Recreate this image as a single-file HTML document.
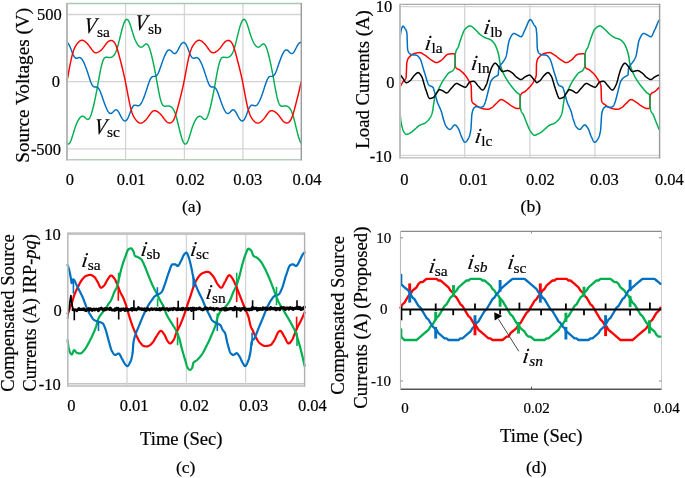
<!DOCTYPE html>
<html><head><meta charset="utf-8"><title>figure</title>
<style>html,body{margin:0;padding:0;background:#fff;}body{width:685px;height:478px;overflow:hidden;}svg{display:block;will-change:transform;}text{font-family:"Liberation Serif",serif;stroke:#000;stroke-width:0.2px;}</style>
</head><body>
<svg width="685" height="478" viewBox="0 0 685 478" font-family="Liberation Serif, serif">
<rect width="685" height="478" fill="#fff"/>
<line x1="67" y1="14.5" x2="301.3" y2="14.5" stroke="#d4d4d4" stroke-width="1.3" />
<line x1="67" y1="81.7" x2="301.3" y2="81.7" stroke="#d4d4d4" stroke-width="1.3" />
<line x1="67" y1="148.8" x2="301.3" y2="148.8" stroke="#d4d4d4" stroke-width="1.3" />
<line x1="125.6" y1="3.5" x2="125.6" y2="159.7" stroke="#d4d4d4" stroke-width="1.3" />
<line x1="184.4" y1="3.5" x2="184.4" y2="159.7" stroke="#d4d4d4" stroke-width="1.3" />
<line x1="242.9" y1="3.5" x2="242.9" y2="159.7" stroke="#d4d4d4" stroke-width="1.3" />
<path d="M67 143.32 L67.5 143.81 L68 144.06 L68.5 144.05 L69 143.8 L69.5 143.29 L70 142.55 L70.5 141.58 L71 140.42 L71.5 139.08 L72 137.6 L72.5 136.02 L73 134.38 L73.5 132.72 L74 131.06 L74.5 129.45 L75 127.9 L75.5 126.44 L76 125.07 L76.5 123.81 L77 122.65 L77.5 121.6 L78 120.64 L78.5 119.77 L79 119 L79.5 118.3 L80 117.7 L80.5 117.19 L81 116.78 L81.5 116.47 L82 116.29 L82.5 116.23 L83 116.29 L83.5 116.47 L84 116.76 L84.5 117.15 L85 117.59 L85.5 118.06 L86 118.53 L86.5 118.94 L87 119.25 L87.5 119.43 L88 119.44 L88.5 119.24 L89 118.83 L89.5 118.19 L90 117.31 L90.5 116.22 L91 114.91 L91.5 113.42 L92 111.76 L92.5 109.96 L93 108.03 L93.5 106 L94 103.86 L94.5 101.64 L95 99.33 L95.5 96.94 L96 94.45 L96.5 91.89 L97 89.24 L97.5 86.52 L98 83.75 L98.5 80.95 L99 78.15 L99.5 75.39 L100 72.71 L100.5 70.16 L101 67.78 L101.5 65.61 L102 63.67 L102.5 61.99 L103 60.59 L103.5 59.45 L104 58.58 L104.5 57.95 L105 57.53 L105.5 57.28 L106 57.17 L106.5 57.16 L107 57.21 L107.5 57.3 L108 57.38 L108.5 57.46 L109 57.5 L109.5 57.5 L110 57.47 L110.5 57.39 L111 57.26 L111.5 57.08 L112 56.86 L112.5 56.57 L113 56.21 L113.5 55.76 L114 55.2 L114.5 54.53 L115 53.72 L115.5 52.75 L116 51.62 L116.5 50.32 L117 48.86 L117.5 47.25 L118 45.49 L118.5 43.61 L119 41.63 L119.5 39.59 L120 37.51 L120.5 35.43 L121 33.38 L121.5 31.38 L122 29.46 L122.5 27.64 L123 25.96 L123.5 24.43 L124 23.07 L124.5 21.89 L125 20.92 L125.5 20.16 L126 19.64 L126.5 19.36 L127 19.33 L127.5 19.55 L128 20.02 L128.5 20.73 L129 21.67 L129.5 22.81 L130 24.13 L130.5 25.59 L131 27.15 L131.5 28.79 L132 30.45 L132.5 32.11 L133 33.73 L133.5 35.29 L134 36.77 L134.5 38.15 L135 39.42 L135.5 40.59 L136 41.66 L136.5 42.63 L137 43.51 L137.5 44.3 L138 45.01 L138.5 45.62 L139 46.15 L139.5 46.57 L140 46.89 L140.5 47.09 L141 47.17 L141.5 47.13 L142 46.96 L142.5 46.68 L143 46.31 L143.5 45.87 L144 45.4 L144.5 44.94 L145 44.52 L145.5 44.19 L146 43.99 L146.5 43.95 L147 44.12 L147.5 44.5 L148 45.11 L148.5 45.95 L149 47.02 L149.5 48.29 L150 49.76 L150.5 51.4 L151 53.18 L151.5 55.09 L152 57.11 L152.5 59.23 L153 61.44 L153.5 63.74 L154 66.12 L154.5 68.59 L155 71.15 L155.5 73.79 L156 76.5 L156.5 79.26 L157 82.06 L157.5 84.86 L158 87.63 L158.5 90.32 L159 92.89 L159.5 95.3 L160 97.5 L160.5 99.47 L161 101.19 L161.5 102.63 L162 103.8 L162.5 104.71 L163 105.38 L163.5 105.83 L164 106.09 L164.5 106.22 L165 106.24 L165.5 106.2 L166 106.12 L166.5 106.03 L167 105.95 L167.5 105.9 L168 105.89 L168.5 105.93 L169 106 L169.5 106.12 L170 106.29 L170.5 106.51 L171 106.79 L171.5 107.14 L172 107.57 L172.5 108.11 L173 108.77 L173.5 109.56 L174 110.51 L174.5 111.61 L175 112.88 L175.5 114.32 L176 115.92 L176.5 117.66 L177 119.52 L177.5 121.49 L178 123.52 L178.5 125.59 L179 127.68 L179.5 129.74 L180 131.75 L180.5 133.68 L181 135.51 L181.5 137.21 L182 138.77 L182.5 140.15 L183 141.36 L183.5 142.36 L184 143.14 L184.5 143.7 L185 144.01 L185.5 144.08 L186 143.89 L186.5 143.46 L187 142.78 L187.5 141.87 L188 140.76 L188.5 139.47 L189 138.03 L189.5 136.47 L190 134.85 L190.5 133.18 L191 131.52 L191.5 129.89 L192 128.32 L192.5 126.84 L193 125.44 L193.5 124.15 L194 122.97 L194.5 121.88 L195 120.9 L195.5 120.01 L196 119.2 L196.5 118.49 L197 117.86 L197.5 117.32 L198 116.88 L198.5 116.55 L199 116.33 L199.5 116.23 L200 116.26 L200.5 116.41 L201 116.67 L201.5 117.03 L202 117.46 L202.5 117.93 L203 118.4 L203.5 118.83 L204 119.17 L204.5 119.39 L205 119.45 L205.5 119.32 L206 118.97 L206.5 118.39 L207 117.58 L207.5 116.55 L208 115.3 L208.5 113.86 L209 112.24 L209.5 110.48 L210 108.58 L210.5 106.58 L211 104.47 L211.5 102.27 L212 99.99 L212.5 97.62 L213 95.16 L213.5 92.61 L214 89.99 L214.5 87.29 L215 84.53 L215.5 81.73 L216 78.93 L216.5 76.16 L217 73.45 L217.5 70.86 L218 68.43 L218.5 66.19 L219 64.19 L219.5 62.43 L220 60.95 L220.5 59.74 L221 58.8 L221.5 58.1 L222 57.63 L222.5 57.33 L223 57.19 L223.5 57.16 L224 57.2 L224.5 57.27 L225 57.36 L225.5 57.44 L226 57.49 L226.5 57.51 L227 57.48 L227.5 57.41 L228 57.3 L228.5 57.14 L229 56.93 L229.5 56.66 L230 56.32 L230.5 55.89 L231 55.37 L231.5 54.73 L232 53.96 L232.5 53.04 L233 51.95 L233.5 50.7 L234 49.29 L234.5 47.71 L235 45.99 L235.5 44.15 L236 42.19 L236.5 40.17 L237 38.1 L237.5 36.01 L238 33.95 L238.5 31.93 L239 29.98 L239.5 28.14 L240 26.42 L240.5 24.84 L241 23.43 L241.5 22.2 L242 21.17 L242.5 20.35 L243 19.76 L243.5 19.42 L244 19.31 L244.5 19.46 L245 19.87 L245.5 20.51 L246 21.39 L246.5 22.47 L247 23.74 L247.5 25.17 L248 26.7 L248.5 28.32 L249 29.98 L249.5 31.65 L250 33.28 L250.5 34.86 L251 36.36 L251.5 37.77 L252 39.07 L252.5 40.27 L253 41.37 L253.5 42.37 L254 43.27 L254.5 44.09 L255 44.82 L255.5 45.46 L256 46.01 L256.5 46.46 L257 46.81 L257.5 47.05 L258 47.16 L258.5 47.15 L259 47.02 L259.5 46.77 L260 46.42 L260.5 46 L261 45.54 L261.5 45.06 L262 44.63 L262.5 44.27 L263 44.03 L263.5 43.94 L264 44.05 L264.5 44.37 L265 44.92 L265.5 45.69 L266 46.7 L266.5 47.91 L267 49.33 L267.5 50.92 L268 52.67 L268.5 54.54 L269 56.54 L269.5 58.63 L270 60.82 L270.5 63.09 L271 65.45 L271.5 67.89 L272 70.42 L272.5 73.04 L273 75.73 L273.5 78.48 L274 81.27 L274.5 84.08 L275 86.86 L275.5 89.57 L276 92.18 L276.5 94.64 L277 96.91 L277.5 98.95 L278 100.74 L278.5 102.26 L279 103.5 L279.5 104.48 L280 105.21 L280.5 105.72 L281 106.03 L281.5 106.2 L282 106.24 L282.5 106.21 L283 106.14 L283.5 106.05 L284 105.97 L284.5 105.91 L285 105.89 L285.5 105.91 L286 105.97 L286.5 106.08 L287 106.24 L287.5 106.44 L288 106.7 L288.5 107.03 L289 107.44 L289.5 107.95 L290 108.57 L290.5 109.33 L291 110.23 L291.5 111.29 L292 112.51 L292.5 113.9 L293 115.46 L293.5 117.16 L294 118.99 L294.5 120.93 L295 122.94 L295.5 125.01 L296 127.09 L296.5 129.16 L297 131.19 L297.5 133.15 L298 135.01 L298.5 136.75 L299 138.35 L299.5 139.78 L300 141.04 L300.5 142.1 L301 142.95" fill="none" stroke="#00b050" stroke-width="1.45" stroke-linejoin="round" stroke-linecap="round" />
<path d="M67 42.54 L67.5 42.82 L68 43.28 L68.5 43.91 L69 44.71 L69.5 45.67 L70 46.76 L70.5 47.96 L71 49.23 L71.5 50.55 L72 51.87 L72.5 53.15 L73 54.34 L73.5 55.41 L74 56.33 L74.5 57.08 L75 57.64 L75.5 58.02 L76 58.23 L76.5 58.29 L77 58.23 L77.5 58.1 L78 57.92 L78.5 57.76 L79 57.63 L79.5 57.59 L80 57.65 L80.5 57.85 L81 58.18 L81.5 58.65 L82 59.26 L82.5 59.99 L83 60.85 L83.5 61.81 L84 62.85 L84.5 63.98 L85 65.18 L85.5 66.45 L86 67.77 L86.5 69.16 L87 70.6 L87.5 72.1 L88 73.63 L88.5 75.19 L89 76.75 L89.5 78.29 L90 79.78 L90.5 81.19 L91 82.49 L91.5 83.65 L92 84.65 L92.5 85.47 L93 86.1 L93.5 86.55 L94 86.84 L94.5 86.99 L95 87.05 L95.5 87.05 L96 87.04 L96.5 87.07 L97 87.18 L97.5 87.42 L98 87.8 L98.5 88.35 L99 89.07 L99.5 89.96 L100 91.01 L100.5 92.2 L101 93.5 L101.5 94.88 L102 96.31 L102.5 97.77 L103 99.24 L103.5 100.69 L104 102.1 L104.5 103.48 L105 104.8 L105.5 106.07 L106 107.27 L106.5 108.41 L107 109.46 L107.5 110.43 L108 111.29 L108.5 112.03 L109 112.64 L109.5 113.1 L110 113.39 L110.5 113.52 L111 113.48 L111.5 113.29 L112 112.97 L112.5 112.54 L113 112.04 L113.5 111.51 L114 110.98 L114.5 110.52 L115 110.14 L115.5 109.89 L116 109.8 L116.5 109.87 L117 110.13 L117.5 110.55 L118 111.14 L118.5 111.87 L119 112.71 L119.5 113.64 L120 114.61 L120.5 115.59 L121 116.56 L121.5 117.49 L122 118.34 L122.5 119.1 L123 119.75 L123.5 120.27 L124 120.66 L124.5 120.9 L125 120.97 L125.5 120.89 L126 120.63 L126.5 120.19 L127 119.58 L127.5 118.81 L128 117.88 L128.5 116.8 L129 115.62 L129.5 114.35 L130 113.03 L130.5 111.71 L131 110.43 L131.5 109.22 L132 108.13 L132.5 107.19 L133 106.41 L133.5 105.82 L134 105.42 L134.5 105.19 L135 105.11 L135.5 105.15 L136 105.28 L136.5 105.45 L137 105.62 L137.5 105.75 L138 105.81 L138.5 105.76 L139 105.59 L139.5 105.28 L140 104.83 L140.5 104.24 L141 103.52 L141.5 102.68 L142 101.73 L142.5 100.7 L143 99.58 L143.5 98.39 L144 97.13 L144.5 95.81 L145 94.44 L145.5 93 L146 91.52 L146.5 89.99 L147 88.43 L147.5 86.87 L148 85.32 L148.5 83.82 L149 82.4 L149.5 81.08 L150 79.9 L150.5 78.88 L151 78.04 L151.5 77.38 L152 76.9 L152.5 76.59 L153 76.42 L153.5 76.36 L154 76.35 L154.5 76.36 L155 76.34 L155.5 76.24 L156 76.02 L156.5 75.67 L157 75.14 L157.5 74.44 L158 73.58 L158.5 72.55 L159 71.38 L159.5 70.09 L160 68.72 L160.5 67.29 L161 65.83 L161.5 64.37 L162 62.92 L162.5 61.49 L163 60.11 L163.5 58.78 L164 57.51 L164.5 56.29 L165 55.15 L165.5 54.08 L166 53.1 L166.5 52.22 L167 51.46 L167.5 50.84 L168 50.36 L168.5 50.04 L169 49.89 L169.5 49.9 L170 50.07 L170.5 50.38 L171 50.79 L171.5 51.29 L172 51.82 L172.5 52.34 L173 52.82 L173.5 53.22 L174 53.48 L174.5 53.6 L175 53.55 L175.5 53.32 L176 52.92 L176.5 52.35 L177 51.64 L177.5 50.81 L178 49.9 L178.5 48.93 L179 47.94 L179.5 46.97 L180 46.04 L180.5 45.18 L181 44.4 L181.5 43.73 L182 43.19 L182.5 42.79 L183 42.53 L183.5 42.43 L184 42.49 L184.5 42.73 L185 43.14 L185.5 43.72 L186 44.47 L186.5 45.39 L187 46.44 L187.5 47.61 L188 48.87 L188.5 50.18 L189 51.51 L189.5 52.8 L190 54.02 L190.5 55.13 L191 56.09 L191.5 56.89 L192 57.5 L192.5 57.93 L193 58.19 L193.5 58.29 L194 58.26 L194.5 58.14 L195 57.97 L195.5 57.8 L196 57.66 L196.5 57.59 L197 57.62 L197.5 57.78 L198 58.07 L198.5 58.5 L199 59.07 L199.5 59.78 L200 60.6 L200.5 61.53 L201 62.55 L201.5 63.66 L202 64.84 L202.5 66.09 L203 67.4 L203.5 68.77 L204 70.2 L204.5 71.67 L205 73.2 L205.5 74.75 L206 76.31 L206.5 77.86 L207 79.37 L207.5 80.81 L208 82.14 L208.5 83.34 L209 84.39 L209.5 85.26 L210 85.94 L210.5 86.44 L211 86.77 L211.5 86.96 L212 87.04 L212.5 87.05 L213 87.04 L213.5 87.06 L214 87.14 L214.5 87.34 L215 87.67 L215.5 88.17 L216 88.85 L216.5 89.69 L217 90.7 L217.5 91.85 L218 93.12 L218.5 94.48 L219 95.91 L219.5 97.36 L220 98.83 L220.5 100.28 L221 101.71 L221.5 103.1 L222 104.43 L222.5 105.72 L223 106.94 L223.5 108.1 L224 109.18 L224.5 110.17 L225 111.06 L225.5 111.84 L226 112.49 L226.5 112.98 L227 113.32 L227.5 113.5 L228 113.51 L228.5 113.36 L229 113.07 L229.5 112.67 L230 112.19 L230.5 111.66 L231 111.13 L231.5 110.64 L232 110.23 L232.5 109.95 L233 109.81 L233.5 109.83 L234 110.04 L234.5 110.42 L235 110.96 L235.5 111.65 L236 112.47 L236.5 113.37 L237 114.33 L237.5 115.32 L238 116.29 L238.5 117.23 L239 118.11 L239.5 118.9 L240 119.58 L240.5 120.14 L241 120.57 L241.5 120.85 L242 120.97 L242.5 120.93 L243 120.72 L243.5 120.33 L244 119.77 L244.5 119.04 L245 118.15 L245.5 117.12 L246 115.96 L246.5 114.71 L247 113.4 L247.5 112.08 L248 110.78 L248.5 109.55 L249 108.42 L249.5 107.43 L250 106.61 L250.5 105.97 L251 105.51 L251.5 105.24 L252 105.12 L252.5 105.13 L253 105.24 L253.5 105.4 L254 105.58 L254.5 105.72 L255 105.8 L255.5 105.79 L256 105.65 L256.5 105.38 L257 104.97 L257.5 104.41 L258 103.73 L258.5 102.92 L259 102.01 L259.5 101 L260 99.9 L260.5 98.73 L261 97.49 L261.5 96.19 L262 94.83 L262.5 93.41 L263 91.94 L263.5 90.42 L264 88.87 L264.5 87.31 L265 85.75 L265.5 84.24 L266 82.79 L266.5 81.44 L267 80.21 L267.5 79.15 L268 78.25 L268.5 77.55 L269 77.02 L269.5 76.67 L270 76.46 L270.5 76.37 L271 76.35 L271.5 76.36 L272 76.35 L272.5 76.28 L273 76.1 L273.5 75.78 L274 75.31 L274.5 74.66 L275 73.84 L275.5 72.85 L276 71.72 L276.5 70.46 L277 69.11 L277.5 67.69 L278 66.24 L278.5 64.78 L279 63.32 L279.5 61.89 L280 60.5 L280.5 59.15 L281 57.86 L281.5 56.63 L282 55.46 L282.5 54.37 L283 53.36 L283.5 52.46 L284 51.66 L284.5 51 L285 50.48 L285.5 50.11 L286 49.92 L286.5 49.88 L287 50.01 L287.5 50.28 L288 50.67 L288.5 51.14 L289 51.67 L289.5 52.2 L290 52.7 L290.5 53.12 L291 53.42 L291.5 53.58 L292 53.58 L292.5 53.4 L293 53.05 L293.5 52.52 L294 51.85 L294.5 51.05 L295 50.16 L295.5 49.2 L296 48.22 L296.5 47.24 L297 46.29 L297.5 45.41 L298 44.61 L298.5 43.91 L299 43.33 L299.5 42.88 L300 42.58 L300.5 42.44 L301 42.46" fill="none" stroke="#0070c0" stroke-width="1.45" stroke-linejoin="round" stroke-linecap="round" />
<path d="M67 80.93 L67.5 78.39 L68 75.77 L68.5 73.11 L69 70.42 L69.5 67.74 L70 65.12 L70.5 62.58 L71 60.16 L71.5 57.9 L72 55.81 L72.5 53.9 L73 52.19 L73.5 50.67 L74 49.33 L74.5 48.15 L75 47.1 L75.5 46.18 L76 45.36 L76.5 44.61 L77 43.93 L77.5 43.29 L78 42.71 L78.5 42.17 L79 41.69 L79.5 41.26 L80 40.9 L80.5 40.62 L81 40.41 L81.5 40.29 L82 40.25 L82.5 40.3 L83 40.43 L83.5 40.62 L84 40.88 L84.5 41.19 L85 41.55 L85.5 41.94 L86 42.37 L86.5 42.83 L87 43.32 L87.5 43.85 L88 44.41 L88.5 45.01 L89 45.65 L89.5 46.32 L90 47.02 L90.5 47.73 L91 48.46 L91.5 49.17 L92 49.86 L92.5 50.5 L93 51.09 L93.5 51.6 L94 52.02 L94.5 52.35 L95 52.58 L95.5 52.71 L96 52.75 L96.5 52.71 L97 52.6 L97.5 52.43 L98 52.2 L98.5 51.94 L99 51.64 L99.5 51.31 L100 50.96 L100.5 50.57 L101 50.14 L101.5 49.68 L102 49.18 L102.5 48.63 L103 48.04 L103.5 47.41 L104 46.75 L104.5 46.06 L105 45.37 L105.5 44.67 L106 44 L106.5 43.36 L107 42.77 L107.5 42.23 L108 41.76 L108.5 41.36 L109 41.04 L109.5 40.78 L110 40.6 L110.5 40.49 L111 40.45 L111.5 40.48 L112 40.59 L112.5 40.79 L113 41.08 L113.5 41.48 L114 42.01 L114.5 42.67 L115 43.48 L115.5 44.44 L116 45.56 L116.5 46.84 L117 48.26 L117.5 49.82 L118 51.49 L118.5 53.26 L119 55.1 L119.5 57 L120 58.93 L120.5 60.88 L121 62.83 L121.5 64.8 L122 66.78 L122.5 68.79 L123 70.83 L123.5 72.92 L124 75.09 L124.5 77.34 L125 79.68 L125.5 82.12 L126 84.65 L126.5 87.26 L127 89.92 L127.5 92.6 L128 95.28 L128.5 97.92 L129 100.47 L129.5 102.91 L130 105.19 L130.5 107.31 L131 109.24 L131.5 110.98 L132 112.53 L132.5 113.89 L133 115.1 L133.5 116.16 L134 117.1 L134.5 117.93 L135 118.69 L135.5 119.38 L136 120.02 L136.5 120.61 L137 121.15 L137.5 121.65 L138 122.08 L138.5 122.45 L139 122.75 L139.5 122.96 L140 123.1 L140.5 123.15 L141 123.11 L141.5 122.99 L142 122.81 L142.5 122.56 L143 122.26 L143.5 121.91 L144 121.52 L144.5 121.09 L145 120.64 L145.5 120.15 L146 119.63 L146.5 119.07 L147 118.47 L147.5 117.84 L148 117.18 L148.5 116.48 L149 115.77 L149.5 115.05 L150 114.33 L150.5 113.64 L151 112.98 L151.5 112.39 L152 111.87 L152.5 111.44 L153 111.09 L153.5 110.85 L154 110.7 L154.5 110.65 L155 110.68 L155.5 110.78 L156 110.94 L156.5 111.16 L157 111.42 L157.5 111.71 L158 112.04 L158.5 112.39 L159 112.78 L159.5 113.2 L160 113.65 L160.5 114.15 L161 114.69 L161.5 115.27 L162 115.9 L162.5 116.56 L163 117.24 L163.5 117.94 L164 118.63 L164.5 119.31 L165 119.95 L165.5 120.55 L166 121.1 L166.5 121.58 L167 121.99 L167.5 122.32 L168 122.59 L168.5 122.78 L169 122.9 L169.5 122.95 L170 122.93 L170.5 122.83 L171 122.65 L171.5 122.37 L172 121.98 L172.5 121.47 L173 120.83 L173.5 120.04 L174 119.1 L174.5 118.01 L175 116.75 L175.5 115.35 L176 113.81 L176.5 112.15 L177 110.39 L177.5 108.56 L178 106.67 L178.5 104.74 L179 102.8 L179.5 100.84 L180 98.87 L180.5 96.9 L181 94.9 L181.5 92.86 L182 90.77 L182.5 88.62 L183 86.38 L183.5 84.05 L184 81.63 L184.5 79.11 L185 76.51 L185.5 73.86 L186 71.17 L186.5 68.49 L187 65.85 L187.5 63.28 L188 60.83 L188.5 58.52 L189 56.38 L189.5 54.42 L190 52.65 L190.5 51.08 L191 49.69 L191.5 48.46 L192 47.38 L192.5 46.43 L193 45.58 L193.5 44.81 L194 44.11 L194.5 43.47 L195 42.87 L195.5 42.32 L196 41.82 L196.5 41.38 L197 41 L197.5 40.69 L198 40.46 L198.5 40.32 L199 40.26 L199.5 40.28 L200 40.38 L200.5 40.56 L201 40.8 L201.5 41.1 L202 41.44 L202.5 41.83 L203 42.25 L203.5 42.7 L204 43.18 L204.5 43.7 L205 44.25 L205.5 44.84 L206 45.47 L206.5 46.13 L207 46.82 L207.5 47.53 L208 48.25 L208.5 48.97 L209 49.67 L209.5 50.33 L210 50.93 L210.5 51.46 L211 51.91 L211.5 52.26 L212 52.52 L212.5 52.68 L213 52.75 L213.5 52.73 L214 52.64 L214.5 52.48 L215 52.27 L215.5 52.02 L216 51.73 L216.5 51.41 L217 51.06 L217.5 50.68 L218 50.27 L218.5 49.82 L219 49.32 L219.5 48.79 L220 48.21 L220.5 47.59 L221 46.94 L221.5 46.26 L222 45.56 L222.5 44.87 L223 44.19 L223.5 43.53 L224 42.93 L224.5 42.37 L225 41.89 L225.5 41.47 L226 41.12 L226.5 40.84 L227 40.64 L227.5 40.51 L228 40.45 L228.5 40.46 L229 40.55 L229.5 40.72 L230 40.99 L230.5 41.36 L231 41.85 L231.5 42.47 L232 43.24 L232.5 44.15 L233 45.23 L233.5 46.46 L234 47.85 L234.5 49.37 L235 51.01 L235.5 52.76 L236 54.58 L236.5 56.46 L237 58.38 L237.5 60.33 L238 62.29 L238.5 64.25 L239 66.23 L239.5 68.22 L240 70.25 L240.5 72.33 L241 74.47 L241.5 76.7 L242 79.02 L242.5 81.43 L243 83.93 L243.5 86.52 L244 89.17 L244.5 91.85 L245 94.54 L245.5 97.19 L246 99.77 L246.5 102.24 L247 104.57 L247.5 106.74 L248 108.72 L248.5 110.51 L249 112.11 L249.5 113.53 L250 114.78 L250.5 115.87 L251 116.84 L251.5 117.71 L252 118.49 L252.5 119.19 L253 119.85 L253.5 120.45 L254 121.01 L254.5 121.51 L255 121.96 L255.5 122.35 L256 122.67 L256.5 122.91 L257 123.07 L257.5 123.14 L258 123.13 L258.5 123.03 L259 122.87 L259.5 122.64 L260 122.35 L260.5 122.01 L261 121.63 L261.5 121.21 L262 120.77 L262.5 120.29 L263 119.78 L263.5 119.23 L264 118.64 L264.5 118.02 L265 117.37 L265.5 116.68 L266 115.97 L266.5 115.25 L267 114.53 L267.5 113.83 L268 113.16 L268.5 112.55 L269 112.01 L269.5 111.55 L270 111.18 L270.5 110.91 L271 110.73 L271.5 110.65 L272 110.66 L272.5 110.74 L273 110.89 L273.5 111.1 L274 111.34 L274.5 111.63 L275 111.94 L275.5 112.29 L276 112.67 L276.5 113.07 L277 113.52 L277.5 114 L278 114.53 L278.5 115.11 L279 115.72 L279.5 116.37 L280 117.05 L280.5 117.74 L281 118.44 L281.5 119.12 L282 119.78 L282.5 120.39 L283 120.95 L283.5 121.45 L284 121.88 L284.5 122.24 L285 122.52 L285.5 122.73 L286 122.87 L286.5 122.94 L287 122.94 L287.5 122.87 L288 122.71 L288.5 122.45 L289 122.1 L289.5 121.63 L290 121.02 L290.5 120.28 L291 119.38 L291.5 118.33 L292 117.12 L292.5 115.76 L293 114.25 L293.5 112.63 L294 110.89 L294.5 109.08 L295 107.2 L295.5 105.29 L296 103.34 L296.5 101.39 L297 99.43 L297.5 97.45 L298 95.46 L298.5 93.43 L299 91.36 L299.5 89.23 L300 87.02 L300.5 84.71 L301 82.32" fill="none" stroke="#ff0000" stroke-width="1.45" stroke-linejoin="round" stroke-linecap="round" />
<line x1="67" y1="3.5" x2="301.3" y2="3.5" stroke="#a3cbb0" stroke-width="1.3" />
<line x1="67" y1="159.7" x2="301.3" y2="159.7" stroke="#b9cbbd" stroke-width="1.6" />
<line x1="67" y1="2.9" x2="67" y2="160.5" stroke="#b5b5b5" stroke-width="1.9" />
<line x1="301.3" y1="2.9" x2="301.3" y2="160.5" stroke="#9a9a9a" stroke-width="1.4" />
<line x1="400" y1="6.6" x2="659.6" y2="6.6" stroke="#d4d4d4" stroke-width="1.3" />
<line x1="400" y1="80.7" x2="659.6" y2="80.7" stroke="#d4d4d4" stroke-width="1.3" />
<line x1="400" y1="155.4" x2="659.6" y2="155.4" stroke="#d4d4d4" stroke-width="1.3" />
<line x1="464.7" y1="4.4" x2="464.7" y2="157.7" stroke="#d4d4d4" stroke-width="1.3" />
<line x1="529.9" y1="4.4" x2="529.9" y2="157.7" stroke="#d4d4d4" stroke-width="1.3" />
<line x1="594.9" y1="4.4" x2="594.9" y2="157.7" stroke="#d4d4d4" stroke-width="1.3" />
<path d="M400 86.9 L400.25 86.44 L400.5 85.98 L400.75 85.53 L401 85.08 L401.25 84.65 L401.5 84.22 L401.75 83.8 L402 83.38 L402.25 82.97 L402.5 82.57 L402.75 82.18 L403 81.8 L403.25 81.46 L403.5 81.17 L403.75 80.92 L404 80.69 L404.25 80.47 L404.5 80.24 L404.75 79.99 L405 79.69 L405.25 79.32 L405.5 78.88 L405.75 78.35 L406 77.7 L406.25 76.04 L406.5 69.14 L406.75 63.14 L407 61.95 L407.25 60.94 L407.5 60.1 L407.75 59.4 L408 58.83 L408.25 58.37 L408.5 57.98 L408.75 57.67 L409 57.4 L409.25 57.15 L409.5 56.9 L409.75 56.65 L410 56.39 L410.25 56.14 L410.5 55.9 L410.75 55.67 L411 55.45 L411.25 55.24 L411.5 55.04 L411.75 54.86 L412 54.68 L412.25 54.51 L412.5 54.35 L412.75 54.2 L413 54.07 L413.25 53.94 L413.5 53.82 L413.75 53.71 L414 53.62 L414.25 53.53 L414.5 53.45 L414.75 53.39 L415 53.32 L415.25 53.26 L415.5 53.2 L415.75 53.14 L416 53.09 L416.25 53.03 L416.5 52.98 L416.75 52.93 L417 52.88 L417.25 52.84 L417.5 52.8 L417.75 52.76 L418 52.72 L418.25 52.69 L418.5 52.67 L418.75 52.64 L419 52.63 L419.25 52.61 L419.5 52.6 L419.75 52.6 L420 52.61 L420.25 52.64 L420.5 52.68 L420.75 52.75 L421 52.83 L421.25 52.93 L421.5 53.04 L421.75 53.17 L422 53.3 L422.25 53.45 L422.5 53.6 L422.75 53.76 L423 53.92 L423.25 54.09 L423.5 54.26 L423.75 54.43 L424 54.59 L424.25 54.76 L424.5 54.92 L424.75 55.07 L425 55.22 L425.25 55.38 L425.5 55.55 L425.75 55.72 L426 55.9 L426.25 56.08 L426.5 56.27 L426.75 56.47 L427 56.66 L427.25 56.86 L427.5 57.07 L427.75 57.27 L428 57.48 L428.25 57.68 L428.5 57.89 L428.75 58.09 L429 58.3 L429.25 58.5 L429.5 58.69 L429.75 58.89 L430 59.08 L430.25 59.26 L430.5 59.45 L430.75 59.62 L431 59.79 L431.25 59.95 L431.5 60.1 L431.75 60.25 L432 60.41 L432.25 60.57 L432.5 60.74 L432.75 60.91 L433 61.08 L433.25 61.24 L433.5 61.41 L433.75 61.57 L434 61.72 L434.25 61.87 L434.5 62 L434.75 62.13 L435 62.25 L435.25 62.35 L435.5 62.43 L435.75 62.5 L436 62.56 L436.25 62.59 L436.5 62.6 L436.75 62.59 L437 62.56 L437.25 62.51 L437.5 62.44 L437.75 62.36 L438 62.26 L438.25 62.15 L438.5 62.02 L438.75 61.89 L439 61.74 L439.25 61.59 L439.5 61.43 L439.75 61.27 L440 61.1 L440.25 60.93 L440.5 60.76 L440.75 60.59 L441 60.42 L441.25 60.26 L441.5 60.1 L441.75 59.93 L442 59.74 L442.25 59.53 L442.5 59.31 L442.75 59.07 L443 58.82 L443.25 58.55 L443.5 58.28 L443.75 58 L444 57.72 L444.25 57.43 L444.5 57.15 L444.75 56.86 L445 56.58 L445.25 56.31 L445.5 56.04 L445.75 55.78 L446 55.54 L446.25 55.3 L446.5 55.09 L446.75 54.89 L447 54.71 L447.25 54.56 L447.5 54.42 L447.75 54.32 L448 54.24 L448.25 54.19 L448.5 54.16 L448.75 54.12 L449 54.08 L449.25 54.05 L449.5 54.02 L449.75 53.99 L450 53.96 L450.25 53.93 L450.5 53.9 L450.75 53.88 L451 53.85 L451.25 53.83 L451.5 53.81 L451.75 53.79 L452 53.77 L452.25 53.76 L452.5 53.74 L452.75 53.73 L453 53.72 L453.25 53.71 L453.5 53.71 L453.75 53.7 L454 53.7 L454.25 53.72 L454.5 53.83 L454.75 54.08 L455 54.5 L455.25 65.55 L455.5 66.9 L455.75 67.34 L456 67.72 L456.25 68.04 L456.5 68.31 L456.75 68.53 L457 68.71 L457.25 68.86 L457.5 68.99 L457.75 69.09 L458 69.19 L458.25 69.27 L458.5 69.35 L458.75 69.44 L459 69.54 L459.25 69.66 L459.5 69.8 L459.75 69.98 L460 70.19 L460.25 70.4 L460.5 70.62 L460.75 70.83 L461 71.05 L461.25 71.27 L461.5 71.49 L461.75 71.71 L462 71.93 L462.25 72.16 L462.5 72.39 L462.75 72.63 L463 72.87 L463.25 73.11 L463.5 73.36 L463.75 73.62 L464 73.88 L464.25 74.15 L464.5 74.42 L464.75 74.71 L465 75 L465.25 75.3 L465.5 75.62 L465.75 75.94 L466 76.28 L466.25 76.63 L466.5 76.99 L466.75 77.36 L467 77.74 L467.25 78.13 L467.5 78.52 L467.75 78.93 L468 79.34 L468.25 79.76 L468.5 80.18 L468.75 80.61 L469 81.03 L469.25 81.42 L469.5 81.79 L469.75 82.17 L470 82.59 L470.25 83.07 L470.5 83.63 L470.75 84.3 L471 85.1 L471.25 86.5 L471.5 96.95 L471.75 100.77 L472 101.44 L472.25 102 L472.5 102.47 L472.75 102.84 L473 103.14 L473.25 103.38 L473.5 103.57 L473.75 103.73 L474 103.87 L474.25 104 L474.5 104.15 L474.75 104.31 L475 104.5 L475.25 104.71 L475.5 104.92 L475.75 105.11 L476 105.3 L476.25 105.49 L476.5 105.66 L476.75 105.83 L477 105.99 L477.25 106.15 L477.5 106.3 L477.75 106.45 L478 106.59 L478.25 106.72 L478.5 106.85 L478.75 106.98 L479 107.1 L479.25 107.22 L479.5 107.34 L479.75 107.46 L480 107.58 L480.25 107.7 L480.5 107.81 L480.75 107.92 L481 108.03 L481.25 108.13 L481.5 108.23 L481.75 108.33 L482 108.42 L482.25 108.51 L482.5 108.59 L482.75 108.66 L483 108.73 L483.25 108.79 L483.5 108.85 L483.75 108.89 L484 108.93 L484.25 108.97 L484.5 109.01 L484.75 109.05 L485 109.08 L485.25 109.12 L485.5 109.15 L485.75 109.18 L486 109.21 L486.25 109.23 L486.5 109.26 L486.75 109.27 L487 109.29 L487.25 109.3 L487.5 109.3 L487.75 109.3 L488 109.28 L488.25 109.24 L488.5 109.19 L488.75 109.12 L489 109.04 L489.25 108.95 L489.5 108.85 L489.75 108.74 L490 108.62 L490.25 108.49 L490.5 108.36 L490.75 108.22 L491 108.08 L491.25 107.93 L491.5 107.79 L491.75 107.64 L492 107.5 L492.25 107.35 L492.5 107.17 L492.75 106.98 L493 106.77 L493.25 106.55 L493.5 106.31 L493.75 106.06 L494 105.81 L494.25 105.55 L494.5 105.29 L494.75 105.03 L495 104.76 L495.25 104.5 L495.5 104.25 L495.75 104 L496 103.77 L496.25 103.54 L496.5 103.32 L496.75 103.09 L497 102.84 L497.25 102.59 L497.5 102.32 L497.75 102.06 L498 101.79 L498.25 101.53 L498.5 101.27 L498.75 101.02 L499 100.78 L499.25 100.56 L499.5 100.35 L499.75 100.16 L500 100 L500.25 99.86 L500.5 99.74 L500.75 99.66 L501 99.61 L501.25 99.6 L501.5 99.62 L501.75 99.65 L502 99.7 L502.25 99.78 L502.5 99.86 L502.75 99.96 L503 100.08 L503.25 100.2 L503.5 100.34 L503.75 100.49 L504 100.64 L504.25 100.8 L504.5 100.96 L504.75 101.13 L505 101.29 L505.25 101.46 L505.5 101.63 L505.75 101.79 L506 101.96 L506.25 102.11 L506.5 102.26 L506.75 102.42 L507 102.58 L507.25 102.76 L507.5 102.94 L507.75 103.12 L508 103.31 L508.25 103.51 L508.5 103.71 L508.75 103.91 L509 104.11 L509.25 104.31 L509.5 104.51 L509.75 104.7 L510 104.9 L510.25 105.09 L510.5 105.27 L510.75 105.45 L511 105.62 L511.25 105.78 L511.5 105.93 L511.75 106.07 L512 106.21 L512.25 106.35 L512.5 106.49 L512.75 106.63 L513 106.78 L513.25 106.92 L513.5 107.06 L513.75 107.21 L514 107.35 L514.25 107.48 L514.5 107.62 L514.75 107.75 L515 107.87 L515.25 107.98 L515.5 108.09 L515.75 108.19 L516 108.28 L516.25 108.37 L516.5 108.44 L516.75 108.5 L517 108.54 L517.25 108.58 L517.5 108.6 L517.75 108.6 L518 108.6 L518.25 108.6 L518.5 108.6 L518.75 108.6 L519 108.6 L519.25 108.6 L519.5 108.6 L519.75 108.52 L520 107.93 L520.25 97.65 L520.5 95.32 L520.75 94.8 L521 94.34 L521.25 93.95 L521.5 93.62 L521.75 93.34 L522 93.11 L522.25 92.92 L522.5 92.76 L522.75 92.63 L523 92.52 L523.25 92.42 L523.5 92.33 L523.75 92.24 L524 92.14 L524.25 92.04 L524.5 91.91 L524.75 91.76 L525 91.57 L525.25 91.35 L525.5 91.12 L525.75 90.89 L526 90.66 L526.25 90.44 L526.5 90.21 L526.75 89.98 L527 89.76 L527.25 89.53 L527.5 89.3 L527.75 89.07 L528 88.83 L528.25 88.59 L528.5 88.35 L528.75 88.1 L529 87.84 L529.25 87.58 L529.5 87.31 L529.75 87.04 L530 86.75 L530.25 86.46 L530.5 86.16 L530.75 85.85 L531 85.54 L531.25 85.22 L531.5 84.9 L531.75 84.57 L532 84.22 L532.25 83.87 L532.5 83.5 L532.75 83.12 L533 82.72 L533.25 82.31 L533.5 81.89 L533.75 81.44 L534 80.98 L534.25 80.5 L534.5 80.01 L534.75 79.58 L535 79.17 L535.25 78.73 L535.5 78.18 L535.75 77.47 L536 76.53 L536.25 75.29 L536.5 63.4 L536.75 62.17 L537 61.13 L537.25 60.25 L537.5 59.53 L537.75 58.94 L538 58.45 L538.25 58.05 L538.5 57.73 L538.75 57.45 L539 57.2 L539.25 56.95 L539.5 56.7 L539.75 56.44 L540 56.19 L540.25 55.95 L540.5 55.71 L540.75 55.49 L541 55.28 L541.25 55.08 L541.5 54.89 L541.75 54.71 L542 54.54 L542.25 54.38 L542.5 54.23 L542.75 54.09 L543 53.96 L543.25 53.84 L543.5 53.73 L543.75 53.64 L544 53.55 L544.25 53.47 L544.5 53.4 L544.75 53.34 L545 53.28 L545.25 53.21 L545.5 53.16 L545.75 53.1 L546 53.04 L546.25 52.99 L546.5 52.94 L546.75 52.89 L547 52.85 L547.25 52.8 L547.5 52.77 L547.75 52.73 L548 52.7 L548.25 52.67 L548.5 52.65 L548.75 52.63 L549 52.61 L549.25 52.61 L549.5 52.6 L549.75 52.6 L550 52.63 L550.25 52.67 L550.5 52.74 L550.75 52.82 L551 52.91 L551.25 53.02 L551.5 53.14 L551.75 53.28 L552 53.42 L552.25 53.57 L552.5 53.73 L552.75 53.89 L553 54.06 L553.25 54.22 L553.5 54.39 L553.75 54.56 L554 54.73 L554.25 54.89 L554.5 55.04 L554.75 55.19 L555 55.35 L555.25 55.51 L555.5 55.68 L555.75 55.86 L556 56.05 L556.25 56.23 L556.5 56.43 L556.75 56.62 L557 56.82 L557.25 57.03 L557.5 57.23 L557.75 57.44 L558 57.64 L558.25 57.85 L558.5 58.05 L558.75 58.25 L559 58.46 L559.25 58.65 L559.5 58.85 L559.75 59.04 L560 59.23 L560.25 59.41 L560.5 59.59 L560.75 59.75 L561 59.92 L561.25 60.07 L561.5 60.22 L561.75 60.38 L562 60.54 L562.25 60.71 L562.5 60.87 L562.75 61.04 L563 61.21 L563.25 61.37 L563.5 61.54 L563.75 61.69 L564 61.84 L564.25 61.98 L564.5 62.11 L564.75 62.22 L565 62.33 L565.25 62.42 L565.5 62.49 L565.75 62.55 L566 62.58 L566.25 62.6 L566.5 62.59 L566.75 62.57 L567 62.52 L567.25 62.46 L567.5 62.37 L567.75 62.28 L568 62.17 L568.25 62.05 L568.5 61.92 L568.75 61.77 L569 61.62 L569.25 61.47 L569.5 61.3 L569.75 61.14 L570 60.97 L570.25 60.8 L570.5 60.63 L570.75 60.46 L571 60.29 L571.25 60.13 L571.5 59.97 L571.75 59.78 L572 59.58 L572.25 59.35 L572.5 59.12 L572.75 58.87 L573 58.61 L573.25 58.34 L573.5 58.06 L573.75 57.78 L574 57.49 L574.25 57.2 L574.5 56.92 L574.75 56.64 L575 56.36 L575.25 56.09 L575.5 55.83 L575.75 55.58 L576 55.35 L576.25 55.13 L576.5 54.93 L576.75 54.75 L577 54.59 L577.25 54.45 L577.5 54.34 L577.75 54.25 L578 54.2 L578.25 54.16 L578.5 54.13 L578.75 54.09 L579 54.06 L579.25 54.02 L579.5 53.99 L579.75 53.96 L580 53.93 L580.25 53.91 L580.5 53.88 L580.75 53.86 L581 53.83 L581.25 53.81 L581.5 53.79 L581.75 53.78 L582 53.76 L582.25 53.74 L582.5 53.73 L582.75 53.72 L583 53.71 L583.25 53.71 L583.5 53.7 L583.75 53.7 L584 53.71 L584.25 53.8 L584.5 54.02 L584.75 54.4 L585 63.34 L585.25 66.81 L585.5 67.26 L585.75 67.65 L586 67.98 L586.25 68.26 L586.5 68.49 L586.75 68.68 L587 68.84 L587.25 68.97 L587.5 69.07 L587.75 69.17 L588 69.25 L588.25 69.34 L588.5 69.42 L588.75 69.52 L589 69.63 L589.25 69.77 L589.5 69.94 L589.75 70.14 L590 70.36 L590.25 70.57 L590.5 70.79 L590.75 71 L591 71.22 L591.25 71.44 L591.5 71.66 L591.75 71.89 L592 72.11 L592.25 72.34 L592.5 72.58 L592.75 72.82 L593 73.06 L593.25 73.31 L593.5 73.57 L593.75 73.83 L594 74.09 L594.25 74.37 L594.5 74.65 L594.75 74.94 L595 75.24 L595.25 75.55 L595.5 75.88 L595.75 76.21 L596 76.56 L596.25 76.92 L596.5 77.29 L596.75 77.66 L597 78.05 L597.25 78.44 L597.5 78.85 L597.75 79.26 L598 79.67 L598.25 80.1 L598.5 80.53 L598.75 80.95 L599 81.34 L599.25 81.71 L599.5 82.09 L599.75 82.5 L600 82.96 L600.25 83.51 L600.5 84.15 L600.75 84.93 L601 86.09 L601.25 93.94 L601.5 100.62 L601.75 101.32 L602 101.9 L602.25 102.38 L602.5 102.77 L602.75 103.08 L603 103.34 L603.25 103.54 L603.5 103.7 L603.75 103.84 L604 103.98 L604.25 104.12 L604.5 104.27 L604.75 104.46 L605 104.67 L605.25 104.88 L605.5 105.07 L605.75 105.27 L606 105.45 L606.25 105.63 L606.5 105.8 L606.75 105.96 L607 106.12 L607.25 106.27 L607.5 106.42 L607.75 106.56 L608 106.69 L608.25 106.82 L608.5 106.95 L608.75 107.07 L609 107.19 L609.25 107.32 L609.5 107.44 L609.75 107.56 L610 107.67 L610.25 107.79 L610.5 107.9 L610.75 108.01 L611 108.11 L611.25 108.21 L611.5 108.31 L611.75 108.4 L612 108.49 L612.25 108.57 L612.5 108.65 L612.75 108.72 L613 108.78 L613.25 108.84 L613.5 108.88 L613.75 108.92 L614 108.96 L614.25 109 L614.5 109.04 L614.75 109.08 L615 109.11 L615.25 109.15 L615.5 109.18 L615.75 109.2 L616 109.23 L616.25 109.25 L616.5 109.27 L616.75 109.28 L617 109.29 L617.25 109.3 L617.5 109.3 L617.75 109.28 L618 109.25 L618.25 109.2 L618.5 109.14 L618.75 109.06 L619 108.97 L619.25 108.87 L619.5 108.76 L619.75 108.64 L620 108.51 L620.25 108.38 L620.5 108.25 L620.75 108.1 L621 107.96 L621.25 107.82 L621.5 107.67 L621.75 107.53 L622 107.38 L622.25 107.21 L622.5 107.02 L622.75 106.81 L623 106.59 L623.25 106.36 L623.5 106.11 L623.75 105.86 L624 105.6 L624.25 105.34 L624.5 105.08 L624.75 104.82 L625 104.56 L625.25 104.3 L625.5 104.05 L625.75 103.81 L626 103.59 L626.25 103.37 L626.5 103.14 L626.75 102.89 L627 102.64 L627.25 102.38 L627.5 102.11 L627.75 101.85 L628 101.58 L628.25 101.32 L628.5 101.07 L628.75 100.83 L629 100.6 L629.25 100.39 L629.5 100.2 L629.75 100.03 L630 99.88 L630.25 99.76 L630.5 99.67 L630.75 99.62 L631 99.6 L631.25 99.61 L631.5 99.64 L631.75 99.69 L632 99.76 L632.25 99.84 L632.5 99.94 L632.75 100.05 L633 100.18 L633.25 100.31 L633.5 100.46 L633.75 100.61 L634 100.77 L634.25 100.93 L634.5 101.09 L634.75 101.26 L635 101.43 L635.25 101.6 L635.5 101.76 L635.75 101.92 L636 102.08 L636.25 102.23 L636.5 102.38 L636.75 102.55 L637 102.72 L637.25 102.9 L637.5 103.08 L637.75 103.27 L638 103.47 L638.25 103.67 L638.5 103.87 L638.75 104.07 L639 104.27 L639.25 104.47 L639.5 104.66 L639.75 104.86 L640 105.05 L640.25 105.23 L640.5 105.41 L640.75 105.58 L641 105.75 L641.25 105.9 L641.5 106.05 L641.75 106.18 L642 106.32 L642.25 106.46 L642.5 106.6 L642.75 106.75 L643 106.89 L643.25 107.04 L643.5 107.18 L643.75 107.32 L644 107.46 L644.25 107.59 L644.5 107.72 L644.75 107.84 L645 107.96 L645.25 108.07 L645.5 108.17 L645.75 108.27 L646 108.35 L646.25 108.42 L646.5 108.48 L646.75 108.53 L647 108.57 L647.25 108.59 L647.5 108.6 L647.75 108.6 L648 108.6 L648.25 108.6 L648.5 108.6 L648.75 108.6 L649 108.6 L649.25 108.6 L649.5 108.56 L649.75 108.1 L650 101.59 L650.25 95.44 L650.5 94.9 L650.75 94.43 L651 94.02 L651.25 93.68 L651.5 93.4 L651.75 93.16 L652 92.96 L652.25 92.79 L652.5 92.66 L652.75 92.54 L653 92.44 L653.25 92.35 L653.5 92.26 L653.75 92.16 L654 92.06 L654.25 91.94 L654.5 91.79 L654.75 91.61 L655 91.4 L655.25 91.17 L655.5 90.94 L655.75 90.71 L656 90.48 L656.25 90.26 L656.5 90.03 L656.75 89.8 L657 89.58 L657.25 89.35 L657.5 89.11 L657.75 88.88 L658 88.64 L658.25 88.4 L658.5 88.15 L658.75 87.89 L659 87.63 L659.25 87.37 L659.5 87.09" fill="none" stroke="#ff0000" stroke-width="1.5" stroke-linejoin="round" stroke-linecap="round" />
<path d="M400 112.6 L400.25 115.11 L400.5 117.53 L400.75 119.76 L401 121.69 L401.25 123.24 L401.5 124.46 L401.75 125.58 L402 126.62 L402.25 127.59 L402.5 128.47 L402.75 129.27 L403 129.99 L403.25 130.63 L403.5 131.18 L403.75 131.66 L404 132.05 L404.25 132.43 L404.5 132.79 L404.75 133.13 L405 133.45 L405.25 133.73 L405.5 133.98 L405.75 134.17 L406 134.31 L406.25 134.39 L406.5 134.4 L406.75 134.38 L407 134.35 L407.25 134.29 L407.5 134.23 L407.75 134.14 L408 134.05 L408.25 133.95 L408.5 133.83 L408.75 133.71 L409 133.58 L409.25 133.45 L409.5 133.31 L409.75 133.17 L410 133.03 L410.25 132.89 L410.5 132.75 L410.75 132.62 L411 132.46 L411.25 132.3 L411.5 132.12 L411.75 131.93 L412 131.74 L412.25 131.53 L412.5 131.32 L412.75 131.1 L413 130.88 L413.25 130.66 L413.5 130.44 L413.75 130.21 L414 129.99 L414.25 129.78 L414.5 129.57 L414.75 129.36 L415 129.15 L415.25 128.94 L415.5 128.72 L415.75 128.49 L416 128.27 L416.25 128.04 L416.5 127.81 L416.75 127.58 L417 127.35 L417.25 127.12 L417.5 126.9 L417.75 126.68 L418 126.47 L418.25 126.27 L418.5 126.07 L418.75 125.88 L419 125.7 L419.25 125.53 L419.5 125.37 L419.75 125.23 L420 125.1 L420.25 124.97 L420.5 124.86 L420.75 124.76 L421 124.66 L421.25 124.57 L421.5 124.48 L421.75 124.4 L422 124.31 L422.25 124.23 L422.5 124.15 L422.75 124.07 L423 123.98 L423.25 123.9 L423.5 123.8 L423.75 123.7 L424 123.6 L424.25 123.48 L424.5 123.36 L424.75 123.23 L425 123.08 L425.25 122.93 L425.5 122.76 L425.75 122.58 L426 122.4 L426.25 122.2 L426.5 121.99 L426.75 121.77 L427 121.54 L427.25 121.3 L427.5 121.04 L427.75 120.78 L428 120.51 L428.25 120.22 L428.5 119.92 L428.75 119.62 L429 119.3 L429.25 118.97 L429.5 118.63 L429.75 118.28 L430 117.9 L430.25 117.5 L430.5 117.07 L430.75 116.6 L431 116.09 L431.25 115.53 L431.5 114.93 L431.75 114.27 L432 113.55 L432.25 112.77 L432.5 111.76 L432.75 110.3 L433 108.58 L433.25 106.79 L433.5 105.1 L433.75 103.41 L434 101.59 L434.25 99.82 L434.5 98.26 L434.75 97.08 L435 96.27 L435.25 95.56 L435.5 94.93 L435.75 94.37 L436 93.86 L436.25 93.39 L436.5 92.96 L436.75 92.56 L437 92.16 L437.25 91.77 L437.5 91.37 L437.75 90.94 L438 90.49 L438.25 90 L438.5 89.48 L438.75 88.96 L439 88.43 L439.25 87.9 L439.5 87.37 L439.75 86.84 L440 86.31 L440.25 85.78 L440.5 85.26 L440.75 84.75 L441 84.26 L441.25 83.77 L441.5 83.3 L441.75 82.84 L442 82.4 L442.25 81.96 L442.5 81.53 L442.75 81.12 L443 80.71 L443.25 80.32 L443.5 79.94 L443.75 79.55 L444 79.18 L444.25 78.8 L444.5 78.43 L444.75 78.06 L445 77.7 L445.25 77.34 L445.5 76.99 L445.75 76.64 L446 76.3 L446.25 75.96 L446.5 75.62 L446.75 75.3 L447 74.97 L447.25 74.65 L447.5 74.34 L447.75 74.04 L448 73.74 L448.25 73.44 L448.5 73.18 L448.75 72.94 L449 72.74 L449.25 72.57 L449.5 72.41 L449.75 72.28 L450 72.15 L450.25 72.04 L450.5 71.94 L450.75 71.83 L451 71.73 L451.25 71.62 L451.5 71.5 L451.75 71.36 L452 71.21 L452.25 71.03 L452.5 70.83 L452.75 70.6 L453 70.34 L453.25 70.03 L453.5 69.69 L453.75 69.3 L454 68.86 L454.25 68.37 L454.5 67.81 L454.75 67.2 L455 63.76 L455.25 54.68 L455.5 53.26 L455.75 52.12 L456 51.2 L456.25 50.48 L456.5 49.92 L456.75 49.47 L457 49.09 L457.25 48.75 L457.5 48.4 L457.75 48.01 L458 47.54 L458.25 46.94 L458.5 46.23 L458.75 45.48 L459 44.72 L459.25 43.94 L459.5 43.14 L459.75 42.35 L460 41.55 L460.25 40.75 L460.5 39.97 L460.75 39.21 L461 38.46 L461.25 37.75 L461.5 37.06 L461.75 36.41 L462 35.74 L462.25 35.06 L462.5 34.39 L462.75 33.71 L463 33.06 L463.25 32.42 L463.5 31.81 L463.75 31.24 L464 30.72 L464.25 30.24 L464.5 29.82 L464.75 29.47 L465 29.19 L465.25 28.93 L465.5 28.67 L465.75 28.41 L466 28.17 L466.25 27.93 L466.5 27.7 L466.75 27.48 L467 27.27 L467.25 27.07 L467.5 26.88 L467.75 26.71 L468 26.55 L468.25 26.4 L468.5 26.28 L468.75 26.16 L469 26.07 L469.25 26 L469.5 25.94 L469.75 25.91 L470 25.9 L470.25 25.92 L470.5 25.96 L470.75 26.03 L471 26.12 L471.25 26.24 L471.5 26.38 L471.75 26.54 L472 26.71 L472.25 26.9 L472.5 27.09 L472.75 27.3 L473 27.52 L473.25 27.74 L473.5 27.97 L473.75 28.2 L474 28.43 L474.25 28.65 L474.5 28.88 L474.75 29.09 L475 29.3 L475.25 29.51 L475.5 29.73 L475.75 29.97 L476 30.21 L476.25 30.46 L476.5 30.72 L476.75 30.99 L477 31.26 L477.25 31.53 L477.5 31.81 L477.75 32.08 L478 32.35 L478.25 32.62 L478.5 32.89 L478.75 33.15 L479 33.4 L479.25 33.64 L479.5 33.87 L479.75 34.09 L480 34.3 L480.25 34.5 L480.5 34.7 L480.75 34.89 L481 35.08 L481.25 35.27 L481.5 35.46 L481.75 35.65 L482 35.83 L482.25 36 L482.5 36.18 L482.75 36.35 L483 36.51 L483.25 36.67 L483.5 36.83 L483.75 36.98 L484 37.13 L484.25 37.27 L484.5 37.4 L484.75 37.53 L485 37.65 L485.25 37.77 L485.5 37.88 L485.75 37.97 L486 38.07 L486.25 38.15 L486.5 38.23 L486.75 38.31 L487 38.39 L487.25 38.46 L487.5 38.53 L487.75 38.6 L488 38.68 L488.25 38.76 L488.5 38.84 L488.75 38.92 L489 39.01 L489.25 39.11 L489.5 39.21 L489.75 39.33 L490 39.45 L490.25 39.58 L490.5 39.73 L490.75 39.89 L491 40.06 L491.25 40.25 L491.5 40.44 L491.75 40.65 L492 40.88 L492.25 41.11 L492.5 41.36 L492.75 41.62 L493 41.89 L493.25 42.18 L493.5 42.47 L493.75 42.78 L494 43.1 L494.25 43.43 L494.5 43.79 L494.75 44.19 L495 44.64 L495.25 45.12 L495.5 45.65 L495.75 46.2 L496 46.79 L496.25 47.4 L496.5 48.02 L496.75 48.67 L497 49.33 L497.25 50.02 L497.5 50.75 L497.75 51.53 L498 52.36 L498.25 53.26 L498.5 54.23 L498.75 55.28 L499 56.54 L499.25 58.17 L499.5 59.95 L499.75 61.68 L500 63.14 L500.25 64.22 L500.5 65.19 L500.75 66.11 L501 66.96 L501.25 67.77 L501.5 68.53 L501.75 69.25 L502 69.93 L502.25 70.57 L502.5 71.19 L502.75 71.79 L503 72.37 L503.25 72.94 L503.5 73.5 L503.75 74.05 L504 74.58 L504.25 75.09 L504.5 75.59 L504.75 76.07 L505 76.53 L505.25 76.99 L505.5 77.43 L505.75 77.86 L506 78.28 L506.25 78.7 L506.5 79.1 L506.75 79.5 L507 79.9 L507.25 80.3 L507.5 80.69 L507.75 81.08 L508 81.46 L508.25 81.84 L508.5 82.22 L508.75 82.58 L509 82.95 L509.25 83.3 L509.5 83.65 L509.75 84 L510 84.34 L510.25 84.68 L510.5 85.02 L510.75 85.35 L511 85.67 L511.25 86 L511.5 86.32 L511.75 86.64 L512 86.95 L512.25 87.27 L512.5 87.58 L512.75 87.88 L513 88.19 L513.25 88.49 L513.5 88.79 L513.75 89.09 L514 89.38 L514.25 89.67 L514.5 89.96 L514.75 90.25 L515 90.53 L515.25 90.81 L515.5 91.09 L515.75 91.37 L516 91.64 L516.25 91.91 L516.5 92.18 L516.75 92.44 L517 92.7 L517.25 92.9 L517.5 93.06 L517.75 93.19 L518 93.3 L518.25 93.41 L518.5 93.54 L518.75 93.71 L519 93.92 L519.25 94.2 L519.5 94.56 L519.75 95.02 L520 95.6 L520.25 106.25 L520.5 108.4 L520.75 109.55 L521 110.49 L521.25 111.24 L521.5 111.84 L521.75 112.31 L522 112.7 L522.25 113.03 L522.5 113.32 L522.75 113.63 L523 113.96 L523.25 114.37 L523.5 114.87 L523.75 115.47 L524 116.1 L524.25 116.73 L524.5 117.38 L524.75 118.03 L525 118.68 L525.25 119.34 L525.5 119.99 L525.75 120.64 L526 121.28 L526.25 121.91 L526.5 122.53 L526.75 123.14 L527 123.74 L527.25 124.34 L527.5 124.96 L527.75 125.58 L528 126.2 L528.25 126.81 L528.5 127.42 L528.75 128 L529 128.57 L529.25 129.12 L529.5 129.63 L529.75 130.1 L530 130.54 L530.25 130.93 L530.5 131.29 L530.75 131.65 L531 132.01 L531.25 132.37 L531.5 132.72 L531.75 133.06 L532 133.39 L532.25 133.71 L532.5 134 L532.75 134.27 L533 134.51 L533.25 134.72 L533.5 134.9 L533.75 135.04 L534 135.14 L534.25 135.19 L534.5 135.2 L534.75 135.19 L535 135.18 L535.25 135.16 L535.5 135.13 L535.75 135.09 L536 135.06 L536.25 135.01 L536.5 134.39 L536.75 134.35 L537 134.3 L537.25 134.24 L537.5 134.16 L537.75 134.07 L538 133.97 L538.25 133.86 L538.5 133.74 L538.75 133.61 L539 133.48 L539.25 133.34 L539.5 133.2 L539.75 133.06 L540 132.92 L540.25 132.78 L540.5 132.64 L540.75 132.5 L541 132.33 L541.25 132.16 L541.5 131.97 L541.75 131.78 L542 131.57 L542.25 131.36 L542.5 131.15 L542.75 130.93 L543 130.71 L543.25 130.48 L543.5 130.26 L543.75 130.04 L544 129.82 L544.25 129.61 L544.5 129.4 L544.75 129.19 L545 128.98 L545.25 128.76 L545.5 128.54 L545.75 128.31 L546 128.08 L546.25 127.85 L546.5 127.62 L546.75 127.4 L547 127.17 L547.25 126.95 L547.5 126.73 L547.75 126.51 L548 126.31 L548.25 126.11 L548.5 125.91 L548.75 125.73 L549 125.56 L549.25 125.4 L549.5 125.25 L549.75 125.12 L550 125 L550.25 124.88 L550.5 124.78 L550.75 124.68 L551 124.59 L551.25 124.5 L551.5 124.41 L551.75 124.33 L552 124.25 L552.25 124.17 L552.5 124.09 L552.75 124 L553 123.91 L553.25 123.82 L553.5 123.72 L553.75 123.62 L554 123.51 L554.25 123.39 L554.5 123.26 L554.75 123.11 L555 122.96 L555.25 122.8 L555.5 122.62 L555.75 122.44 L556 122.24 L556.25 122.03 L556.5 121.81 L556.75 121.59 L557 121.35 L557.25 121.1 L557.5 120.83 L557.75 120.56 L558 120.28 L558.25 119.99 L558.5 119.68 L558.75 119.36 L559 119.04 L559.25 118.7 L559.5 118.35 L559.75 117.98 L560 117.58 L560.25 117.16 L560.5 116.69 L560.75 116.19 L561 115.65 L561.25 115.05 L561.5 114.41 L561.75 113.7 L562 112.93 L562.25 112 L562.5 110.62 L562.75 108.94 L563 107.14 L563.25 105.42 L563.5 103.76 L563.75 101.96 L564 100.16 L564.25 98.55 L564.5 97.27 L564.75 96.42 L565 95.7 L565.25 95.05 L565.5 94.48 L565.75 93.96 L566 93.48 L566.25 93.05 L566.5 92.64 L566.75 92.24 L567 91.85 L567.25 91.45 L567.5 91.03 L567.75 90.58 L568 90.1 L568.25 89.59 L568.5 89.07 L568.75 88.54 L569 88.01 L569.25 87.48 L569.5 86.94 L569.75 86.41 L570 85.89 L570.25 85.37 L570.5 84.86 L570.75 84.35 L571 83.87 L571.25 83.39 L571.5 82.93 L571.75 82.48 L572 82.05 L572.25 81.62 L572.5 81.2 L572.75 80.79 L573 80.4 L573.25 80.01 L573.5 79.63 L573.75 79.25 L574 78.88 L574.25 78.5 L574.5 78.14 L574.75 77.77 L575 77.41 L575.25 77.06 L575.5 76.71 L575.75 76.37 L576 76.02 L576.25 75.69 L576.5 75.36 L576.75 75.04 L577 74.72 L577.25 74.4 L577.5 74.1 L577.75 73.8 L578 73.5 L578.25 73.23 L578.5 72.99 L578.75 72.78 L579 72.6 L579.25 72.44 L579.5 72.3 L579.75 72.18 L580 72.07 L580.25 71.96 L580.5 71.86 L580.75 71.75 L581 71.64 L581.25 71.52 L581.5 71.39 L581.75 71.24 L582 71.07 L582.25 70.88 L582.5 70.65 L582.75 70.39 L583 70.1 L583.25 69.76 L583.5 69.38 L583.75 68.95 L584 68.47 L584.25 67.93 L584.5 67.33 L584.75 65.88 L585 55 L585.25 53.52 L585.5 52.33 L585.75 51.37 L586 50.61 L586.25 50.02 L586.5 49.55 L586.75 49.16 L587 48.81 L587.25 48.47 L587.5 48.09 L587.75 47.64 L588 47.07 L588.25 46.37 L588.5 45.63 L588.75 44.87 L589 44.09 L589.25 43.3 L589.5 42.51 L589.75 41.71 L590 40.91 L590.25 40.13 L590.5 39.36 L590.75 38.61 L591 37.89 L591.25 37.2 L591.5 36.54 L591.75 35.87 L592 35.2 L592.25 34.52 L592.5 33.85 L592.75 33.19 L593 32.55 L593.25 31.93 L593.5 31.35 L593.75 30.82 L594 30.33 L594.25 29.9 L594.5 29.54 L594.75 29.25 L595 28.98 L595.25 28.72 L595.5 28.47 L595.75 28.22 L596 27.98 L596.25 27.74 L596.5 27.52 L596.75 27.31 L597 27.11 L597.25 26.92 L597.5 26.74 L597.75 26.58 L598 26.43 L598.25 26.3 L598.5 26.19 L598.75 26.09 L599 26.01 L599.25 25.95 L599.5 25.92 L599.75 25.9 L600 25.91 L600.25 25.95 L600.5 26.01 L600.75 26.1 L601 26.22 L601.25 26.35 L601.5 26.5 L601.75 26.67 L602 26.86 L602.25 27.05 L602.5 27.26 L602.75 27.48 L603 27.7 L603.25 27.92 L603.5 28.15 L603.75 28.38 L604 28.61 L604.25 28.83 L604.5 29.05 L604.75 29.26 L605 29.47 L605.25 29.69 L605.5 29.92 L605.75 30.16 L606 30.41 L606.25 30.67 L606.5 30.94 L606.75 31.2 L607 31.48 L607.25 31.75 L607.5 32.02 L607.75 32.3 L608 32.57 L608.25 32.83 L608.5 33.09 L608.75 33.35 L609 33.59 L609.25 33.83 L609.5 34.05 L609.75 34.26 L610 34.46 L610.25 34.66 L610.5 34.85 L610.75 35.05 L611 35.24 L611.25 35.42 L611.5 35.61 L611.75 35.79 L612 35.97 L612.25 36.14 L612.5 36.31 L612.75 36.48 L613 36.64 L613.25 36.8 L613.5 36.95 L613.75 37.1 L614 37.24 L614.25 37.38 L614.5 37.51 L614.75 37.63 L615 37.75 L615.25 37.85 L615.5 37.96 L615.75 38.05 L616 38.14 L616.25 38.22 L616.5 38.3 L616.75 38.37 L617 38.44 L617.25 38.52 L617.5 38.59 L617.75 38.66 L618 38.74 L618.25 38.82 L618.5 38.9 L618.75 38.99 L619 39.09 L619.25 39.19 L619.5 39.3 L619.75 39.42 L620 39.55 L620.25 39.7 L620.5 39.86 L620.75 40.03 L621 40.21 L621.25 40.4 L621.5 40.61 L621.75 40.83 L622 41.07 L622.25 41.31 L622.5 41.57 L622.75 41.84 L623 42.12 L623.25 42.41 L623.5 42.72 L623.75 43.04 L624 43.37 L624.25 43.71 L624.5 44.11 L624.75 44.54 L625 45.02 L625.25 45.54 L625.5 46.09 L625.75 46.67 L626 47.27 L626.25 47.9 L626.5 48.54 L626.75 49.2 L627 49.88 L627.25 50.6 L627.5 51.37 L627.75 52.19 L628 53.07 L628.25 54.03 L628.5 55.06 L628.75 56.26 L629 57.82 L629.25 59.59 L629.5 61.35 L629.75 62.88 L630 64.01 L630.25 65 L630.5 65.93 L630.75 66.8 L631 67.61 L631.25 68.38 L631.5 69.11 L631.75 69.79 L632 70.45 L632.25 71.07 L632.5 71.67 L632.75 72.26 L633 72.83 L633.25 73.39 L633.5 73.94 L633.75 74.47 L634 74.99 L634.25 75.49 L634.5 75.97 L634.75 76.44 L635 76.9 L635.25 77.34 L635.5 77.77 L635.75 78.2 L636 78.61 L636.25 79.02 L636.5 79.42 L636.75 79.82 L637 80.22 L637.25 80.61 L637.5 81 L637.75 81.39 L638 81.77 L638.25 82.14 L638.5 82.51 L638.75 82.87 L639 83.23 L639.25 83.58 L639.5 83.93 L639.75 84.28 L640 84.61 L640.25 84.95 L640.5 85.28 L640.75 85.61 L641 85.93 L641.25 86.25 L641.5 86.57 L641.75 86.89 L642 87.2 L642.25 87.51 L642.5 87.82 L642.75 88.13 L643 88.43 L643.25 88.73 L643.5 89.03 L643.75 89.32 L644 89.62 L644.25 89.91 L644.5 90.19 L644.75 90.48 L645 90.76 L645.25 91.04 L645.5 91.31 L645.75 91.59 L646 91.86 L646.25 92.12 L646.5 92.39 L646.75 92.65 L647 92.87 L647.25 93.03 L647.5 93.17 L647.75 93.28 L648 93.39 L648.25 93.51 L648.5 93.67 L648.75 93.87 L649 94.14 L649.25 94.48 L649.5 94.92 L649.75 95.47 L650 104.06 L650.25 108.14 L650.5 109.34 L650.75 110.31 L651 111.1 L651.25 111.73 L651.5 112.23 L651.75 112.63 L652 112.96 L652.25 113.27 L652.5 113.56 L652.75 113.89 L653 114.28 L653.25 114.76 L653.5 115.35 L653.75 115.97 L654 116.61 L654.25 117.25 L654.5 117.9 L654.75 118.55 L655 119.21 L655.25 119.86 L655.5 120.51 L655.75 121.15 L656 121.79 L656.25 122.41 L656.5 123.02 L656.75 123.62 L657 124.22 L657.25 124.83 L657.5 125.45 L657.75 126.07 L658 126.69 L658.25 127.3 L658.5 127.89 L658.75 128.46 L659 129.01 L659.25 129.53 L659.5 130.01" fill="none" stroke="#00b050" stroke-width="1.5" stroke-linejoin="round" stroke-linecap="round" />
<path d="M400 37.7 L400.25 35.81 L400.5 34.03 L400.75 32.42 L401 31.02 L401.25 29.87 L401.5 29 L401.75 28.3 L402 27.65 L402.25 27.07 L402.5 26.61 L402.75 26.31 L403 26.2 L403.25 26.26 L403.5 26.41 L403.75 26.65 L404 26.96 L404.25 27.32 L404.5 27.7 L404.75 28.1 L405 28.5 L405.25 28.85 L405.5 29.17 L405.75 29.52 L406 29.94 L406.25 30.5 L406.5 31.25 L406.75 32.26 L407 34.48 L407.25 41.48 L407.5 48.5 L407.75 49.74 L408 50.74 L408.25 51.54 L408.5 52.16 L408.75 52.63 L409 52.98 L409.25 53.25 L409.5 53.46 L409.75 53.63 L410 53.8 L410.25 53.95 L410.5 54.08 L410.75 54.21 L411 54.32 L411.25 54.43 L411.5 54.52 L411.75 54.6 L412 54.67 L412.25 54.74 L412.5 54.79 L412.75 54.84 L413 54.88 L413.25 54.92 L413.5 54.95 L413.75 54.97 L414 55 L414.25 55.01 L414.5 55.03 L414.75 55.04 L415 55.06 L415.25 55.07 L415.5 55.09 L415.75 55.12 L416 55.14 L416.25 55.18 L416.5 55.22 L416.75 55.3 L417 55.41 L417.25 55.56 L417.5 55.74 L417.75 55.95 L418 56.18 L418.25 56.44 L418.5 56.72 L418.75 57.01 L419 57.33 L419.25 57.65 L419.5 57.99 L419.75 58.33 L420 58.7 L420.25 59.16 L420.5 59.68 L420.75 60.27 L421 60.92 L421.25 61.62 L421.5 62.37 L421.75 63.16 L422 63.99 L422.25 64.84 L422.5 65.71 L422.75 66.59 L423 67.48 L423.25 68.37 L423.5 69.26 L423.75 70.13 L424 70.98 L424.25 71.81 L424.5 72.6 L424.75 73.35 L425 74.09 L425.25 74.87 L425.5 75.68 L425.75 76.52 L426 77.36 L426.25 78.21 L426.5 79.06 L426.75 79.89 L427 80.7 L427.25 81.48 L427.5 82.21 L427.75 82.89 L428 83.51 L428.25 84.06 L428.5 84.53 L428.75 84.92 L429 85.2 L429.25 85.41 L429.5 85.59 L429.75 85.75 L430 85.87 L430.25 85.98 L430.5 86.07 L430.75 86.16 L431 86.24 L431.25 86.33 L431.5 86.42 L431.75 86.52 L432 86.64 L432.25 86.78 L432.5 86.95 L432.75 87.15 L433 87.39 L433.25 87.75 L433.5 88.45 L433.75 89.33 L434 90.2 L434.25 91.02 L434.5 91.89 L434.75 92.79 L435 93.72 L435.25 94.66 L435.5 95.61 L435.75 96.56 L436 97.5 L436.25 98.42 L436.5 99.31 L436.75 100.17 L437 100.99 L437.25 101.75 L437.5 102.46 L437.75 103.13 L438 103.76 L438.25 104.35 L438.5 104.92 L438.75 105.48 L439 106.01 L439.25 106.55 L439.5 107.08 L439.75 107.61 L440 108.16 L440.25 108.72 L440.5 109.31 L440.75 109.92 L441 110.57 L441.25 111.26 L441.5 112 L441.75 112.84 L442 113.79 L442.25 114.82 L442.5 115.86 L442.75 116.88 L443 117.83 L443.25 118.66 L443.5 119.44 L443.75 120.23 L444 121.01 L444.25 121.77 L444.5 122.52 L444.75 123.24 L445 123.92 L445.25 124.56 L445.5 125.16 L445.75 125.69 L446 126.17 L446.25 126.57 L446.5 126.9 L446.75 127.18 L447 127.46 L447.25 127.73 L447.5 127.99 L447.75 128.24 L448 128.47 L448.25 128.68 L448.5 128.87 L448.75 129.03 L449 129.17 L449.25 129.28 L449.5 129.35 L449.75 129.39 L450 129.39 L450.25 129.34 L450.5 129.22 L450.75 129.05 L451 128.84 L451.25 128.59 L451.5 128.31 L451.75 128.01 L452 127.69 L452.25 127.35 L452.5 127.02 L452.75 126.68 L453 126.36 L453.25 126.05 L453.5 125.76 L453.75 125.5 L454 125.28 L454.25 125.11 L454.5 124.98 L454.75 124.91 L455 124.9 L455.25 124.96 L455.5 125.07 L455.75 125.22 L456 125.43 L456.25 125.67 L456.5 125.94 L456.75 126.25 L457 126.58 L457.25 126.93 L457.5 127.29 L457.75 127.67 L458 128.05 L458.25 128.42 L458.5 128.83 L458.75 129.32 L459 129.89 L459.25 130.52 L459.5 131.2 L459.75 131.91 L460 132.64 L460.25 133.38 L460.5 134.11 L460.75 134.83 L461 135.5 L461.25 136.13 L461.5 136.69 L461.75 137.2 L462 137.73 L462.25 138.28 L462.5 138.83 L462.75 139.38 L463 139.92 L463.25 140.42 L463.5 140.89 L463.75 141.31 L464 141.67 L464.25 141.96 L464.5 142.17 L464.75 142.28 L465 142.3 L465.25 142.24 L465.5 142.14 L465.75 141.99 L466 141.8 L466.25 141.56 L466.5 141.29 L466.75 140.98 L467 140.65 L467.25 140.29 L467.5 139.91 L467.75 139.51 L468 139.1 L468.25 138.68 L468.5 138.25 L468.75 137.77 L469 137.22 L469.25 136.6 L469.5 135.89 L469.75 135.07 L470 134.14 L470.25 133.07 L470.5 131.86 L470.75 130.49 L471 128.15 L471.25 123.92 L471.5 119.18 L471.75 115.31 L472 113.48 L472.25 112.32 L472.5 111.31 L472.75 110.46 L473 109.75 L473.25 109.17 L473.5 108.71 L473.75 108.36 L474 108.08 L474.25 107.81 L474.5 107.56 L474.75 107.33 L475 107.13 L475.25 106.96 L475.5 106.81 L475.75 106.7 L476 106.63 L476.25 106.6 L476.5 106.61 L476.75 106.63 L477 106.68 L477.25 106.73 L477.5 106.8 L477.75 106.87 L478 106.95 L478.25 107.03 L478.5 107.11 L478.75 107.19 L479 107.26 L479.25 107.31 L479.5 107.36 L479.75 107.39 L480 107.4 L480.25 107.39 L480.5 107.37 L480.75 107.34 L481 107.29 L481.25 107.23 L481.5 107.16 L481.75 107.08 L482 106.99 L482.25 106.88 L482.5 106.77 L482.75 106.65 L483 106.51 L483.25 106.37 L483.5 106.12 L483.75 105.76 L484 105.29 L484.25 104.74 L484.5 104.14 L484.75 103.5 L485 102.86 L485.25 102.2 L485.5 101.46 L485.75 100.64 L486 99.76 L486.25 98.84 L486.5 97.9 L486.75 96.96 L487 96.03 L487.25 95.06 L487.5 94.06 L487.75 93.04 L488 92.01 L488.25 90.98 L488.5 89.97 L488.75 88.99 L489 88.02 L489.25 87 L489.5 85.97 L489.75 84.96 L490 84 L490.25 83.13 L490.5 82.38 L490.75 81.79 L491 81.28 L491.25 80.81 L491.5 80.38 L491.75 79.97 L492 79.6 L492.25 79.26 L492.5 78.94 L492.75 78.66 L493 78.39 L493.25 78.15 L493.5 77.93 L493.75 77.72 L494 77.53 L494.25 77.35 L494.5 77.18 L494.75 77.01 L495 76.86 L495.25 76.71 L495.5 76.56 L495.75 76.42 L496 76.28 L496.25 76.14 L496.5 76 L496.75 75.85 L497 75.7 L497.25 75.58 L497.5 75.49 L497.75 75.38 L498 75.21 L498.25 74.79 L498.5 71.23 L498.75 68.59 L499 67.7 L499.25 67.05 L499.5 66.55 L499.75 66.14 L500 65.76 L500.25 65.36 L500.5 65 L500.75 64.67 L501 64.37 L501.25 64.09 L501.5 63.82 L501.75 63.54 L502 63.26 L502.25 62.96 L502.5 62.64 L502.75 62.29 L503 61.94 L503.25 61.6 L503.5 61.25 L503.75 60.9 L504 60.53 L504.25 60.16 L504.5 59.76 L504.75 59.34 L505 58.88 L505.25 58.4 L505.5 57.88 L505.75 57.31 L506 56.7 L506.25 55.93 L506.5 54.91 L506.75 53.7 L507 52.33 L507.25 50.86 L507.5 49.31 L507.75 47.75 L508 46.2 L508.25 44.72 L508.5 43.35 L508.75 42.13 L509 41.11 L509.25 40.32 L509.5 39.73 L509.75 39.15 L510 38.59 L510.25 38.03 L510.5 37.5 L510.75 36.99 L511 36.5 L511.25 36.04 L511.5 35.61 L511.75 35.2 L512 34.84 L512.25 34.51 L512.5 34.22 L512.75 33.98 L513 33.78 L513.25 33.64 L513.5 33.54 L513.75 33.5 L514 33.51 L514.25 33.54 L514.5 33.59 L514.75 33.66 L515 33.74 L515.25 33.84 L515.5 33.96 L515.75 34.08 L516 34.21 L516.25 34.34 L516.5 34.48 L516.75 34.61 L517 34.75 L517.25 34.88 L517.5 35.01 L517.75 35.12 L518 35.25 L518.25 35.4 L518.5 35.56 L518.75 35.73 L519 35.9 L519.25 36.07 L519.5 36.24 L519.75 36.39 L520 36.52 L520.25 36.64 L520.5 36.72 L520.75 36.78 L521 36.8 L521.25 36.75 L521.5 36.6 L521.75 36.37 L522 36.06 L522.25 35.68 L522.5 35.25 L522.75 34.76 L523 34.24 L523.25 33.68 L523.5 33.1 L523.75 32.51 L524 31.91 L524.25 31.32 L524.5 30.75 L524.75 30.2 L525 29.68 L525.25 29.21 L525.5 28.71 L525.75 28.18 L526 27.61 L526.25 27.02 L526.5 26.4 L526.75 25.77 L527 25.14 L527.25 24.51 L527.5 23.89 L527.75 23.28 L528 22.69 L528.25 22.13 L528.5 21.62 L528.75 21.14 L529 20.72 L529.25 20.35 L529.5 20.05 L529.75 19.82 L530 19.67 L530.25 19.6 L530.5 19.63 L530.75 19.73 L531 19.92 L531.25 20.16 L531.5 20.46 L531.75 20.82 L532 21.21 L532.25 21.63 L532.5 22.08 L532.75 22.55 L533 23.02 L533.25 23.5 L533.5 23.96 L533.75 24.41 L534 24.82 L534.25 25.17 L534.5 25.47 L534.75 25.76 L535 26.06 L535.25 26.4 L535.5 26.81 L535.75 27.31 L536 27.92 L536.25 28.68 L536.5 32.03 L536.75 33.53 L537 40 L537.25 47.86 L537.5 49.51 L537.75 50.56 L538 51.39 L538.25 52.04 L538.5 52.54 L538.75 52.92 L539 53.2 L539.25 53.42 L539.5 53.6 L539.75 53.77 L540 53.92 L540.25 54.06 L540.5 54.19 L540.75 54.3 L541 54.41 L541.25 54.5 L541.5 54.58 L541.75 54.66 L542 54.72 L542.25 54.78 L542.5 54.83 L542.75 54.88 L543 54.91 L543.25 54.94 L543.5 54.97 L543.75 54.99 L544 55.01 L544.25 55.02 L544.5 55.04 L544.75 55.05 L545 55.07 L545.25 55.09 L545.5 55.11 L545.75 55.14 L546 55.17 L546.25 55.21 L546.5 55.28 L546.75 55.38 L547 55.53 L547.25 55.7 L547.5 55.9 L547.75 56.13 L548 56.38 L548.25 56.66 L548.5 56.95 L548.75 57.26 L549 57.59 L549.25 57.92 L549.5 58.26 L549.75 58.62 L550 59.06 L550.25 59.57 L550.5 60.15 L550.75 60.79 L551 61.48 L551.25 62.22 L551.5 63 L551.75 63.82 L552 64.66 L552.25 65.53 L552.5 66.41 L552.75 67.3 L553 68.19 L553.25 69.08 L553.5 69.95 L553.75 70.81 L554 71.64 L554.25 72.44 L554.5 73.21 L554.75 73.94 L555 74.71 L555.25 75.52 L555.5 76.35 L555.75 77.19 L556 78.04 L556.25 78.89 L556.5 79.73 L556.75 80.54 L557 81.32 L557.25 82.07 L557.5 82.76 L557.75 83.39 L558 83.96 L558.25 84.44 L558.5 84.85 L558.75 85.15 L559 85.37 L559.25 85.56 L559.5 85.72 L559.75 85.85 L560 85.96 L560.25 86.06 L560.5 86.14 L560.75 86.23 L561 86.31 L561.25 86.4 L561.5 86.5 L561.75 86.62 L562 86.75 L562.25 86.92 L562.5 87.11 L562.75 87.34 L563 87.65 L563.25 88.29 L563.5 89.15 L563.75 90.04 L564 90.86 L564.25 91.71 L564.5 92.61 L564.75 93.53 L565 94.47 L565.25 95.42 L565.5 96.37 L565.75 97.31 L566 98.24 L566.25 99.14 L566.5 100.01 L566.75 100.83 L567 101.61 L567.25 102.32 L567.5 103 L567.75 103.63 L568 104.23 L568.25 104.81 L568.5 105.37 L568.75 105.91 L569 106.44 L569.25 106.97 L569.5 107.5 L569.75 108.05 L570 108.61 L570.25 109.19 L570.5 109.8 L570.75 110.44 L571 111.12 L571.25 111.85 L571.5 112.66 L571.75 113.59 L572 114.61 L572.25 115.65 L572.5 116.68 L572.75 117.65 L573 118.5 L573.25 119.28 L573.5 120.07 L573.75 120.85 L574 121.62 L574.25 122.37 L574.5 123.1 L574.75 123.79 L575 124.44 L575.25 125.04 L575.5 125.59 L575.75 126.08 L576 126.5 L576.25 126.84 L576.5 127.13 L576.75 127.41 L577 127.68 L577.25 127.94 L577.5 128.19 L577.75 128.42 L578 128.64 L578.25 128.83 L578.5 129 L578.75 129.14 L579 129.26 L579.25 129.34 L579.5 129.39 L579.75 129.4 L580 129.35 L580.25 129.25 L580.5 129.09 L580.75 128.89 L581 128.65 L581.25 128.37 L581.5 128.07 L581.75 127.75 L582 127.42 L582.25 127.08 L582.5 126.75 L582.75 126.42 L583 126.11 L583.25 125.82 L583.5 125.55 L583.75 125.33 L584 125.14 L584.25 125 L584.5 124.92 L584.75 124.9 L585 124.94 L585.25 125.04 L585.5 125.19 L585.75 125.38 L586 125.62 L586.25 125.89 L586.5 126.19 L586.75 126.51 L587 126.86 L587.25 127.22 L587.5 127.59 L587.75 127.97 L588 128.35 L588.25 128.74 L588.5 129.22 L588.75 129.77 L589 130.39 L589.25 131.06 L589.5 131.77 L589.75 132.5 L590 133.24 L590.25 133.97 L590.5 134.69 L590.75 135.37 L591 136.01 L591.25 136.59 L591.5 137.1 L591.75 137.63 L592 138.17 L592.25 138.72 L592.5 139.27 L592.75 139.81 L593 140.32 L593.25 140.8 L593.5 141.23 L593.75 141.6 L594 141.91 L594.25 142.13 L594.5 142.27 L594.75 142.3 L595 142.26 L595.25 142.17 L595.5 142.02 L595.75 141.84 L596 141.61 L596.25 141.34 L596.5 141.04 L596.75 140.72 L597 140.36 L597.25 139.99 L597.5 139.59 L597.75 139.18 L598 138.77 L598.25 138.34 L598.5 137.87 L598.75 137.34 L599 136.73 L599.25 136.04 L599.5 135.25 L599.75 134.34 L600 133.3 L600.25 132.12 L600.5 130.78 L600.75 128.81 L601 124.86 L601.25 120.1 L601.5 115.94 L601.75 113.74 L602 112.54 L602.25 111.5 L602.5 110.62 L602.75 109.89 L603 109.28 L603.25 108.8 L603.5 108.42 L603.75 108.13 L604 107.86 L604.25 107.61 L604.5 107.38 L604.75 107.17 L605 106.99 L605.25 106.84 L605.5 106.72 L605.75 106.64 L606 106.6 L606.25 106.6 L606.5 106.63 L606.75 106.67 L607 106.72 L607.25 106.78 L607.5 106.86 L607.75 106.94 L608 107.02 L608.25 107.1 L608.5 107.17 L608.75 107.24 L609 107.3 L609.25 107.35 L609.5 107.39 L609.75 107.4 L610 107.4 L610.25 107.38 L610.5 107.35 L610.75 107.3 L611 107.25 L611.25 107.18 L611.5 107.1 L611.75 107.01 L612 106.9 L612.25 106.79 L612.5 106.67 L612.75 106.54 L613 106.4 L613.25 106.18 L613.5 105.84 L613.75 105.39 L614 104.85 L614.25 104.26 L614.5 103.63 L614.75 102.98 L615 102.34 L615.25 101.61 L615.5 100.81 L615.75 99.94 L616 99.03 L616.25 98.09 L616.5 97.15 L616.75 96.21 L617 95.26 L617.25 94.26 L617.5 93.24 L617.75 92.21 L618 91.18 L618.25 90.17 L618.5 89.18 L618.75 88.22 L619 87.2 L619.25 86.17 L619.5 85.15 L619.75 84.18 L620 83.29 L620.25 82.52 L620.5 81.9 L620.75 81.38 L621 80.9 L621.25 80.46 L621.5 80.05 L621.75 79.67 L622 79.32 L622.25 79.01 L622.5 78.71 L622.75 78.44 L623 78.2 L623.25 77.97 L623.5 77.76 L623.75 77.57 L624 77.38 L624.25 77.21 L624.5 77.04 L624.75 76.89 L625 76.74 L625.25 76.59 L625.5 76.45 L625.75 76.31 L626 76.17 L626.25 76.02 L626.5 75.88 L626.75 75.73 L627 75.6 L627.25 75.51 L627.5 75.41 L627.75 75.25 L628 75 L628.25 72.09 L628.5 68.8 L628.75 67.86 L629 67.16 L629.25 66.64 L629.5 66.22 L629.75 65.84 L630 65.44 L630.25 65.07 L630.5 64.73 L630.75 64.43 L631 64.14 L631.25 63.87 L631.5 63.6 L631.75 63.32 L632 63.03 L632.25 62.71 L632.5 62.36 L632.75 62.01 L633 61.66 L633.25 61.32 L633.5 60.97 L633.75 60.61 L634 60.23 L634.25 59.84 L634.5 59.42 L634.75 58.98 L635 58.5 L635.25 57.99 L635.5 57.43 L635.75 56.83 L636 56.1 L636.25 55.13 L636.5 53.96 L636.75 52.62 L637 51.16 L637.25 49.62 L637.5 48.06 L637.75 46.51 L638 45.01 L638.25 43.61 L638.5 42.36 L638.75 41.29 L639 40.46 L639.25 39.85 L639.5 39.27 L639.75 38.7 L640 38.14 L640.25 37.61 L640.5 37.09 L640.75 36.6 L641 36.13 L641.25 35.69 L641.5 35.28 L641.75 34.91 L642 34.57 L642.25 34.28 L642.5 34.03 L642.75 33.82 L643 33.66 L643.25 33.56 L643.5 33.5 L643.75 33.5 L644 33.53 L644.25 33.58 L644.5 33.64 L644.75 33.73 L645 33.82 L645.25 33.93 L645.5 34.05 L645.75 34.18 L646 34.31 L646.25 34.45 L646.5 34.59 L646.75 34.72 L647 34.85 L647.25 34.98 L647.5 35.1 L647.75 35.23 L648 35.37 L648.25 35.53 L648.5 35.7 L648.75 35.87 L649 36.04 L649.25 36.2 L649.5 36.36 L649.75 36.5 L650 36.62 L650.25 36.71 L650.5 36.77 L650.75 36.8 L651 36.77 L651.25 36.64 L651.5 36.42 L651.75 36.13 L652 35.76 L652.25 35.34 L652.5 34.86 L652.75 34.34 L653 33.79 L653.25 33.22 L653.5 32.63 L653.75 32.03 L654 31.44 L654.25 30.86 L654.5 30.31 L654.75 29.78 L655 29.3 L655.25 28.82 L655.5 28.29 L655.75 27.73 L656 27.14 L656.25 26.53 L656.5 25.9 L656.75 25.27 L657 24.64 L657.25 24.01 L657.5 23.4 L657.75 22.81 L658 22.24 L658.25 21.72 L658.5 21.23 L658.75 20.8 L659 20.42 L659.25 20.1 L659.5 19.86" fill="none" stroke="#0070c0" stroke-width="1.5" stroke-linejoin="round" stroke-linecap="round" />
<path d="M400 74.3 L400.25 74.67 L400.5 75.03 L400.75 75.39 L401 75.75 L401.25 76.11 L401.5 76.46 L401.75 76.81 L402 77.16 L402.25 77.5 L402.5 77.84 L402.75 78.17 L403 78.5 L403.25 78.85 L403.5 79.22 L403.75 79.62 L404 80.03 L404.25 80.44 L404.5 80.85 L404.75 81.23 L405 81.6 L405.25 81.92 L405.5 82.2 L405.75 82.43 L406 82.59 L406.25 82.68 L406.5 82.7 L406.75 82.67 L407 82.61 L407.25 82.53 L407.5 82.43 L407.75 82.31 L408 82.17 L408.25 82.01 L408.5 81.85 L408.75 81.68 L409 81.5 L409.25 81.32 L409.5 81.14 L409.75 80.96 L410 80.77 L410.25 80.55 L410.5 80.3 L410.75 80.03 L411 79.74 L411.25 79.43 L411.5 79.11 L411.75 78.78 L412 78.44 L412.25 78.1 L412.5 77.76 L412.75 77.42 L413 77.08 L413.25 76.74 L413.5 76.42 L413.75 76.11 L414 75.82 L414.25 75.54 L414.5 75.29 L414.75 75.06 L415 74.82 L415.25 74.58 L415.5 74.33 L415.75 74.08 L416 73.84 L416.25 73.61 L416.5 73.38 L416.75 73.18 L417 73 L417.25 72.85 L417.5 72.73 L417.75 72.65 L418 72.6 L418.25 72.61 L418.5 72.67 L418.75 72.79 L419 72.95 L419.25 73.16 L419.5 73.4 L419.75 73.67 L420 73.98 L420.25 74.31 L420.5 74.66 L420.75 75.02 L421 75.39 L421.25 75.77 L421.5 76.16 L421.75 76.63 L422 77.2 L422.25 77.84 L422.5 78.56 L422.75 79.34 L423 80.17 L423.25 81.03 L423.5 81.92 L423.75 82.83 L424 83.75 L424.25 84.66 L424.5 85.55 L424.75 86.41 L425 87.24 L425.25 88.02 L425.5 88.73 L425.75 89.4 L426 90.1 L426.25 90.83 L426.5 91.57 L426.75 92.33 L427 93.09 L427.25 93.84 L427.5 94.56 L427.75 95.26 L428 95.91 L428.25 96.52 L428.5 97.06 L428.75 97.53 L429 97.92 L429.25 98.22 L429.5 98.41 L429.75 98.5 L430 98.5 L430.25 98.48 L430.5 98.45 L430.75 98.41 L431 98.35 L431.25 98.29 L431.5 98.22 L431.75 98.14 L432 98.05 L432.25 97.96 L432.5 97.86 L432.75 97.75 L433 97.64 L433.25 97.52 L433.5 97.35 L433.75 97.14 L434 96.88 L434.25 96.58 L434.5 96.26 L434.75 95.92 L435 95.55 L435.25 95.18 L435.5 94.81 L435.75 94.44 L436 94.07 L436.25 93.73 L436.5 93.4 L436.75 93.06 L437 92.68 L437.25 92.27 L437.5 91.84 L437.75 91.42 L438 91.02 L438.25 90.64 L438.5 90.31 L438.75 90.03 L439 89.83 L439.25 89.72 L439.5 89.7 L439.75 89.72 L440 89.75 L440.25 89.81 L440.5 89.87 L440.75 89.95 L441 90.04 L441.25 90.13 L441.5 90.24 L441.75 90.34 L442 90.45 L442.25 90.56 L442.5 90.67 L442.75 90.78 L443 90.89 L443.25 91.03 L443.5 91.19 L443.75 91.36 L444 91.54 L444.25 91.73 L444.5 91.93 L444.75 92.11 L445 92.29 L445.25 92.46 L445.5 92.6 L445.75 92.73 L446 92.82 L446.25 92.88 L446.5 92.9 L446.75 92.88 L447 92.81 L447.25 92.7 L447.5 92.56 L447.75 92.38 L448 92.17 L448.25 91.93 L448.5 91.67 L448.75 91.4 L449 91.1 L449.25 90.8 L449.5 90.48 L449.75 90.16 L450 89.84 L450.25 89.53 L450.5 89.21 L450.75 88.91 L451 88.62 L451.25 88.35 L451.5 88.09 L451.75 87.86 L452 87.6 L452.25 87.33 L452.5 87.05 L452.75 86.76 L453 86.46 L453.25 86.16 L453.5 85.87 L453.75 85.57 L454 85.28 L454.25 85 L454.5 84.74 L454.75 84.49 L455 84.26 L455.25 84.06 L455.5 83.88 L455.75 83.73 L456 83.62 L456.25 83.54 L456.5 83.5 L456.75 83.5 L457 83.53 L457.25 83.58 L457.5 83.65 L457.75 83.74 L458 83.85 L458.25 83.97 L458.5 84.1 L458.75 84.24 L459 84.38 L459.25 84.53 L459.5 84.69 L459.75 84.84 L460 84.98 L460.25 85.13 L460.5 85.26 L460.75 85.39 L461 85.5 L461.25 85.61 L461.5 85.73 L461.75 85.85 L462 85.98 L462.25 86.11 L462.5 86.25 L462.75 86.38 L463 86.5 L463.25 86.63 L463.5 86.74 L463.75 86.85 L464 86.94 L464.25 87.03 L464.5 87.1 L464.75 87.15 L465 87.18 L465.25 87.2 L465.5 87.18 L465.75 87.08 L466 86.92 L466.25 86.7 L466.5 86.43 L466.75 86.12 L467 85.78 L467.25 85.41 L467.5 85.02 L467.75 84.63 L468 84.24 L468.25 83.85 L468.5 83.47 L468.75 83.12 L469 82.8 L469.25 82.52 L469.5 82.29 L469.75 82.11 L470 82 L470.25 81.92 L470.5 81.84 L470.75 81.77 L471 81.7 L471.25 81.63 L471.5 81.57 L471.75 81.52 L472 81.47 L472.25 81.42 L472.5 81.38 L472.75 81.35 L473 81.33 L473.25 81.31 L473.5 81.3 L473.75 81.31 L474 81.37 L474.25 81.47 L474.5 81.62 L474.75 81.8 L475 82.02 L475.25 82.27 L475.5 82.54 L475.75 82.84 L476 83.15 L476.25 83.47 L476.5 83.8 L476.75 84.13 L477 84.46 L477.25 84.79 L477.5 85.11 L477.75 85.41 L478 85.69 L478.25 85.95 L478.5 86.2 L478.75 86.47 L479 86.76 L479.25 87.05 L479.5 87.36 L479.75 87.67 L480 87.98 L480.25 88.28 L480.5 88.58 L480.75 88.85 L481 89.11 L481.25 89.34 L481.5 89.55 L481.75 89.72 L482 89.86 L482.25 89.95 L482.5 90 L482.75 89.99 L483 89.91 L483.25 89.77 L483.5 89.56 L483.75 89.31 L484 89 L484.25 88.65 L484.5 88.26 L484.75 87.83 L485 87.37 L485.25 86.89 L485.5 86.39 L485.75 85.88 L486 85.35 L486.25 84.83 L486.5 84.3 L486.75 83.71 L487 83.01 L487.25 82.21 L487.5 81.33 L487.75 80.39 L488 79.42 L488.25 78.42 L488.5 77.42 L488.75 76.44 L489 75.5 L489.25 74.61 L489.5 73.8 L489.75 73.02 L490 72.23 L490.25 71.45 L490.5 70.67 L490.75 69.92 L491 69.2 L491.25 68.53 L491.5 67.91 L491.75 67.37 L492 66.9 L492.25 66.47 L492.5 66.05 L492.75 65.63 L493 65.22 L493.25 64.83 L493.5 64.46 L493.75 64.13 L494 63.84 L494.25 63.6 L494.5 63.4 L494.75 63.27 L495 63.21 L495.25 63.21 L495.5 63.28 L495.75 63.39 L496 63.56 L496.25 63.76 L496.5 64 L496.75 64.26 L497 64.55 L497.25 64.85 L497.5 65.17 L497.75 65.48 L498 65.8 L498.25 66.1 L498.5 66.39 L498.75 66.67 L499 67 L499.25 67.36 L499.5 67.75 L499.75 68.17 L500 68.59 L500.25 69.02 L500.5 69.45 L500.75 69.85 L501 70.23 L501.25 70.58 L501.5 70.89 L501.75 71.14 L502 71.34 L502.25 71.46 L502.5 71.5 L502.75 71.49 L503 71.48 L503.25 71.45 L503.5 71.41 L503.75 71.37 L504 71.32 L504.25 71.26 L504.5 71.2 L504.75 71.14 L505 71.08 L505.25 71.01 L505.5 70.95 L505.75 70.88 L506 70.83 L506.25 70.77 L506.5 70.72 L506.75 70.68 L507 70.64 L507.25 70.62 L507.5 70.6 L507.75 70.6 L508 70.62 L508.25 70.66 L508.5 70.72 L508.75 70.8 L509 70.9 L509.25 71.01 L509.5 71.14 L509.75 71.27 L510 71.42 L510.25 71.58 L510.5 71.74 L510.75 71.9 L511 72.07 L511.25 72.24 L511.5 72.41 L511.75 72.57 L512 72.73 L512.25 72.92 L512.5 73.12 L512.75 73.34 L513 73.58 L513.25 73.82 L513.5 74.08 L513.75 74.34 L514 74.61 L514.25 74.88 L514.5 75.15 L514.75 75.42 L515 75.69 L515.25 75.95 L515.5 76.21 L515.75 76.45 L516 76.69 L516.25 76.91 L516.5 77.11 L516.75 77.3 L517 77.47 L517.25 77.64 L517.5 77.81 L517.75 77.98 L518 78.16 L518.25 78.33 L518.5 78.5 L518.75 78.66 L519 78.82 L519.25 78.96 L519.5 79.09 L519.75 79.21 L520 79.31 L520.25 79.39 L520.5 79.45 L520.75 79.49 L521 79.5 L521.25 79.48 L521.5 79.42 L521.75 79.33 L522 79.2 L522.25 79.05 L522.5 78.88 L522.75 78.7 L523 78.49 L523.25 78.28 L523.5 78.07 L523.75 77.85 L524 77.64 L524.25 77.43 L524.5 77.24 L524.75 77.06 L525 76.91 L525.25 76.78 L525.5 76.65 L525.75 76.51 L526 76.38 L526.25 76.24 L526.5 76.1 L526.75 75.97 L527 75.84 L527.25 75.71 L527.5 75.6 L527.75 75.49 L528 75.39 L528.25 75.3 L528.5 75.23 L528.75 75.17 L529 75.13 L529.25 75.1 L529.5 75.1 L529.75 75.15 L530 75.24 L530.25 75.38 L530.5 75.56 L530.75 75.77 L531 76.01 L531.25 76.28 L531.5 76.57 L531.75 76.88 L532 77.2 L532.25 77.53 L532.5 77.87 L532.75 78.21 L533 78.55 L533.25 78.88 L533.5 79.2 L533.75 79.51 L534 79.79 L534.25 80.06 L534.5 80.29 L534.75 80.54 L535 80.81 L535.25 81.09 L535.5 81.37 L535.75 81.65 L536 81.94 L536.25 82.22 L536.5 82.68 L536.75 82.63 L537 82.55 L537.25 82.45 L537.5 82.33 L537.75 82.2 L538 82.05 L538.25 81.88 L538.5 81.71 L538.75 81.54 L539 81.36 L539.25 81.18 L539.5 81 L539.75 80.81 L540 80.59 L540.25 80.35 L540.5 80.08 L540.75 79.8 L541 79.49 L541.25 79.18 L541.5 78.85 L541.75 78.51 L542 78.17 L542.25 77.83 L542.5 77.48 L542.75 77.14 L543 76.81 L543.25 76.49 L543.5 76.17 L543.75 75.88 L544 75.6 L544.25 75.34 L544.5 75.1 L544.75 74.87 L545 74.63 L545.25 74.38 L545.5 74.13 L545.75 73.89 L546 73.65 L546.25 73.43 L546.5 73.22 L546.75 73.03 L547 72.88 L547.25 72.75 L547.5 72.66 L547.75 72.61 L548 72.6 L548.25 72.66 L548.5 72.76 L548.75 72.91 L549 73.11 L549.25 73.35 L549.5 73.62 L549.75 73.92 L550 74.24 L550.25 74.59 L550.5 74.95 L550.75 75.32 L551 75.7 L551.25 76.08 L551.5 76.53 L551.75 77.08 L552 77.71 L552.25 78.41 L552.5 79.18 L552.75 80 L553 80.86 L553.25 81.74 L553.5 82.65 L553.75 83.56 L554 84.47 L554.25 85.37 L554.5 86.24 L554.75 87.08 L555 87.87 L555.25 88.59 L555.5 89.26 L555.75 89.96 L556 90.68 L556.25 91.42 L556.5 92.18 L556.75 92.94 L557 93.69 L557.25 94.42 L557.5 95.12 L557.75 95.79 L558 96.4 L558.25 96.96 L558.5 97.44 L558.75 97.85 L559 98.17 L559.25 98.38 L559.5 98.49 L559.75 98.5 L560 98.48 L560.25 98.45 L560.5 98.42 L560.75 98.36 L561 98.3 L561.25 98.23 L561.5 98.16 L561.75 98.07 L562 97.98 L562.25 97.88 L562.5 97.77 L562.75 97.67 L563 97.55 L563.25 97.39 L563.5 97.18 L563.75 96.93 L564 96.64 L564.25 96.33 L564.5 95.99 L564.75 95.63 L565 95.26 L565.25 94.88 L565.5 94.51 L565.75 94.15 L566 93.79 L566.25 93.46 L566.5 93.13 L566.75 92.76 L567 92.35 L567.25 91.93 L567.5 91.51 L567.75 91.09 L568 90.71 L568.25 90.37 L568.5 90.08 L568.75 89.87 L569 89.73 L569.25 89.7 L569.5 89.71 L569.75 89.75 L570 89.79 L570.25 89.86 L570.5 89.93 L570.75 90.02 L571 90.11 L571.25 90.22 L571.5 90.32 L571.75 90.43 L572 90.54 L572.25 90.65 L572.5 90.76 L572.75 90.87 L573 91 L573.25 91.15 L573.5 91.32 L573.75 91.51 L574 91.7 L574.25 91.89 L574.5 92.08 L574.75 92.26 L575 92.43 L575.25 92.58 L575.5 92.7 L575.75 92.8 L576 92.87 L576.25 92.9 L576.5 92.88 L576.75 92.83 L577 92.73 L577.25 92.59 L577.5 92.41 L577.75 92.21 L578 91.98 L578.25 91.73 L578.5 91.45 L578.75 91.16 L579 90.86 L579.25 90.55 L579.5 90.23 L579.75 89.91 L580 89.59 L580.25 89.28 L580.5 88.97 L580.75 88.68 L581 88.4 L581.25 88.14 L581.5 87.91 L581.75 87.66 L582 87.39 L582.25 87.11 L582.5 86.82 L582.75 86.52 L583 86.22 L583.25 85.93 L583.5 85.63 L583.75 85.34 L584 85.06 L584.25 84.79 L584.5 84.54 L584.75 84.31 L585 84.1 L585.25 83.92 L585.5 83.76 L585.75 83.64 L586 83.55 L586.25 83.51 L586.5 83.5 L586.75 83.53 L587 83.57 L587.25 83.64 L587.5 83.73 L587.75 83.83 L588 83.94 L588.25 84.07 L588.5 84.21 L588.75 84.35 L589 84.5 L589.25 84.66 L589.5 84.81 L589.75 84.96 L590 85.1 L590.25 85.24 L590.5 85.36 L590.75 85.48 L591 85.59 L591.25 85.7 L591.5 85.83 L591.75 85.96 L592 86.09 L592.25 86.22 L592.5 86.35 L592.75 86.48 L593 86.6 L593.25 86.72 L593.5 86.83 L593.75 86.93 L594 87.01 L594.25 87.08 L594.5 87.14 L594.75 87.18 L595 87.2 L595.25 87.19 L595.5 87.1 L595.75 86.95 L596 86.75 L596.25 86.49 L596.5 86.18 L596.75 85.85 L597 85.48 L597.25 85.1 L597.5 84.71 L597.75 84.31 L598 83.92 L598.25 83.55 L598.5 83.19 L598.75 82.87 L599 82.58 L599.25 82.33 L599.5 82.15 L599.75 82.02 L600 81.94 L600.25 81.86 L600.5 81.79 L600.75 81.71 L601 81.65 L601.25 81.58 L601.5 81.53 L601.75 81.47 L602 81.43 L602.25 81.39 L602.5 81.36 L602.75 81.33 L603 81.31 L603.25 81.3 L603.5 81.3 L603.75 81.35 L604 81.45 L604.25 81.58 L604.5 81.76 L604.75 81.97 L605 82.22 L605.25 82.49 L605.5 82.78 L605.75 83.08 L606 83.4 L606.25 83.73 L606.5 84.07 L606.75 84.4 L607 84.73 L607.25 85.04 L607.5 85.35 L607.75 85.64 L608 85.9 L608.25 86.15 L608.5 86.41 L608.75 86.7 L609 86.99 L609.25 87.3 L609.5 87.61 L609.75 87.92 L610 88.22 L610.25 88.52 L610.5 88.8 L610.75 89.06 L611 89.3 L611.25 89.51 L611.5 89.69 L611.75 89.83 L612 89.94 L612.25 89.99 L612.5 89.99 L612.75 89.93 L613 89.8 L613.25 89.61 L613.5 89.36 L613.75 89.07 L614 88.72 L614.25 88.34 L614.5 87.92 L614.75 87.47 L615 86.99 L615.25 86.49 L615.5 85.98 L615.75 85.46 L616 84.93 L616.25 84.41 L616.5 83.84 L616.75 83.16 L617 82.37 L617.25 81.51 L617.5 80.58 L617.75 79.61 L618 78.62 L618.25 77.62 L618.5 76.64 L618.75 75.68 L619 74.78 L619.25 73.96 L619.5 73.18 L619.75 72.39 L620 71.6 L620.25 70.82 L620.5 70.07 L620.75 69.34 L621 68.66 L621.25 68.03 L621.5 67.47 L621.75 66.99 L622 66.56 L622.25 66.13 L622.5 65.71 L622.75 65.3 L623 64.9 L623.25 64.53 L623.5 64.2 L623.75 63.9 L624 63.64 L624.25 63.44 L624.5 63.29 L624.75 63.21 L625 63.2 L625.25 63.26 L625.5 63.37 L625.75 63.52 L626 63.72 L626.25 63.95 L626.5 64.21 L626.75 64.49 L627 64.79 L627.25 65.1 L627.5 65.42 L627.75 65.73 L628 66.04 L628.25 66.33 L628.5 66.61 L628.75 66.93 L629 67.28 L629.25 67.67 L629.5 68.08 L629.75 68.51 L630 68.94 L630.25 69.36 L630.5 69.77 L630.75 70.16 L631 70.52 L631.25 70.83 L631.5 71.1 L631.75 71.3 L632 71.44 L632.25 71.5 L632.5 71.5 L632.75 71.48 L633 71.46 L633.25 71.42 L633.5 71.38 L633.75 71.33 L634 71.27 L634.25 71.22 L634.5 71.15 L634.75 71.09 L635 71.02 L635.25 70.96 L635.5 70.9 L635.75 70.84 L636 70.78 L636.25 70.73 L636.5 70.69 L636.75 70.65 L637 70.62 L637.25 70.61 L637.5 70.6 L637.75 70.61 L638 70.65 L638.25 70.71 L638.5 70.78 L638.75 70.88 L639 70.99 L639.25 71.11 L639.5 71.25 L639.75 71.39 L640 71.55 L640.25 71.71 L640.5 71.87 L640.75 72.04 L641 72.21 L641.25 72.37 L641.5 72.54 L641.75 72.7 L642 72.88 L642.25 73.08 L642.5 73.3 L642.75 73.53 L643 73.77 L643.25 74.02 L643.5 74.29 L643.75 74.55 L644 74.82 L644.25 75.1 L644.5 75.37 L644.75 75.64 L645 75.9 L645.25 76.16 L645.5 76.4 L645.75 76.64 L646 76.86 L646.25 77.07 L646.5 77.26 L646.75 77.43 L647 77.6 L647.25 77.77 L647.5 77.95 L647.75 78.12 L648 78.3 L648.25 78.47 L648.5 78.63 L648.75 78.79 L649 78.93 L649.25 79.07 L649.5 79.19 L649.75 79.29 L650 79.37 L650.25 79.44 L650.5 79.48 L650.75 79.5 L651 79.49 L651.25 79.44 L651.5 79.35 L651.75 79.23 L652 79.09 L652.25 78.92 L652.5 78.73 L652.75 78.54 L653 78.33 L653.25 78.11 L653.5 77.9 L653.75 77.68 L654 77.47 L654.25 77.28 L654.5 77.1 L654.75 76.94 L655 76.8 L655.25 76.67 L655.5 76.54 L655.75 76.41 L656 76.27 L656.25 76.13 L656.5 76 L656.75 75.86 L657 75.74 L657.25 75.62 L657.5 75.51 L657.75 75.41 L658 75.32 L658.25 75.24 L658.5 75.18 L658.75 75.13 L659 75.11 L659.25 75.1 L659.5 75.14" fill="none" stroke="#000000" stroke-width="1.5" stroke-linejoin="round" stroke-linecap="round" />
<line x1="400" y1="4.4" x2="659.6" y2="4.4" stroke="#a8a8a8" stroke-width="1.4" />
<line x1="400" y1="157.7" x2="659.6" y2="157.7" stroke="#c4c4c4" stroke-width="1.6" />
<line x1="400" y1="3.8" x2="400" y2="158.5" stroke="#bdbdbd" stroke-width="1.9" />
<line x1="659.6" y1="3.8" x2="659.6" y2="158.5" stroke="#9a9a9a" stroke-width="1.4" />
<line x1="67.8" y1="383.8" x2="304.6" y2="383.8" stroke="#c4c4c4" stroke-width="1.4" />
<line x1="127" y1="233.6" x2="127" y2="386" stroke="#d4d4d4" stroke-width="1.3" />
<line x1="186.4" y1="233.6" x2="186.4" y2="386" stroke="#d4d4d4" stroke-width="1.3" />
<line x1="245.6" y1="233.6" x2="245.6" y2="386" stroke="#d4d4d4" stroke-width="1.3" />
<path d="M67.6 313.5 L67.85 312.98 L68.1 312.46 L68.35 311.92 L68.6 311.37 L68.85 310.81 L69.1 310.23 L69.35 309.65 L69.6 309.05 L69.85 308.45 L70.1 307.84 L70.35 307.22 L70.6 306.59 L70.85 305.94 L71.1 305.27 L71.35 304.59 L71.6 303.89 L71.85 303.15 L72.1 302.36 L72.35 301.52 L72.6 300.64 L72.85 299.75 L73.1 298.85 L73.35 297.97 L73.6 297.12 L73.85 296.32 L74.1 295.58 L74.35 294.9 L74.6 294.25 L74.85 293.63 L75.1 293.02 L75.35 292.44 L75.6 291.87 L75.85 291.32 L76.1 290.78 L76.35 290.25 L76.6 289.73 L76.85 289.22 L77.1 288.71 L77.35 288.2 L77.6 287.7 L77.85 287.19 L78.1 286.68 L78.35 286.17 L78.6 285.66 L78.85 285.16 L79.1 284.66 L79.35 284.16 L79.6 283.68 L79.85 283.2 L80.1 282.74 L80.35 282.29 L80.6 281.86 L80.85 281.44 L81.1 281.05 L81.35 280.68 L81.6 280.33 L81.85 280.01 L82.1 279.68 L82.35 279.36 L82.6 279.05 L82.85 278.74 L83.1 278.43 L83.35 278.14 L83.6 277.86 L83.85 277.58 L84.1 277.33 L84.35 277.08 L84.6 276.86 L84.85 276.65 L85.1 276.46 L85.35 276.29 L85.6 276.14 L85.85 276.02 L86.1 275.92 L86.35 275.82 L86.6 275.72 L86.85 275.62 L87.1 275.53 L87.35 275.44 L87.6 275.36 L87.85 275.28 L88.1 275.2 L88.35 275.14 L88.6 275.08 L88.85 275.03 L89.1 274.98 L89.35 274.95 L89.6 274.92 L89.85 274.91 L90.1 274.9 L90.35 274.91 L90.6 274.94 L90.85 274.99 L91.1 275.05 L91.35 275.13 L91.6 275.23 L91.85 275.34 L92.1 275.46 L92.35 275.59 L92.6 275.74 L92.85 275.89 L93.1 276.05 L93.35 276.22 L93.6 276.39 L93.85 276.57 L94.1 276.75 L94.35 276.94 L94.6 277.16 L94.85 277.43 L95.1 277.74 L95.35 278.09 L95.6 278.47 L95.85 278.88 L96.1 279.3 L96.35 279.74 L96.6 280.18 L96.85 280.62 L97.1 281.06 L97.35 281.49 L97.6 281.9 L97.85 282.33 L98.1 282.82 L98.35 283.35 L98.6 283.91 L98.85 284.48 L99.1 285.04 L99.35 285.59 L99.6 286.1 L99.85 286.57 L100.1 286.98 L100.35 287.31 L100.6 287.54 L100.85 287.68 L101.1 287.7 L101.35 287.66 L101.6 287.58 L101.85 287.46 L102.1 287.31 L102.35 287.13 L102.6 286.93 L102.85 286.7 L103.1 286.46 L103.35 286.21 L103.6 285.94 L103.85 285.68 L104.1 285.41 L104.35 285.15 L104.6 284.85 L104.85 284.49 L105.1 284.1 L105.35 283.67 L105.6 283.21 L105.85 282.74 L106.1 282.25 L106.35 281.76 L106.6 281.28 L106.85 280.81 L107.1 280.35 L107.35 279.93 L107.6 279.54 L107.85 279.19 L108.1 278.81 L108.35 278.42 L108.6 278.02 L108.85 277.63 L109.1 277.24 L109.35 276.87 L109.6 276.53 L109.85 276.23 L110.1 275.96 L110.35 275.75 L110.6 275.6 L110.85 275.51 L111.1 275.5 L111.35 275.55 L111.6 275.64 L111.85 275.77 L112.1 275.94 L112.35 276.14 L112.6 276.37 L112.85 276.62 L113.1 276.9 L113.35 277.19 L113.6 277.49 L113.85 277.8 L114.1 278.12 L114.35 278.44 L114.6 278.77 L114.85 279.16 L115.1 279.61 L115.35 280.1 L115.6 280.62 L115.85 281.17 L116.1 281.74 L116.35 282.32 L116.6 282.91 L116.85 283.49 L117.1 284.07 L117.35 284.7 L117.6 285.34 L117.85 286 L118.1 286.65 L118.35 287.28 L118.6 287.92 L118.85 288.57 L119.1 289.22 L119.35 289.86 L119.6 290.48 L119.85 291.09 L120.1 291.67 L120.35 292.23 L120.6 292.75 L120.85 293.25 L121.1 293.74 L121.35 294.2 L121.6 294.66 L121.85 295.12 L122.1 295.57 L122.35 296.04 L122.6 296.51 L122.85 297 L123.1 297.5 L123.35 298.04 L123.6 298.6 L123.85 299.19 L124.1 299.81 L124.35 300.46 L124.6 301.12 L124.85 301.81 L125.1 302.51 L125.35 303.23 L125.6 303.96 L125.85 304.71 L126.1 305.46 L126.35 306.23 L126.6 307 L126.85 307.8 L127.1 308.63 L127.35 309.49 L127.6 310.37 L127.85 311.27 L128.1 312.18 L128.35 313.08 L128.6 313.97 L128.85 314.85 L129.1 315.71 L129.35 316.54 L129.6 317.34 L129.85 318.13 L130.1 318.92 L130.35 319.7 L130.6 320.48 L130.85 321.24 L131.1 321.99 L131.35 322.74 L131.6 323.47 L131.85 324.19 L132.1 324.9 L132.35 325.59 L132.6 326.27 L132.85 326.93 L133.1 327.57 L133.35 328.18 L133.6 328.78 L133.85 329.37 L134.1 329.96 L134.35 330.54 L134.6 331.14 L134.85 331.75 L135.1 332.36 L135.35 332.98 L135.6 333.59 L135.85 334.2 L136.1 334.8 L136.35 335.38 L136.6 335.95 L136.85 336.49 L137.1 337 L137.35 337.52 L137.6 338.02 L137.85 338.53 L138.1 339.02 L138.35 339.51 L138.6 339.98 L138.85 340.44 L139.1 340.88 L139.35 341.31 L139.6 341.71 L139.85 342.09 L140.1 342.44 L140.35 342.76 L140.6 343.08 L140.85 343.4 L141.1 343.71 L141.35 344.02 L141.6 344.31 L141.85 344.6 L142.1 344.87 L142.35 345.11 L142.6 345.34 L142.85 345.54 L143.1 345.72 L143.35 345.86 L143.6 345.97 L143.85 346.04 L144.1 346.11 L144.35 346.18 L144.6 346.24 L144.85 346.3 L145.1 346.35 L145.35 346.4 L145.6 346.44 L145.85 346.47 L146.1 346.49 L146.35 346.5 L146.6 346.5 L146.85 346.48 L147.1 346.43 L147.35 346.37 L147.6 346.29 L147.85 346.2 L148.1 346.1 L148.35 346 L148.6 345.89 L148.85 345.78 L149.1 345.66 L149.35 345.52 L149.6 345.36 L149.85 345.19 L150.1 345.01 L150.35 344.81 L150.6 344.6 L150.85 344.38 L151.1 344.14 L151.35 343.9 L151.6 343.65 L151.85 343.39 L152.1 343.13 L152.35 342.86 L152.6 342.59 L152.85 342.28 L153.1 341.95 L153.35 341.59 L153.6 341.2 L153.85 340.8 L154.1 340.37 L154.35 339.94 L154.6 339.5 L154.85 339.06 L155.1 338.61 L155.35 338.17 L155.6 337.73 L155.85 337.31 L156.1 336.9 L156.35 336.51 L156.6 336.14 L156.85 335.79 L157.1 335.42 L157.35 335.03 L157.6 334.63 L157.85 334.23 L158.1 333.82 L158.35 333.42 L158.6 333.03 L158.85 332.65 L159.1 332.3 L159.35 331.97 L159.6 331.68 L159.85 331.43 L160.1 331.21 L160.35 331.05 L160.6 330.95 L160.85 330.9 L161.1 330.92 L161.35 331 L161.6 331.14 L161.85 331.32 L162.1 331.55 L162.35 331.81 L162.6 332.1 L162.85 332.42 L163.1 332.76 L163.35 333.11 L163.6 333.46 L163.85 333.82 L164.1 334.16 L164.35 334.51 L164.6 334.92 L164.85 335.38 L165.1 335.89 L165.35 336.43 L165.6 336.98 L165.85 337.55 L166.1 338.13 L166.35 338.69 L166.6 339.23 L166.85 339.75 L167.1 340.22 L167.35 340.64 L167.6 341 L167.85 341.33 L168.1 341.68 L168.35 342.02 L168.6 342.35 L168.85 342.66 L169.1 342.93 L169.35 343.17 L169.6 343.34 L169.85 343.46 L170.1 343.5 L170.35 343.47 L170.6 343.39 L170.85 343.26 L171.1 343.09 L171.35 342.88 L171.6 342.63 L171.85 342.35 L172.1 342.05 L172.35 341.73 L172.6 341.39 L172.85 341.04 L173.1 340.68 L173.35 340.32 L173.6 339.95 L173.85 339.51 L174.1 339 L174.35 338.42 L174.6 337.8 L174.85 337.13 L175.1 336.43 L175.35 335.71 L175.6 334.99 L175.85 334.27 L176.1 333.57 L176.35 332.9 L176.6 332.27 L176.85 331.69 L177.1 331.14 L177.35 330.62 L177.6 330.11 L177.85 329.61 L178.1 329.12 L178.35 328.63 L178.6 328.15 L178.85 327.67 L179.1 327.18 L179.35 326.68 L179.6 326.17 L179.85 325.65 L180.1 325.1 L180.35 324.54 L180.6 323.97 L180.85 323.38 L181.1 322.79 L181.35 322.19 L181.6 321.58 L181.85 320.96 L182.1 320.34 L182.35 319.7 L182.6 319.06 L182.85 318.42 L183.1 317.76 L183.35 317.1 L183.6 316.43 L183.85 315.75 L184.1 315.06 L184.35 314.36 L184.6 313.65 L184.85 312.93 L185.1 312.2 L185.35 311.46 L185.6 310.71 L185.85 309.96 L186.1 309.19 L186.35 308.4 L186.6 307.58 L186.85 306.75 L187.1 305.92 L187.35 305.1 L187.6 304.31 L187.85 303.55 L188.1 302.81 L188.35 302.09 L188.6 301.39 L188.85 300.69 L189.1 300 L189.35 299.31 L189.6 298.61 L189.85 297.91 L190.1 297.19 L190.35 296.46 L190.6 295.7 L190.85 294.92 L191.1 294.14 L191.35 293.34 L191.6 292.54 L191.85 291.75 L192.1 290.96 L192.35 290.18 L192.6 289.42 L192.85 288.68 L193.1 287.97 L193.35 287.29 L193.6 286.64 L193.85 286.01 L194.1 285.38 L194.35 284.76 L194.6 284.14 L194.85 283.54 L195.1 282.96 L195.35 282.39 L195.6 281.84 L195.85 281.32 L196.1 280.82 L196.35 280.34 L196.6 279.89 L196.85 279.48 L197.1 279.09 L197.35 278.7 L197.6 278.31 L197.85 277.93 L198.1 277.56 L198.35 277.19 L198.6 276.84 L198.85 276.49 L199.1 276.15 L199.35 275.83 L199.6 275.52 L199.85 275.22 L200.1 274.94 L200.35 274.68 L200.6 274.43 L200.85 274.21 L201.1 274 L201.35 273.82 L201.6 273.66 L201.85 273.52 L202.1 273.41 L202.35 273.29 L202.6 273.18 L202.85 273.07 L203.1 272.96 L203.35 272.85 L203.6 272.75 L203.85 272.65 L204.1 272.56 L204.35 272.47 L204.6 272.38 L204.85 272.3 L205.1 272.23 L205.35 272.16 L205.6 272.09 L205.85 272.03 L206.1 271.98 L206.35 271.93 L206.6 271.89 L206.85 271.86 L207.1 271.83 L207.35 271.81 L207.6 271.8 L207.85 271.8 L208.1 271.82 L208.35 271.87 L208.6 271.95 L208.85 272.05 L209.1 272.18 L209.35 272.33 L209.6 272.51 L209.85 272.7 L210.1 272.91 L210.35 273.14 L210.6 273.38 L210.85 273.64 L211.1 273.9 L211.35 274.18 L211.6 274.47 L211.85 274.76 L212.1 275.06 L212.35 275.37 L212.6 275.68 L212.85 275.98 L213.1 276.29 L213.35 276.6 L213.6 276.9 L213.85 277.22 L214.1 277.59 L214.35 278 L214.6 278.44 L214.85 278.91 L215.1 279.4 L215.35 279.91 L215.6 280.42 L215.85 280.94 L216.1 281.45 L216.35 281.96 L216.6 282.44 L216.85 282.91 L217.1 283.36 L217.35 283.77 L217.6 284.14 L217.85 284.46 L218.1 284.78 L218.35 285.11 L218.6 285.44 L218.85 285.77 L219.1 286.1 L219.35 286.4 L219.6 286.69 L219.85 286.95 L220.1 287.19 L220.35 287.38 L220.6 287.54 L220.85 287.64 L221.1 287.7 L221.35 287.68 L221.6 287.58 L221.85 287.39 L222.1 287.13 L222.35 286.81 L222.6 286.43 L222.85 286 L223.1 285.54 L223.35 285.05 L223.6 284.55 L223.85 284.04 L224.1 283.54 L224.35 283.05 L224.6 282.58 L224.85 282.14 L225.1 281.74 L225.35 281.31 L225.6 280.84 L225.85 280.34 L226.1 279.83 L226.35 279.3 L226.6 278.77 L226.85 278.24 L227.1 277.73 L227.35 277.24 L227.6 276.79 L227.85 276.37 L228.1 276.01 L228.35 275.7 L228.6 275.46 L228.85 275.29 L229.1 275.21 L229.35 275.21 L229.6 275.28 L229.85 275.39 L230.1 275.56 L230.35 275.77 L230.6 276.01 L230.85 276.29 L231.1 276.59 L231.35 276.91 L231.6 277.25 L231.85 277.59 L232.1 277.95 L232.35 278.29 L232.6 278.64 L232.85 279.03 L233.1 279.47 L233.35 279.95 L233.6 280.46 L233.85 281 L234.1 281.56 L234.35 282.13 L234.6 282.7 L234.85 283.27 L235.1 283.82 L235.35 284.39 L235.6 284.97 L235.85 285.56 L236.1 286.16 L236.35 286.77 L236.6 287.38 L236.85 288 L237.1 288.63 L237.35 289.26 L237.6 289.89 L237.85 290.52 L238.1 291.15 L238.35 291.78 L238.6 292.4 L238.85 293.03 L239.1 293.66 L239.35 294.3 L239.6 294.94 L239.85 295.58 L240.1 296.22 L240.35 296.86 L240.6 297.51 L240.85 298.15 L241.1 298.78 L241.35 299.42 L241.6 300.05 L241.85 300.68 L242.1 301.3 L242.35 301.92 L242.6 302.55 L242.85 303.17 L243.1 303.78 L243.35 304.4 L243.6 305.02 L243.85 305.63 L244.1 306.25 L244.35 306.86 L244.6 307.48 L244.85 308.09 L245.1 308.7 L245.35 309.3 L245.6 309.88 L245.85 310.44 L246.1 311 L246.35 311.55 L246.6 312.11 L246.85 312.67 L247.1 313.25 L247.35 313.85 L247.6 314.47 L247.85 315.12 L248.1 315.81 L248.35 316.55 L248.6 317.36 L248.85 318.32 L249.1 319.38 L249.35 320.51 L249.6 321.67 L249.85 322.83 L250.1 323.94 L250.35 324.98 L250.6 325.9 L250.85 326.67 L251.1 327.28 L251.35 327.82 L251.6 328.29 L251.85 328.73 L252.1 329.17 L252.35 329.61 L252.6 330.1 L252.85 330.63 L253.1 331.17 L253.35 331.74 L253.6 332.32 L253.85 332.91 L254.1 333.5 L254.35 334.09 L254.6 334.68 L254.85 335.25 L255.1 335.81 L255.35 336.34 L255.6 336.85 L255.85 337.33 L256.1 337.78 L256.35 338.21 L256.6 338.65 L256.85 339.09 L257.1 339.52 L257.35 339.94 L257.6 340.35 L257.85 340.76 L258.1 341.14 L258.35 341.52 L258.6 341.87 L258.85 342.2 L259.1 342.52 L259.35 342.8 L259.6 343.07 L259.85 343.3 L260.1 343.5 L260.35 343.69 L260.6 343.87 L260.85 344.05 L261.1 344.23 L261.35 344.41 L261.6 344.58 L261.85 344.74 L262.1 344.9 L262.35 345.05 L262.6 345.2 L262.85 345.33 L263.1 345.46 L263.35 345.57 L263.6 345.67 L263.85 345.76 L264.1 345.84 L264.35 345.9 L264.6 345.95 L264.85 345.98 L265.1 346 L265.35 346 L265.6 345.99 L265.85 345.98 L266.1 345.97 L266.35 345.95 L266.6 345.93 L266.85 345.9 L267.1 345.87 L267.35 345.84 L267.6 345.8 L267.85 345.75 L268.1 345.71 L268.35 345.66 L268.6 345.61 L268.85 345.55 L269.1 345.49 L269.35 345.43 L269.6 345.37 L269.85 345.3 L270.1 345.23 L270.35 345.15 L270.6 345.03 L270.85 344.86 L271.1 344.67 L271.35 344.43 L271.6 344.17 L271.85 343.87 L272.1 343.56 L272.35 343.22 L272.6 342.86 L272.85 342.49 L273.1 342.12 L273.35 341.73 L273.6 341.34 L273.85 340.95 L274.1 340.56 L274.35 340.18 L274.6 339.78 L274.85 339.33 L275.1 338.83 L275.35 338.3 L275.6 337.73 L275.85 337.15 L276.1 336.55 L276.35 335.94 L276.6 335.35 L276.85 334.76 L277.1 334.2 L277.35 333.67 L277.6 333.18 L277.85 332.74 L278.1 332.36 L278.35 332.04 L278.6 331.8 L278.85 331.6 L279.1 331.4 L279.35 331.22 L279.6 331.07 L279.85 330.96 L280.1 330.91 L280.35 330.91 L280.6 331 L280.85 331.15 L281.1 331.37 L281.35 331.64 L281.6 331.96 L281.85 332.33 L282.1 332.73 L282.35 333.15 L282.6 333.6 L282.85 334.06 L283.1 334.53 L283.35 335 L283.6 335.46 L283.85 335.9 L284.1 336.33 L284.35 336.72 L284.6 337.12 L284.85 337.55 L285.1 338.02 L285.35 338.52 L285.6 339.04 L285.85 339.57 L286.1 340.1 L286.35 340.63 L286.6 341.13 L286.85 341.62 L287.1 342.06 L287.35 342.46 L287.6 342.81 L287.85 343.1 L288.1 343.32 L288.35 343.45 L288.6 343.5 L288.85 343.47 L289.1 343.39 L289.35 343.26 L289.6 343.09 L289.85 342.87 L290.1 342.63 L290.35 342.35 L290.6 342.05 L290.85 341.72 L291.1 341.38 L291.35 341.03 L291.6 340.67 L291.85 340.31 L292.1 339.95 L292.35 339.53 L292.6 339.03 L292.85 338.49 L293.1 337.9 L293.35 337.27 L293.6 336.63 L293.85 335.97 L294.1 335.32 L294.35 334.68 L294.6 334.05 L294.85 333.39 L295.1 332.71 L295.35 332.03 L295.6 331.35 L295.85 330.7 L296.1 330.1 L296.35 329.54 L296.6 329.01 L296.85 328.49 L297.1 327.99 L297.35 327.5 L297.6 327.02 L297.85 326.55 L298.1 326.07 L298.35 325.59 L298.6 325.1 L298.85 324.61 L299.1 324.12 L299.35 323.63 L299.6 323.15 L299.85 322.67 L300.1 322.19 L300.35 321.71 L300.6 321.22 L300.85 320.74 L301.1 320.24 L301.35 319.74 L301.6 319.23 L301.85 318.72 L302.1 318.19 L302.35 317.65 L302.6 317.11 L302.85 316.55 L303.1 315.99 L303.35 315.43 L303.6 314.85 L303.85 314.27 L304.1 313.69 L304.35 313.1 L304.6 312.5" fill="none" stroke="#ff0000" stroke-width="2.2" stroke-linejoin="round" stroke-linecap="round" />
<path d="M67.6 340.1 L67.85 342.12 L68.1 344.06 L68.35 345.88 L68.6 347.5 L68.85 348.86 L69.1 349.89 L69.35 350.61 L69.6 351.27 L69.85 351.89 L70.1 352.46 L70.35 352.98 L70.6 353.43 L70.85 353.8 L71.1 354.09 L71.35 354.29 L71.6 354.39 L71.85 354.36 L72.1 354.11 L72.35 353.7 L72.6 353.16 L72.85 352.55 L73.1 351.92 L73.35 351.33 L73.6 350.81 L73.85 350.42 L74.1 350.22 L74.35 350.22 L74.6 350.35 L74.85 350.57 L75.1 350.86 L75.35 351.19 L75.6 351.54 L75.85 351.88 L76.1 352.2 L76.35 352.46 L76.6 352.65 L76.85 352.76 L77.1 352.85 L77.35 352.94 L77.6 353.03 L77.85 353.11 L78.1 353.19 L78.35 353.25 L78.6 353.32 L78.85 353.37 L79.1 353.41 L79.35 353.45 L79.6 353.48 L79.85 353.49 L80.1 353.5 L80.35 353.48 L80.6 353.42 L80.85 353.33 L81.1 353.2 L81.35 353.05 L81.6 352.87 L81.85 352.67 L82.1 352.44 L82.35 352.2 L82.6 351.95 L82.85 351.69 L83.1 351.41 L83.35 351.14 L83.6 350.86 L83.85 350.58 L84.1 350.31 L84.35 350.04 L84.6 349.74 L84.85 349.42 L85.1 349.08 L85.35 348.73 L85.6 348.35 L85.85 347.96 L86.1 347.55 L86.35 347.14 L86.6 346.71 L86.85 346.27 L87.1 345.83 L87.35 345.38 L87.6 344.94 L87.85 344.48 L88.1 344.04 L88.35 343.59 L88.6 343.14 L88.85 342.69 L89.1 342.23 L89.35 341.76 L89.6 341.29 L89.85 340.81 L90.1 340.32 L90.35 339.83 L90.6 339.33 L90.85 338.82 L91.1 338.31 L91.35 337.79 L91.6 337.26 L91.85 336.73 L92.1 336.19 L92.35 335.65 L92.6 335.1 L92.85 334.55 L93.1 333.99 L93.35 333.43 L93.6 332.86 L93.85 332.28 L94.1 331.7 L94.35 331.1 L94.6 330.5 L94.85 329.87 L95.1 329.24 L95.35 328.58 L95.6 327.91 L95.85 327.22 L96.1 326.51 L96.35 325.7 L96.6 324.83 L96.85 323.9 L97.1 322.95 L97.35 322 L97.6 321.07 L97.85 320.21 L98.1 319.42 L98.35 318.74 L98.6 318.19 L98.85 317.7 L99.1 317.24 L99.35 316.81 L99.6 316.41 L99.85 316.03 L100.1 315.67 L100.35 315.32 L100.6 314.99 L100.85 314.66 L101.1 314.34 L101.35 314.01 L101.6 313.67 L101.85 313.33 L102.1 312.99 L102.35 312.66 L102.6 312.33 L102.85 312.02 L103.1 311.7 L103.35 311.39 L103.6 311.09 L103.85 310.78 L104.1 310.48 L104.35 310.17 L104.6 309.86 L104.85 309.55 L105.1 309.23 L105.35 308.9 L105.6 308.56 L105.85 308.21 L106.1 307.85 L106.35 307.48 L106.6 307.09 L106.85 306.69 L107.1 306.28 L107.35 305.87 L107.6 305.45 L107.85 305.04 L108.1 304.63 L108.35 304.23 L108.6 303.85 L108.85 303.48 L109.1 303.13 L109.35 302.79 L109.6 302.45 L109.85 302.1 L110.1 301.75 L110.35 301.38 L110.6 300.99 L110.85 300.57 L111.1 300.11 L111.35 299.61 L111.6 299.06 L111.85 298.46 L112.1 297.84 L112.35 297.19 L112.6 296.53 L112.85 295.85 L113.1 295.17 L113.35 294.5 L113.6 293.84 L113.85 293.2 L114.1 292.59 L114.35 292.01 L114.6 291.48 L114.85 290.99 L115.1 290.53 L115.35 290.09 L115.6 289.65 L115.85 289.2 L116.1 288.73 L116.35 288.22 L116.6 287.66 L116.85 287.03 L117.1 286.3 L117.35 285.43 L117.6 284.45 L117.85 283.4 L118.1 282.31 L118.35 281.23 L118.6 280.2 L118.85 279.19 L119.1 278.15 L119.35 277.1 L119.6 276.04 L119.85 274.97 L120.1 273.9 L120.35 272.84 L120.6 271.79 L120.85 270.76 L121.1 269.76 L121.35 268.79 L121.6 267.86 L121.85 266.97 L122.1 266.12 L122.35 265.3 L122.6 264.49 L122.85 263.7 L123.1 262.93 L123.35 262.18 L123.6 261.45 L123.85 260.73 L124.1 260.02 L124.35 259.33 L124.6 258.65 L124.85 257.98 L125.1 257.32 L125.35 256.67 L125.6 256 L125.85 255.29 L126.1 254.57 L126.35 253.84 L126.6 253.13 L126.85 252.43 L127.1 251.77 L127.35 251.15 L127.6 250.59 L127.85 250.1 L128.1 249.7 L128.35 249.4 L128.6 249.2 L128.85 249.07 L129.1 248.94 L129.35 248.83 L129.6 248.72 L129.85 248.63 L130.1 248.55 L130.35 248.49 L130.6 248.44 L130.85 248.41 L131.1 248.4 L131.35 248.45 L131.6 248.6 L131.85 248.83 L132.1 249.14 L132.35 249.5 L132.6 249.91 L132.85 250.36 L133.1 250.83 L133.35 251.32 L133.6 251.8 L133.85 252.44 L134.1 253.3 L134.35 254.23 L134.6 255.08 L134.85 255.7 L135.1 255.98 L135.35 256.14 L135.6 256.27 L135.85 256.37 L136.1 256.46 L136.35 256.54 L136.6 256.63 L136.85 256.73 L137.1 256.85 L137.35 256.97 L137.6 257.09 L137.85 257.21 L138.1 257.33 L138.35 257.45 L138.6 257.57 L138.85 257.7 L139.1 257.83 L139.35 257.97 L139.6 258.11 L139.85 258.27 L140.1 258.43 L140.35 258.6 L140.6 258.79 L140.85 258.99 L141.1 259.21 L141.35 259.45 L141.6 259.74 L141.85 260.09 L142.1 260.48 L142.35 260.92 L142.6 261.39 L142.85 261.9 L143.1 262.43 L143.35 262.98 L143.6 263.55 L143.85 264.13 L144.1 264.72 L144.35 265.31 L144.6 265.89 L144.85 266.46 L145.1 267.03 L145.35 267.61 L145.6 268.21 L145.85 268.83 L146.1 269.47 L146.35 270.11 L146.6 270.77 L146.85 271.43 L147.1 272.1 L147.35 272.76 L147.6 273.42 L147.85 274.07 L148.1 274.7 L148.35 275.32 L148.6 275.94 L148.85 276.56 L149.1 277.18 L149.35 277.79 L149.6 278.41 L149.85 279.03 L150.1 279.64 L150.35 280.24 L150.6 280.85 L150.85 281.44 L151.1 282.04 L151.35 282.62 L151.6 283.2 L151.85 283.77 L152.1 284.33 L152.35 284.88 L152.6 285.41 L152.85 285.94 L153.1 286.45 L153.35 286.96 L153.6 287.45 L153.85 287.94 L154.1 288.43 L154.35 288.91 L154.6 289.39 L154.85 289.86 L155.1 290.34 L155.35 290.82 L155.6 291.31 L155.85 291.8 L156.1 292.3 L156.35 292.8 L156.6 293.3 L156.85 293.8 L157.1 294.3 L157.35 294.8 L157.6 295.3 L157.85 295.8 L158.1 296.31 L158.35 296.82 L158.6 297.33 L158.85 297.83 L159.1 298.34 L159.35 298.84 L159.6 299.33 L159.85 299.82 L160.1 300.3 L160.35 300.76 L160.6 301.21 L160.85 301.65 L161.1 302.07 L161.35 302.49 L161.6 302.91 L161.85 303.33 L162.1 303.75 L162.35 304.19 L162.6 304.64 L162.85 305.1 L163.1 305.59 L163.35 306.09 L163.6 306.64 L163.85 307.23 L164.1 307.86 L164.35 308.52 L164.6 309.21 L164.85 309.91 L165.1 310.62 L165.35 311.33 L165.6 312.03 L165.85 312.71 L166.1 313.36 L166.35 313.99 L166.6 314.57 L166.85 315.1 L167.1 315.61 L167.35 316.09 L167.6 316.56 L167.85 317.02 L168.1 317.46 L168.35 317.89 L168.6 318.31 L168.85 318.72 L169.1 319.12 L169.35 319.52 L169.6 319.91 L169.85 320.3 L170.1 320.69 L170.35 321.08 L170.6 321.47 L170.85 321.86 L171.1 322.26 L171.35 322.66 L171.6 323.07 L171.85 323.48 L172.1 323.9 L172.35 324.3 L172.6 324.7 L172.85 325.09 L173.1 325.47 L173.35 325.86 L173.6 326.24 L173.85 326.63 L174.1 327.01 L174.35 327.4 L174.6 327.8 L174.85 328.21 L175.1 328.62 L175.35 329.04 L175.6 329.48 L175.85 329.93 L176.1 330.4 L176.35 330.88 L176.6 331.38 L176.85 331.91 L177.1 332.46 L177.35 333.04 L177.6 333.64 L177.85 334.28 L178.1 334.94 L178.35 335.64 L178.6 336.35 L178.85 337.1 L179.1 337.87 L179.35 338.66 L179.6 339.53 L179.85 340.46 L180.1 341.46 L180.35 342.49 L180.6 343.56 L180.85 344.63 L181.1 345.69 L181.35 346.73 L181.6 347.74 L181.85 348.69 L182.1 349.61 L182.35 350.51 L182.6 351.41 L182.85 352.3 L183.1 353.18 L183.35 354.04 L183.6 354.9 L183.85 355.75 L184.1 356.59 L184.35 357.43 L184.6 358.25 L184.85 359.07 L185.1 359.88 L185.35 360.69 L185.6 361.55 L185.85 362.44 L186.1 363.33 L186.35 364.21 L186.6 365.06 L186.85 365.84 L187.1 366.55 L187.35 367.16 L187.6 367.64 L187.85 368.02 L188.1 368.37 L188.35 368.71 L188.6 369.02 L188.85 369.3 L189.1 369.53 L189.35 369.72 L189.6 369.84 L189.85 369.9 L190.1 369.88 L190.35 369.8 L190.6 369.67 L190.85 369.48 L191.1 369.24 L191.35 368.95 L191.6 368.62 L191.85 368.25 L192.1 367.85 L192.35 367.39 L192.6 366.36 L192.85 364.92 L193.1 363.61 L193.35 362.92 L193.6 362.58 L193.85 362.29 L194.1 362.03 L194.35 361.82 L194.6 361.63 L194.85 361.47 L195.1 361.33 L195.35 361.19 L195.6 361.06 L195.85 360.93 L196.1 360.79 L196.35 360.63 L196.6 360.45 L196.85 360.25 L197.1 360.01 L197.35 359.78 L197.6 359.53 L197.85 359.29 L198.1 359.03 L198.35 358.77 L198.6 358.51 L198.85 358.23 L199.1 357.96 L199.35 357.67 L199.6 357.38 L199.85 357.08 L200.1 356.78 L200.35 356.47 L200.6 356.15 L200.85 355.83 L201.1 355.5 L201.35 355.17 L201.6 354.82 L201.85 354.47 L202.1 354.11 L202.35 353.73 L202.6 353.34 L202.85 352.93 L203.1 352.52 L203.35 352.08 L203.6 351.64 L203.85 351.19 L204.1 350.72 L204.35 350.25 L204.6 349.77 L204.85 349.29 L205.1 348.8 L205.35 348.31 L205.6 347.81 L205.85 347.31 L206.1 346.8 L206.35 346.3 L206.6 345.8 L206.85 345.3 L207.1 344.8 L207.35 344.29 L207.6 343.79 L207.85 343.27 L208.1 342.75 L208.35 342.23 L208.6 341.71 L208.85 341.17 L209.1 340.64 L209.35 340.1 L209.6 339.55 L209.85 339 L210.1 338.44 L210.35 337.88 L210.6 337.32 L210.85 336.75 L211.1 336.17 L211.35 335.59 L211.6 335.01 L211.85 334.42 L212.1 333.83 L212.35 333.25 L212.6 332.67 L212.85 332.1 L213.1 331.53 L213.35 330.96 L213.6 330.38 L213.85 329.78 L214.1 329.18 L214.35 328.55 L214.6 327.91 L214.85 327.24 L215.1 326.54 L215.35 325.81 L215.6 325.05 L215.85 324.24 L216.1 323.4 L216.35 322.38 L216.6 321.15 L216.85 319.87 L217.1 318.72 L217.35 317.85 L217.6 317.13 L217.85 316.45 L218.1 315.81 L218.35 315.22 L218.6 314.66 L218.85 314.14 L219.1 313.65 L219.35 313.19 L219.6 312.76 L219.85 312.36 L220.1 311.99 L220.35 311.63 L220.6 311.3 L220.85 310.98 L221.1 310.69 L221.35 310.41 L221.6 310.15 L221.85 309.9 L222.1 309.66 L222.35 309.43 L222.6 309.21 L222.85 309 L223.1 308.79 L223.35 308.58 L223.6 308.37 L223.85 308.17 L224.1 307.96 L224.35 307.75 L224.6 307.53 L224.85 307.3 L225.1 307.07 L225.35 306.82 L225.6 306.56 L225.85 306.29 L226.1 306 L226.35 305.7 L226.6 305.39 L226.85 305.08 L227.1 304.76 L227.35 304.43 L227.6 304.1 L227.85 303.75 L228.1 303.4 L228.35 303.03 L228.6 302.66 L228.85 302.27 L229.1 301.86 L229.35 301.45 L229.6 301.02 L229.85 300.57 L230.1 300.11 L230.35 299.6 L230.6 299.05 L230.85 298.45 L231.1 297.83 L231.35 297.18 L231.6 296.52 L231.85 295.84 L232.1 295.17 L232.35 294.5 L232.6 293.84 L232.85 293.2 L233.1 292.59 L233.35 292.01 L233.6 291.47 L233.85 290.97 L234.1 290.48 L234.35 290.01 L234.6 289.55 L234.85 289.09 L235.1 288.61 L235.35 288.11 L235.6 287.58 L235.85 287.02 L236.1 286.41 L236.35 285.77 L236.6 285.1 L236.85 284.41 L237.1 283.69 L237.35 282.94 L237.6 282.17 L237.85 281.39 L238.1 280.58 L238.35 279.76 L238.6 278.93 L238.85 278.09 L239.1 277.24 L239.35 276.38 L239.6 275.46 L239.85 274.51 L240.1 273.52 L240.35 272.5 L240.6 271.46 L240.85 270.42 L241.1 269.37 L241.35 268.33 L241.6 267.3 L241.85 266.3 L242.1 265.32 L242.35 264.39 L242.6 263.5 L242.85 262.64 L243.1 261.78 L243.35 260.93 L243.6 260.09 L243.85 259.27 L244.1 258.46 L244.35 257.67 L244.6 256.9 L244.85 256.16 L245.1 255.44 L245.35 254.77 L245.6 254.12 L245.85 253.52 L246.1 252.92 L246.35 252.3 L246.6 251.66 L246.85 251.04 L247.1 250.44 L247.35 249.9 L247.6 249.43 L247.85 249.06 L248.1 248.81 L248.35 248.7 L248.6 248.71 L248.85 248.77 L249.1 248.86 L249.35 248.98 L249.6 249.14 L249.85 249.33 L250.1 249.54 L250.35 249.77 L250.6 250.02 L250.85 250.28 L251.1 250.56 L251.35 250.84 L251.6 251.2 L251.85 251.74 L252.1 252.42 L252.35 253.16 L252.6 253.93 L252.85 254.64 L253.1 255.26 L253.35 255.72 L253.6 255.99 L253.85 256.18 L254.1 256.35 L254.35 256.49 L254.6 256.61 L254.85 256.72 L255.1 256.82 L255.35 256.92 L255.6 257.01 L255.85 257.11 L256.1 257.22 L256.35 257.34 L256.6 257.47 L256.85 257.63 L257.1 257.81 L257.35 258 L257.6 258.19 L257.85 258.4 L258.1 258.62 L258.35 258.85 L258.6 259.08 L258.85 259.33 L259.1 259.58 L259.35 259.85 L259.6 260.12 L259.85 260.4 L260.1 260.69 L260.35 260.99 L260.6 261.3 L260.85 261.61 L261.1 261.93 L261.35 262.27 L261.6 262.64 L261.85 263.02 L262.1 263.42 L262.35 263.84 L262.6 264.28 L262.85 264.73 L263.1 265.19 L263.35 265.66 L263.6 266.14 L263.85 266.63 L264.1 267.12 L264.35 267.61 L264.6 268.11 L264.85 268.61 L265.1 269.1 L265.35 269.6 L265.6 270.1 L265.85 270.61 L266.1 271.12 L266.35 271.64 L266.6 272.17 L266.85 272.71 L267.1 273.25 L267.35 273.8 L267.6 274.36 L267.85 274.92 L268.1 275.48 L268.35 276.05 L268.6 276.63 L268.85 277.21 L269.1 277.79 L269.35 278.38 L269.6 278.98 L269.85 279.58 L270.1 280.19 L270.35 280.82 L270.6 281.45 L270.85 282.08 L271.1 282.72 L271.35 283.37 L271.6 284.02 L271.85 284.67 L272.1 285.33 L272.35 285.98 L272.6 286.64 L272.85 287.29 L273.1 287.96 L273.35 288.63 L273.6 289.31 L273.85 289.99 L274.1 290.67 L274.35 291.35 L274.6 292.02 L274.85 292.69 L275.1 293.34 L275.35 293.99 L275.6 294.64 L275.85 295.3 L276.1 295.95 L276.35 296.61 L276.6 297.26 L276.85 297.91 L277.1 298.54 L277.35 299.17 L277.6 299.78 L277.85 300.37 L278.1 300.93 L278.35 301.48 L278.6 302 L278.85 302.49 L279.1 302.97 L279.35 303.42 L279.6 303.86 L279.85 304.28 L280.1 304.7 L280.35 305.11 L280.6 305.51 L280.85 305.92 L281.1 306.33 L281.35 306.75 L281.6 307.17 L281.85 307.59 L282.1 308.02 L282.35 308.44 L282.6 308.86 L282.85 309.28 L283.1 309.7 L283.35 310.12 L283.6 310.54 L283.85 310.95 L284.1 311.37 L284.35 311.79 L284.6 312.21 L284.85 312.64 L285.1 313.06 L285.35 313.49 L285.6 313.91 L285.85 314.33 L286.1 314.75 L286.35 315.17 L286.6 315.59 L286.85 316.01 L287.1 316.43 L287.35 316.85 L287.6 317.27 L287.85 317.69 L288.1 318.12 L288.35 318.54 L288.6 318.97 L288.85 319.4 L289.1 319.83 L289.35 320.26 L289.6 320.7 L289.85 321.14 L290.1 321.58 L290.35 322.03 L290.6 322.48 L290.85 322.94 L291.1 323.4 L291.35 323.86 L291.6 324.32 L291.85 324.78 L292.1 325.24 L292.35 325.7 L292.6 326.16 L292.85 326.63 L293.1 327.11 L293.35 327.59 L293.6 328.08 L293.85 328.59 L294.1 329.1 L294.35 329.63 L294.6 330.18 L294.85 330.74 L295.1 331.32 L295.35 331.92 L295.6 332.55 L295.85 333.21 L296.1 333.9 L296.35 334.62 L296.6 335.36 L296.85 336.11 L297.1 336.89 L297.35 337.68 L297.6 338.49 L297.85 339.31 L298.1 340.13 L298.35 340.96 L298.6 341.8 L298.85 342.64 L299.1 343.5 L299.35 344.38 L299.6 345.27 L299.85 346.18 L300.1 347.1 L300.35 348.03 L300.6 348.98 L300.85 349.94 L301.1 350.91 L301.35 351.89 L301.6 352.89 L301.85 353.89 L302.1 354.91 L302.35 355.94 L302.6 357 L302.85 358.07 L303.1 359.15 L303.35 360.26 L303.6 361.38 L303.85 362.51 L304.1 363.66 L304.35 364.83 L304.6 366" fill="none" stroke="#00b050" stroke-width="2.2" stroke-linejoin="round" stroke-linecap="round" />
<path d="M67.6 265.1 L67.85 265.73 L68.1 266.43 L68.35 267.19 L68.6 268.02 L68.85 268.89 L69.1 269.82 L69.35 270.8 L69.6 271.87 L69.85 273.04 L70.1 274.27 L70.35 275.56 L70.6 276.89 L70.85 278.23 L71.1 279.84 L71.35 281.75 L71.6 283.06 L71.85 282.93 L72.1 281.66 L72.35 280.2 L72.6 279.5 L72.85 279.52 L73.1 279.59 L73.35 279.68 L73.6 279.81 L73.85 279.96 L74.1 280.13 L74.35 280.34 L74.6 280.7 L74.85 281.18 L75.1 281.74 L75.35 282.34 L75.6 282.94 L75.85 283.5 L76.1 284 L76.35 284.51 L76.6 285.02 L76.85 285.53 L77.1 286.04 L77.35 286.55 L77.6 287.06 L77.85 287.57 L78.1 288.08 L78.35 288.59 L78.6 289.09 L78.85 289.6 L79.1 290.1 L79.35 290.6 L79.6 291.08 L79.85 291.56 L80.1 292.03 L80.35 292.5 L80.6 292.97 L80.85 293.44 L81.1 293.91 L81.35 294.39 L81.6 294.88 L81.85 295.39 L82.1 295.91 L82.35 296.44 L82.6 297 L82.85 297.59 L83.1 298.21 L83.35 298.85 L83.6 299.52 L83.85 300.2 L84.1 300.89 L84.35 301.58 L84.6 302.26 L84.85 302.94 L85.1 303.6 L85.35 304.26 L85.6 304.93 L85.85 305.6 L86.1 306.28 L86.35 306.95 L86.6 307.61 L86.85 308.25 L87.1 308.87 L87.35 309.45 L87.6 310 L87.85 310.52 L88.1 311.02 L88.35 311.5 L88.6 311.97 L88.85 312.43 L89.1 312.86 L89.35 313.29 L89.6 313.7 L89.85 314.11 L90.1 314.5 L90.35 314.89 L90.6 315.29 L90.85 315.69 L91.1 316.09 L91.35 316.49 L91.6 316.89 L91.85 317.28 L92.1 317.66 L92.35 318.02 L92.6 318.37 L92.85 318.7 L93.1 319.01 L93.35 319.29 L93.6 319.55 L93.85 319.78 L94.1 319.97 L94.35 320.13 L94.6 320.27 L94.85 320.4 L95.1 320.51 L95.35 320.62 L95.6 320.72 L95.85 320.82 L96.1 320.91 L96.35 320.99 L96.6 321.07 L96.85 321.15 L97.1 321.23 L97.35 321.3 L97.6 321.38 L97.85 321.47 L98.1 321.55 L98.35 321.64 L98.6 321.74 L98.85 321.83 L99.1 321.91 L99.35 322 L99.6 322.07 L99.85 322.15 L100.1 322.22 L100.35 322.3 L100.6 322.38 L100.85 322.47 L101.1 322.56 L101.35 322.66 L101.6 322.77 L101.85 322.89 L102.1 323.02 L102.35 323.17 L102.6 323.33 L102.85 323.53 L103.1 323.81 L103.35 324.18 L103.6 324.62 L103.85 325.12 L104.1 325.67 L104.35 326.26 L104.6 326.88 L104.85 327.51 L105.1 328.15 L105.35 328.79 L105.6 329.51 L105.85 330.3 L106.1 331.14 L106.35 332.03 L106.6 332.95 L106.85 333.9 L107.1 334.87 L107.35 335.84 L107.6 336.81 L107.85 337.76 L108.1 338.69 L108.35 339.59 L108.6 340.44 L108.85 341.32 L109.1 342.22 L109.35 343.14 L109.6 344.07 L109.85 344.99 L110.1 345.89 L110.35 346.77 L110.6 347.62 L110.85 348.41 L111.1 349.15 L111.35 349.82 L111.6 350.41 L111.85 350.91 L112.1 351.35 L112.35 351.78 L112.6 352.2 L112.85 352.61 L113.1 353.01 L113.35 353.38 L113.6 353.73 L113.85 354.04 L114.1 354.31 L114.35 354.54 L114.6 354.71 L114.85 354.83 L115.1 354.89 L115.35 354.89 L115.6 354.85 L115.85 354.77 L116.1 354.66 L116.35 354.53 L116.6 354.38 L116.85 354.23 L117.1 354.08 L117.35 353.93 L117.6 353.79 L117.85 353.67 L118.1 353.58 L118.35 353.52 L118.6 353.5 L118.85 353.55 L119.1 353.71 L119.35 353.96 L119.6 354.28 L119.85 354.66 L120.1 355.1 L120.35 355.57 L120.6 356.08 L120.85 356.59 L121.1 357.1 L121.35 357.6 L121.6 358.08 L121.85 358.52 L122.1 358.93 L122.35 359.37 L122.6 359.83 L122.85 360.29 L123.1 360.77 L123.35 361.25 L123.6 361.72 L123.85 362.18 L124.1 362.63 L124.35 363.06 L124.6 363.46 L124.85 363.83 L125.1 364.16 L125.35 364.46 L125.6 364.74 L125.85 365.03 L126.1 365.32 L126.35 365.57 L126.6 365.8 L126.85 365.97 L127.1 366.07 L127.35 366.1 L127.6 366.04 L127.85 365.9 L128.1 365.69 L128.35 365.42 L128.6 365.09 L128.85 364.71 L129.1 364.29 L129.35 363.83 L129.6 363.34 L129.85 362.84 L130.1 362.32 L130.35 361.79 L130.6 361.23 L130.85 360.59 L131.1 359.88 L131.35 359.06 L131.6 358.13 L131.85 357.08 L132.1 355.88 L132.35 354.52 L132.6 353 L132.85 350.28 L133.1 346.49 L133.35 343.39 L133.6 341.74 L133.85 340.39 L134.1 339.23 L134.35 338.22 L134.6 337.33 L134.85 336.51 L135.1 335.73 L135.35 334.94 L135.6 334.17 L135.85 333.45 L136.1 332.77 L136.35 332.12 L136.6 331.49 L136.85 330.89 L137.1 330.31 L137.35 329.73 L137.6 329.16 L137.85 328.59 L138.1 328.01 L138.35 327.41 L138.6 326.8 L138.85 326.18 L139.1 325.55 L139.35 324.92 L139.6 324.29 L139.85 323.66 L140.1 323.04 L140.35 322.41 L140.6 321.79 L140.85 321.17 L141.1 320.56 L141.35 319.95 L141.6 319.35 L141.85 318.75 L142.1 318.17 L142.35 317.58 L142.6 317 L142.85 316.42 L143.1 315.85 L143.35 315.28 L143.6 314.72 L143.85 314.17 L144.1 313.62 L144.35 313.07 L144.6 312.54 L144.85 312.01 L145.1 311.49 L145.35 310.98 L145.6 310.47 L145.85 309.96 L146.1 309.46 L146.35 308.96 L146.6 308.46 L146.85 307.98 L147.1 307.5 L147.35 307.03 L147.6 306.57 L147.85 306.12 L148.1 305.68 L148.35 305.25 L148.6 304.83 L148.85 304.43 L149.1 304.03 L149.35 303.65 L149.6 303.27 L149.85 302.9 L150.1 302.53 L150.35 302.17 L150.6 301.82 L150.85 301.47 L151.1 301.12 L151.35 300.78 L151.6 300.44 L151.85 300.09 L152.1 299.74 L152.35 299.38 L152.6 299.01 L152.85 298.65 L153.1 298.29 L153.35 297.93 L153.6 297.59 L153.85 297.27 L154.1 296.97 L154.35 296.69 L154.6 296.43 L154.85 296.21 L155.1 296.03 L155.35 295.87 L155.6 295.72 L155.85 295.59 L156.1 295.46 L156.35 295.35 L156.6 295.24 L156.85 295.14 L157.1 295.03 L157.35 294.93 L157.6 294.82 L157.85 294.7 L158.1 294.57 L158.35 294.43 L158.6 294.28 L158.85 294.13 L159.1 293.98 L159.35 293.83 L159.6 293.68 L159.85 293.51 L160.1 293.34 L160.35 293.16 L160.6 292.96 L160.85 292.75 L161.1 292.53 L161.35 292.28 L161.6 292.01 L161.85 291.71 L162.1 291.34 L162.35 290.89 L162.6 290.38 L162.85 289.81 L163.1 289.2 L163.35 288.55 L163.6 287.87 L163.85 287.16 L164.1 286.45 L164.35 285.72 L164.6 285 L164.85 284.29 L165.1 283.6 L165.35 282.9 L165.6 282.16 L165.85 281.39 L166.1 280.6 L166.35 279.8 L166.6 278.98 L166.85 278.16 L167.1 277.35 L167.35 276.55 L167.6 275.77 L167.85 275.02 L168.1 274.31 L168.35 273.63 L168.6 272.97 L168.85 272.28 L169.1 271.57 L169.35 270.84 L169.6 270.1 L169.85 269.37 L170.1 268.65 L170.35 267.95 L170.6 267.29 L170.85 266.67 L171.1 266.1 L171.35 265.59 L171.6 265.15 L171.85 264.79 L172.1 264.53 L172.35 264.36 L172.6 264.3 L172.85 264.3 L173.1 264.3 L173.35 264.3 L173.6 264.3 L173.85 264.3 L174.1 264.3 L174.35 264.3 L174.6 264.3 L174.85 264.3 L175.1 264.3 L175.35 264.35 L175.6 264.48 L175.85 264.67 L176.1 264.9 L176.35 265.15 L176.6 265.4 L176.85 265.63 L177.1 265.82 L177.35 265.95 L177.6 266 L177.85 265.95 L178.1 265.81 L178.35 265.6 L178.6 265.31 L178.85 264.97 L179.1 264.57 L179.35 264.14 L179.6 263.67 L179.85 263.19 L180.1 262.7 L180.35 262.2 L180.6 261.72 L180.85 261.26 L181.1 260.82 L181.35 260.35 L181.6 259.83 L181.85 259.27 L182.1 258.69 L182.35 258.1 L182.6 257.51 L182.85 256.93 L183.1 256.37 L183.35 255.84 L183.6 255.35 L183.85 254.91 L184.1 254.54 L184.35 254.25 L184.6 253.97 L184.85 253.7 L185.1 253.44 L185.35 253.2 L185.6 252.98 L185.85 252.81 L186.1 252.68 L186.35 252.61 L186.6 252.62 L186.85 252.79 L187.1 253.12 L187.35 253.59 L187.6 254.17 L187.85 254.83 L188.1 255.55 L188.35 256.29 L188.6 257.03 L188.85 257.74 L189.1 258.49 L189.35 259.31 L189.6 260.19 L189.85 261.13 L190.1 262.12 L190.35 263.16 L190.6 264.23 L190.85 265.34 L191.1 266.47 L191.35 267.63 L191.6 268.79 L191.85 269.97 L192.1 271.22 L192.35 272.6 L192.6 273.93 L192.85 275.06 L193.1 276.13 L193.35 277.16 L193.6 278.15 L193.85 279.1 L194.1 280.01 L194.35 280.89 L194.6 281.73 L194.85 282.53 L195.1 283.3 L195.35 284.04 L195.6 284.75 L195.85 285.43 L196.1 286.09 L196.35 286.72 L196.6 287.34 L196.85 287.94 L197.1 288.53 L197.35 289.1 L197.6 289.67 L197.85 290.23 L198.1 290.79 L198.35 291.34 L198.6 291.9 L198.85 292.45 L199.1 292.99 L199.35 293.51 L199.6 294.02 L199.85 294.52 L200.1 295.02 L200.35 295.51 L200.6 296 L200.85 296.48 L201.1 296.97 L201.35 297.47 L201.6 297.97 L201.85 298.48 L202.1 299 L202.35 299.53 L202.6 300.08 L202.85 300.64 L203.1 301.23 L203.35 301.84 L203.6 302.47 L203.85 303.11 L204.1 303.76 L204.35 304.41 L204.6 305.06 L204.85 305.71 L205.1 306.34 L205.35 306.96 L205.6 307.57 L205.85 308.15 L206.1 308.7 L206.35 309.23 L206.6 309.74 L206.85 310.24 L207.1 310.72 L207.35 311.2 L207.6 311.66 L207.85 312.12 L208.1 312.58 L208.35 313.04 L208.6 313.5 L208.85 313.96 L209.1 314.43 L209.35 314.9 L209.6 315.4 L209.85 315.93 L210.1 316.48 L210.35 317.04 L210.6 317.6 L210.85 318.14 L211.1 318.66 L211.35 319.13 L211.6 319.56 L211.85 319.92 L212.1 320.21 L212.35 320.47 L212.6 320.72 L212.85 320.94 L213.1 321.16 L213.35 321.36 L213.6 321.54 L213.85 321.72 L214.1 321.89 L214.35 322.05 L214.6 322.2 L214.85 322.35 L215.1 322.49 L215.35 322.63 L215.6 322.76 L215.85 322.87 L216.1 322.98 L216.35 323.09 L216.6 323.19 L216.85 323.3 L217.1 323.41 L217.35 323.52 L217.6 323.64 L217.85 323.75 L218.1 323.86 L218.35 323.96 L218.6 324.07 L218.85 324.18 L219.1 324.31 L219.35 324.44 L219.6 324.59 L219.85 324.75 L220.1 324.94 L220.35 325.15 L220.6 325.45 L220.85 325.86 L221.1 326.35 L221.35 326.9 L221.6 327.49 L221.85 328.1 L222.1 328.69 L222.35 329.25 L222.6 329.75 L222.85 330.18 L223.1 330.53 L223.35 330.84 L223.6 331.12 L223.85 331.39 L224.1 331.66 L224.35 331.96 L224.6 332.31 L224.85 332.72 L225.1 333.22 L225.35 333.93 L225.6 334.83 L225.85 335.88 L226.1 337.05 L226.35 338.27 L226.6 339.52 L226.85 340.75 L227.1 341.9 L227.35 342.95 L227.6 343.85 L227.85 344.75 L228.1 345.67 L228.35 346.59 L228.6 347.5 L228.85 348.4 L229.1 349.26 L229.35 350.08 L229.6 350.85 L229.85 351.55 L230.1 352.18 L230.35 352.71 L230.6 353.14 L230.85 353.45 L231.1 353.68 L231.35 353.89 L231.6 354.1 L231.85 354.28 L232.1 354.45 L232.35 354.6 L232.6 354.72 L232.85 354.81 L233.1 354.87 L233.35 354.9 L233.6 354.88 L233.85 354.81 L234.1 354.7 L234.35 354.56 L234.6 354.39 L234.85 354.2 L235.1 354.01 L235.35 353.82 L235.6 353.64 L235.85 353.48 L236.1 353.35 L236.35 353.25 L236.6 353.2 L236.85 353.22 L237.1 353.32 L237.35 353.49 L237.6 353.74 L237.85 354.03 L238.1 354.36 L238.35 354.73 L238.6 355.11 L238.85 355.49 L239.1 355.86 L239.35 356.22 L239.6 356.63 L239.85 357.08 L240.1 357.57 L240.35 358.08 L240.6 358.61 L240.85 359.16 L241.1 359.71 L241.35 360.26 L241.6 360.8 L241.85 361.32 L242.1 361.82 L242.35 362.28 L242.6 362.7 L242.85 363.12 L243.1 363.56 L243.35 364.02 L243.6 364.47 L243.85 364.9 L244.1 365.29 L244.35 365.62 L244.6 365.87 L244.85 366.04 L245.1 366.1 L245.35 366.05 L245.6 365.9 L245.85 365.66 L246.1 365.35 L246.35 364.96 L246.6 364.51 L246.85 364 L247.1 363.45 L247.35 362.87 L247.6 362.25 L247.85 361.62 L248.1 360.98 L248.35 360.33 L248.6 359.66 L248.85 358.91 L249.1 358.07 L249.35 357.14 L249.6 356.12 L249.85 354.99 L250.1 353.77 L250.35 352.44 L250.6 351 L250.85 348.87 L251.1 346.07 L251.35 343.49 L251.6 342 L251.85 341.42 L252.1 340.96 L252.35 340.59 L252.6 340.29 L252.85 340.03 L253.1 339.81 L253.35 339.6 L253.6 339.37 L253.85 339.11 L254.1 338.8 L254.35 338.42 L254.6 337.97 L254.85 337.49 L255.1 336.97 L255.35 336.42 L255.6 335.84 L255.85 335.23 L256.1 334.61 L256.35 333.97 L256.6 333.32 L256.85 332.66 L257.1 331.99 L257.35 331.33 L257.6 330.67 L257.85 330.02 L258.1 329.38 L258.35 328.76 L258.6 328.16 L258.85 327.56 L259.1 326.97 L259.35 326.38 L259.6 325.78 L259.85 325.19 L260.1 324.6 L260.35 324.01 L260.6 323.42 L260.85 322.82 L261.1 322.23 L261.35 321.64 L261.6 321.04 L261.85 320.44 L262.1 319.85 L262.35 319.24 L262.6 318.64 L262.85 318.03 L263.1 317.42 L263.35 316.79 L263.6 316.16 L263.85 315.52 L264.1 314.88 L264.35 314.24 L264.6 313.59 L264.85 312.96 L265.1 312.32 L265.35 311.7 L265.6 311.08 L265.85 310.47 L266.1 309.88 L266.35 309.3 L266.6 308.74 L266.85 308.19 L267.1 307.66 L267.35 307.12 L267.6 306.6 L267.85 306.07 L268.1 305.56 L268.35 305.05 L268.6 304.54 L268.85 304.05 L269.1 303.57 L269.35 303.09 L269.6 302.63 L269.85 302.18 L270.1 301.75 L270.35 301.32 L270.6 300.92 L270.85 300.53 L271.1 300.15 L271.35 299.78 L271.6 299.4 L271.85 299.03 L272.1 298.67 L272.35 298.31 L272.6 297.97 L272.85 297.64 L273.1 297.32 L273.35 297.03 L273.6 296.76 L273.85 296.52 L274.1 296.31 L274.35 296.13 L274.6 295.98 L274.85 295.85 L275.1 295.74 L275.35 295.64 L275.6 295.55 L275.85 295.47 L276.1 295.39 L276.35 295.32 L276.6 295.25 L276.85 295.18 L277.1 295.1 L277.35 295.02 L277.6 294.92 L277.85 294.82 L278.1 294.7 L278.35 294.56 L278.6 294.4 L278.85 294.2 L279.1 293.94 L279.35 293.63 L279.6 293.27 L279.85 292.87 L280.1 292.43 L280.35 291.95 L280.6 291.45 L280.85 290.93 L281.1 290.39 L281.35 289.83 L281.6 289.27 L281.85 288.71 L282.1 288.13 L282.35 287.49 L282.6 286.78 L282.85 286.03 L283.1 285.24 L283.35 284.42 L283.6 283.56 L283.85 282.69 L284.1 281.81 L284.35 280.92 L284.6 280.04 L284.85 279.16 L285.1 278.3 L285.35 277.47 L285.6 276.67 L285.85 275.91 L286.1 275.2 L286.35 274.5 L286.6 273.77 L286.85 273.02 L287.1 272.26 L287.35 271.5 L287.6 270.74 L287.85 269.99 L288.1 269.27 L288.35 268.58 L288.6 267.92 L288.85 267.31 L289.1 266.76 L289.35 266.26 L289.6 265.84 L289.85 265.5 L290.1 265.24 L290.35 265.07 L290.6 264.94 L290.85 264.82 L291.1 264.71 L291.35 264.61 L291.6 264.52 L291.85 264.44 L292.1 264.38 L292.35 264.33 L292.6 264.31 L292.85 264.3 L293.1 264.34 L293.35 264.43 L293.6 264.55 L293.85 264.71 L294.1 264.88 L294.35 265.07 L294.6 265.27 L294.85 265.45 L295.1 265.63 L295.35 265.78 L295.6 265.89 L295.85 265.97 L296.1 266 L296.35 265.95 L296.6 265.81 L296.85 265.6 L297.1 265.31 L297.35 264.97 L297.6 264.57 L297.85 264.14 L298.1 263.67 L298.35 263.19 L298.6 262.7 L298.85 262.2 L299.1 261.72 L299.35 261.26 L299.6 260.83 L299.85 260.36 L300.1 259.85 L300.35 259.31 L300.6 258.75 L300.85 258.17 L301.1 257.6 L301.35 257.03 L301.6 256.47 L301.85 255.94 L302.1 255.44 L302.35 254.98 L302.6 254.58 L302.85 254.24 L303.1 253.92 L303.35 253.63 L303.6 253.35 L303.85 253.1 L304.1 252.88 L304.35 252.67 L304.6 252.5" fill="none" stroke="#0070c0" stroke-width="2.2" stroke-linejoin="round" stroke-linecap="round" />
<line x1="118.3" y1="286.5" x2="118.3" y2="300.8" stroke="#ff0000" stroke-width="1.6" />
<line x1="177.4" y1="317.5" x2="177.4" y2="331.5" stroke="#ff0000" stroke-width="1.6" />
<line x1="236.7" y1="285.2" x2="236.7" y2="302" stroke="#ff0000" stroke-width="1.6" />
<line x1="296.6" y1="316.7" x2="296.6" y2="330.1" stroke="#ff0000" stroke-width="1.6" />
<line x1="118.6" y1="272.7" x2="118.6" y2="283.6" stroke="#00b050" stroke-width="1.6" />
<line x1="157.6" y1="298.5" x2="157.6" y2="306.6" stroke="#00b050" stroke-width="1.6" />
<line x1="177.6" y1="333.5" x2="177.6" y2="345.2" stroke="#00b050" stroke-width="1.6" />
<line x1="217.3" y1="313.4" x2="217.3" y2="323.4" stroke="#00b050" stroke-width="1.6" />
<line x1="236.7" y1="272.7" x2="236.7" y2="285.2" stroke="#00b050" stroke-width="1.6" />
<line x1="276.5" y1="286.9" x2="276.5" y2="305.3" stroke="#00b050" stroke-width="1.6" />
<line x1="297" y1="332.6" x2="297" y2="346" stroke="#00b050" stroke-width="1.6" />
<line x1="73.4" y1="278.5" x2="73.4" y2="293.6" stroke="#0070c0" stroke-width="1.6" />
<line x1="157.4" y1="287.2" x2="157.4" y2="295" stroke="#0070c0" stroke-width="1.6" />
<line x1="98.5" y1="321.7" x2="98.5" y2="331" stroke="#0070c0" stroke-width="1.6" />
<line x1="193.2" y1="274.4" x2="193.2" y2="286.9" stroke="#0070c0" stroke-width="1.6" />
<line x1="217.3" y1="321.7" x2="217.3" y2="330.9" stroke="#0070c0" stroke-width="1.6" />
<line x1="252.1" y1="332.6" x2="252.1" y2="345.2" stroke="#0070c0" stroke-width="1.6" />
<path d="M67.6 318.4 L69.3 306 L70.9 295.5 L72 305 L73.3 309.8" fill="none" stroke="#000000" stroke-width="1.7" stroke-linejoin="round" stroke-linecap="round" />
<line x1="74.3" y1="309.5" x2="74.3" y2="320.3" stroke="#000000" stroke-width="1.6" />
<path d="M73 309.8 L76.5 310 L76.8 310.58 L77.5 309.84 L78.2 309.65 L78.9 308.56 L79.6 309.43 L80.3 309.39 L81 309.53 L81.7 309.23 L82.4 309.55 L83.1 309.3 L83.8 308.84 L84.5 310.05 L85.2 310.04 L85.9 310.49 L86.6 309.58 L87.3 309.32 L88 309.24 L88.7 308.69 L89.4 310.07 L90.1 308.92 L90.8 308.87 L91.5 309.41 L92.2 310.34 L92.9 309.65 L93.6 308.95 L94.3 309.12 L95 309.85 L95.7 309.41 L96.4 309.07 L97.1 309.37 L97.8 309.9 L98.5 310.57 L99.2 308.8 L99.9 309.13 L100.6 309.03 L101.3 308.14 L102 308.96 L102.7 308.9 L103.4 310.08 L104.1 309.38 L104.8 308.56 L105.5 309.8 L106.2 309.25 L106.9 308.48 L107.6 309.11 L108.3 309.11 L109 308.95 L109.7 309.44 L110.4 308.19 L111.1 309.27 L111.8 309.97 L112.5 309.88 L113.2 310.02 L113.9 310.02 L114.6 310.22 L115.3 308.78 L116 309.86 L116.7 308.37 L117.4 309.05 L118.1 308.33 L118.8 309.96 L119.5 310.11 L120.2 309.26 L120.9 310.34 L121.6 308.99 L122.3 309.44 L123 309.44 L123.7 308.77 L124.4 309.59 L125.1 310.41 L125.8 308.78 L126.5 309.83 L127.2 309.25 L127.9 310.3 L128.6 309.59 L129.3 309.7 L130 309.67 L130.7 309.45 L131.4 308.54 L132.1 310.07 L132.8 308.55 L133.5 309.43 L134.2 309.64 L134.9 308.83 L135.6 309.37 L136.3 309.93 L137 309.27 L137.7 308.79 L138.4 307.67 L139.1 308.74 L139.8 308.94 L140.5 308.98 L141.2 308.73 L141.9 309.46 L142.6 308.94 L143.3 309.19 L144 309.62 L144.7 308.77 L145.4 309.07 L146.1 310.42 L146.8 309.71 L147.5 308.52 L148.2 309.18 L148.9 309.53 L149.6 309.89 L150.3 309.29 L151 308.92 L151.7 308.8 L152.4 309.56 L153.1 309.37 L153.8 308.91 L154.5 309.09 L155.2 308.96 L155.9 309.58 L156.6 308.8 L157.3 309.44 L158 309.64 L158.7 309.44 L159.4 308.71 L160.1 309.9 L160.8 308.78 L161.5 309.39 L162.2 308.74 L162.9 308.19 L163.6 309.27 L164.3 309.3 L165 309.09 L165.7 309.28 L166.4 308.77 L167.1 308.72 L167.8 309.03 L168.5 310.17 L169.2 309.56 L169.9 308.82 L170.6 309.41 L171.3 308.84 L172 308.85 L172.7 309.57 L173.4 308.8 L174.1 308.17 L174.8 308.59 L175.5 309.13 L176.2 309.15 L176.9 309.76 L177.6 308.68 L178.3 309.47 L179 309.3 L179.7 308.98 L180.4 309.51 L181.1 309.32 L181.8 308.57 L182.5 309.63 L183.2 308.37 L183.9 309.07 L184.6 309.03 L185.3 309.26 L186 308.63 L186.7 309 L187.4 308.94 L188.1 309.56 L188.8 308.57 L189.5 309.05 L190.2 308.86 L190.9 308.29 L191.6 310.47 L192.3 308.95 L193 308.17 L193.7 309.76 L194.4 308.39 L195.1 309.18 L195.8 309.45 L196.5 308.61 L197.2 308.73 L197.9 308.66 L198.6 308.89 L199.3 308.06 L200 308.27 L200.7 308.87 L201.4 309.52 L202.1 309.29 L202.8 309.89 L203.5 309.31 L204.2 308.65 L204.9 308.86 L205.6 307.8 L206.3 308.39 L207 308.35 L207.7 309.06 L208.4 309.26 L209.1 308.59 L209.8 308.58 L210.5 308.05 L211.2 308.82 L211.9 309.02 L212.6 309.13 L213.3 308.45 L214 309.97 L214.7 309.53 L215.4 308.82 L216.1 308.58 L216.8 308.69 L217.5 308.94 L218.2 308.84 L218.9 309.12 L219.6 309.27 L220.3 309.6 L221 309.47 L221.7 308.78 L222.4 309.05 L223.1 308.62 L223.8 308.5 L224.5 309.87 L225.2 308.57 L225.9 309.91 L226.6 308.62 L227.3 308.95 L228 309.4 L228.7 308.81 L229.4 309.01 L230.1 308.66 L230.8 308.53 L231.5 308.69 L232.2 308.42 L232.9 309.67 L233.6 308.68 L234.3 309.72 L235 307.29 L235.7 308.77 L236.4 309.07 L237.1 308.59 L237.8 309.35 L238.5 309.1 L239.2 308.59 L239.9 308.98 L240.6 310.28 L241.3 308.87 L242 308.89 L242.7 308.48 L243.4 308.8 L244.1 308.01 L244.8 308.61 L245.5 310.06 L246.2 309.29 L246.9 309.06 L247.6 309.31 L248.3 309.73 L249 309.02 L249.7 309.83 L250.4 309.27 L251.1 308.77 L251.8 309.62 L252.5 307.38 L253.2 308.36 L253.9 308.81 L254.6 308.16 L255.3 308.57 L256 308.3 L256.7 308.29 L257.4 310.14 L258.1 308.99 L258.8 308.61 L259.5 309.36 L260.2 308.5 L260.9 309.12 L261.6 308.82 L262.3 309.52 L263 307.84 L263.7 309.04 L264.4 308.68 L265.1 307.97 L265.8 309.19 L266.5 308.12 L267.2 309.49 L267.9 308.88 L268.6 308.97 L269.3 308.63 L270 309.08 L270.7 307.55 L271.4 308.62 L272.1 308.23 L272.8 308.72 L273.5 308.54 L274.2 308.9 L274.9 308.1 L275.6 309.56 L276.3 309.82 L277 308.43 L277.7 308.53 L278.4 308.7 L279.1 309.23 L279.8 309.57 L280.5 307.86 L281.2 308.18 L281.9 307.94 L282.6 307.9 L283.3 307.61 L284 308.71 L284.7 307.87 L285.4 309.33 L286.1 309 L286.8 307.93 L287.5 307.92 L288.2 308.15 L288.9 309.25 L289.6 308.01 L290.3 307.65 L291 308.44 L291.7 308.67 L292.4 308.1 L293.1 309.35 L293.8 308.59 L294.5 308.7 L295.2 307.98 L295.9 308.42 L296.6 308.36 L297.3 307.19 L298 308.59 L298.7 307.44 L299.4 308.41 L300.1 307.61 L300.8 309.53 L301.5 308.6 L302.2 308.89 L302.9 308.91 L303.6 307.68 L304.3 307.15" fill="none" stroke="#000000" stroke-width="3.0" stroke-linejoin="round" stroke-linecap="round" />
<line x1="118.7" y1="310" x2="118.7" y2="319.5" stroke="#000000" stroke-width="1.6" />
<line x1="133.9" y1="309" x2="133.9" y2="300.3" stroke="#000000" stroke-width="1.6" />
<line x1="178.2" y1="308.6" x2="178.2" y2="300.8" stroke="#000000" stroke-width="1.6" />
<line x1="193.5" y1="309.5" x2="193.5" y2="320" stroke="#000000" stroke-width="1.6" />
<line x1="236.7" y1="309.3" x2="236.7" y2="317.6" stroke="#000000" stroke-width="1.6" />
<line x1="252.6" y1="308.8" x2="252.6" y2="300.3" stroke="#000000" stroke-width="1.6" />
<line x1="297" y1="308.6" x2="297" y2="300.3" stroke="#000000" stroke-width="1.6" />
<line x1="67.8" y1="233.6" x2="304.6" y2="233.6" stroke="#c4c4c4" stroke-width="2.6" />
<line x1="67.8" y1="386" x2="304.6" y2="386" stroke="#cccccc" stroke-width="1.8" />
<line x1="67.8" y1="232.6" x2="67.8" y2="386.8" stroke="#bdbdbd" stroke-width="1.6" />
<line x1="304.6" y1="232.6" x2="304.6" y2="386.8" stroke="#b0b0b0" stroke-width="1.4" />
<path d="M400.5 307.7 L402.5 304.3 L404.5 302.6 L406.5 299.2 L408.5 295.8 L410.5 294.1 L412.5 290.7 L414.5 289 L416.5 287.3 L418.5 283.9 L420.5 282.2 L422.5 282.2 L424.5 280.5 L426.5 278.8 L428.5 278.8 L430.5 278.8 L432.5 278.8 L434.5 278.8 L436.5 278.8 L438.5 280.5 L440.5 280.5 L442.5 282.2 L444.5 283.9 L446.5 285.6 L448.5 287.3 L450.5 290.7 L452.5 292.4 L454.5 295.8 L456.5 297.5 L458.5 300.9 L460.5 304.3 L462.5 306 L464.5 309.4 L466.5 312.8 L468.5 316.2 L470.5 317.9 L472.5 321.3 L474.5 324.7 L476.5 326.4 L478.5 329.8 L480.5 331.5 L482.5 333.2 L484.5 334.9 L486.5 336.6 L488.5 338.3 L490.5 338.3 L492.5 340 L494.5 340 L496.5 340 L498.5 340 L500.5 340 L502.5 340 L504.5 338.3 L506.5 336.6 L508.5 336.6 L510.5 333.2 L512.5 331.5 L514.5 329.8 L516.5 328.1 L518.5 324.7 L520.5 323 L522.5 319.6 L524.5 316.2 L526.5 312.8 L528.5 311.1 L530.5 307.7 L532.5 304.3 L534.5 300.9 L536.5 299.2 L538.5 295.8 L540.5 294.1 L542.5 290.7 L544.5 289 L546.5 285.6 L548.5 283.9 L550.5 282.2 L552.5 280.5 L554.5 280.5 L556.5 278.8 L558.5 278.8 L560.5 278.8 L562.5 278.8 L564.5 278.8 L566.5 278.8 L568.5 280.5 L570.5 280.5 L572.5 282.2 L574.5 283.9 L576.5 285.6 L578.5 287.3 L580.5 290.7 L582.5 292.4 L584.5 295.8 L586.5 297.5 L588.5 300.9 L590.5 304.3 L592.5 306 L594.5 309.4 L596.5 312.8 L598.5 316.2 L600.5 319.6 L602.5 321.3 L604.5 324.7 L606.5 326.4 L608.5 329.8 L610.5 331.5 L612.5 333.2 L614.5 334.9 L616.5 336.6 L618.5 338.3 L620.5 340 L622.5 340 L624.5 340 L626.5 340 L628.5 340 L630.5 340 L632.5 340 L634.5 338.3 L636.5 336.6 L638.5 334.9 L640.5 333.2 L642.5 331.5 L644.5 329.8 L646.5 328.1 L648.5 324.7 L650.5 321.3 L652.5 319.6 L654.5 316.2 L656.5 312.8 L658.5 311.1 L660.5 307.7" fill="none" stroke="#ff0000" stroke-width="2.3" stroke-linejoin="round" stroke-linecap="round" />
<path d="M401.2 329.4 L401.2 336.6 L402.5 338.3 L404.5 340 L406.5 340 L408.5 340 L410.5 340 L412.5 340 L414.5 340 L416.5 340 L418.5 338.3 L420.5 336.6 L422.5 334.9 L424.5 333.2 L426.5 331.5 L428.5 329.8 L430.5 326.4 L432.5 324.7 L434.5 321.3 L436.5 317.9 L438.5 316.2 L440.5 312.8 L442.5 309.4 L444.5 306 L446.5 304.3 L448.5 300.9 L450.5 297.5 L452.5 295.8 L454.5 292.4 L456.5 290.7 L458.5 287.3 L460.5 285.6 L462.5 283.9 L464.5 282.2 L466.5 280.5 L468.5 280.5 L470.5 278.8 L472.5 278.8 L474.5 278.8 L476.5 278.8 L478.5 278.8 L480.5 278.8 L482.5 280.5 L484.5 280.5 L486.5 282.2 L488.5 283.9 L490.5 285.6 L492.5 289 L494.5 290.7 L496.5 294.1 L498.5 295.8 L500.5 299.2 L502.5 300.9 L504.5 304.3 L506.5 307.7 L508.5 311.1 L510.5 314.5 L512.5 316.2 L514.5 319.6 L516.5 323 L518.5 324.7 L520.5 328.1 L522.5 329.8 L524.5 331.5 L526.5 334.9 L528.5 336.6 L530.5 336.6 L532.5 338.3 L534.5 340 L536.5 340 L538.5 340 L540.5 340 L542.5 340 L544.5 340 L546.5 338.3 L548.5 338.3 L550.5 336.6 L552.5 334.9 L554.5 333.2 L556.5 331.5 L558.5 329.8 L560.5 326.4 L562.5 324.7 L564.5 321.3 L566.5 317.9 L568.5 316.2 L570.5 312.8 L572.5 309.4 L574.5 306 L576.5 304.3 L578.5 300.9 L580.5 297.5 L582.5 295.8 L584.5 292.4 L586.5 290.7 L588.5 287.3 L590.5 285.6 L592.5 283.9 L594.5 282.2 L596.5 280.5 L598.5 280.5 L600.5 278.8 L602.5 278.8 L604.5 278.8 L606.5 278.8 L608.5 278.8 L610.5 278.8 L612.5 280.5 L614.5 282.2 L616.5 282.2 L618.5 283.9 L620.5 287.3 L622.5 289 L624.5 290.7 L626.5 294.1 L628.5 295.8 L630.5 299.2 L632.5 302.6 L634.5 304.3 L636.5 307.7 L638.5 311.1 L640.5 314.5 L642.5 316.2 L644.5 319.6 L646.5 323 L648.5 324.7 L650.5 328.1 L652.5 329.8 L654.5 331.5 L656.5 334.9 L658.5 336.6 L660.5 336.6" fill="none" stroke="#00b050" stroke-width="2.3" stroke-linejoin="round" stroke-linecap="round" />
<path d="M401.2 274.8 L401.2 283.9 L402.5 285.6 L404.5 287.3 L406.5 289 L408.5 290.7 L410.5 294.1 L412.5 297.5 L414.5 299.2 L416.5 302.6 L418.5 306 L420.5 307.7 L422.5 311.1 L424.5 314.5 L426.5 317.9 L428.5 319.6 L430.5 323 L432.5 326.4 L434.5 328.1 L436.5 329.8 L438.5 333.2 L440.5 334.9 L442.5 336.6 L444.5 338.3 L446.5 338.3 L448.5 340 L450.5 340 L452.5 340 L454.5 340 L456.5 340 L458.5 340 L460.5 338.3 L462.5 338.3 L464.5 336.6 L466.5 334.9 L468.5 333.2 L470.5 331.5 L472.5 328.1 L474.5 326.4 L476.5 323 L478.5 321.3 L480.5 317.9 L482.5 314.5 L484.5 311.1 L486.5 309.4 L488.5 306 L490.5 302.6 L492.5 299.2 L494.5 297.5 L496.5 294.1 L498.5 292.4 L500.5 289 L502.5 287.3 L504.5 285.6 L506.5 283.9 L508.5 282.2 L510.5 280.5 L512.5 278.8 L514.5 278.8 L516.5 278.8 L518.5 278.8 L520.5 278.8 L522.5 278.8 L524.5 278.8 L526.5 280.5 L528.5 282.2 L530.5 283.9 L532.5 285.6 L534.5 287.3 L536.5 289 L538.5 292.4 L540.5 294.1 L542.5 297.5 L544.5 299.2 L546.5 302.6 L548.5 306 L550.5 309.4 L552.5 311.1 L554.5 314.5 L556.5 317.9 L558.5 321.3 L560.5 323 L562.5 326.4 L564.5 328.1 L566.5 331.5 L568.5 333.2 L570.5 334.9 L572.5 336.6 L574.5 338.3 L576.5 338.3 L578.5 340 L580.5 340 L582.5 340 L584.5 340 L586.5 340 L588.5 340 L590.5 338.3 L592.5 338.3 L594.5 336.6 L596.5 334.9 L598.5 333.2 L600.5 329.8 L602.5 328.1 L604.5 326.4 L606.5 323 L608.5 319.6 L610.5 317.9 L612.5 314.5 L614.5 311.1 L616.5 307.7 L618.5 306 L620.5 302.6 L622.5 299.2 L624.5 297.5 L626.5 294.1 L628.5 290.7 L630.5 289 L632.5 287.3 L634.5 285.6 L636.5 283.9 L638.5 282.2 L640.5 280.5 L642.5 278.8 L644.5 278.8 L646.5 278.8 L648.5 278.8 L650.5 278.8 L652.5 278.8 L654.5 278.8 L656.5 280.5 L658.5 282.2 L660.5 283.9" fill="none" stroke="#0070c0" stroke-width="2.3" stroke-linejoin="round" stroke-linecap="round" />
<line x1="409.7" y1="283.4" x2="409.7" y2="291.8" stroke="#ff0000" stroke-width="2.9" />
<line x1="409.7" y1="290.1" x2="409.7" y2="302.6" stroke="#0070c0" stroke-width="2.9" />
<line x1="435.7" y1="326.9" x2="435.7" y2="338.6" stroke="#0070c0" stroke-width="2.9" />
<line x1="435.7" y1="311.8" x2="435.7" y2="320.2" stroke="#00b050" stroke-width="2.9" />
<line x1="453.5" y1="285.1" x2="453.5" y2="296.8" stroke="#00b050" stroke-width="2.9" />
<line x1="475" y1="315.2" x2="475" y2="326.9" stroke="#0070c0" stroke-width="2.9" />
<line x1="475" y1="323.6" x2="475" y2="335.3" stroke="#ff0000" stroke-width="2.9" />
<line x1="500.1" y1="280" x2="500.1" y2="291.8" stroke="#0070c0" stroke-width="2.9" />
<line x1="500.1" y1="297.6" x2="500.1" y2="306.8" stroke="#00b050" stroke-width="2.9" />
<line x1="518.5" y1="321.9" x2="518.5" y2="333.6" stroke="#00b050" stroke-width="2.9" />
<line x1="540.3" y1="283.4" x2="540.3" y2="293.4" stroke="#ff0000" stroke-width="2.9" />
<line x1="540.3" y1="291.8" x2="540.3" y2="302.6" stroke="#0070c0" stroke-width="2.9" />
<line x1="565.9" y1="312.7" x2="565.9" y2="321.9" stroke="#00b050" stroke-width="2.9" />
<line x1="565.9" y1="326.9" x2="565.9" y2="339.5" stroke="#0070c0" stroke-width="2.9" />
<line x1="584" y1="286.7" x2="584" y2="296.8" stroke="#00b050" stroke-width="2.9" />
<line x1="605.6" y1="315.2" x2="605.6" y2="326.9" stroke="#0070c0" stroke-width="2.9" />
<line x1="605.6" y1="326.9" x2="605.6" y2="336.1" stroke="#ff0000" stroke-width="2.9" />
<line x1="630.1" y1="279.8" x2="630.1" y2="291.1" stroke="#0070c0" stroke-width="2.9" />
<line x1="630.1" y1="295.8" x2="630.1" y2="307.1" stroke="#00b050" stroke-width="2.9" />
<line x1="649.4" y1="320.3" x2="649.4" y2="333.5" stroke="#00b050" stroke-width="2.9" />
<line x1="401" y1="309.5" x2="661.5" y2="309.5" stroke="#000000" stroke-width="2.1" />
<line x1="410.3" y1="309.5" x2="410.3" y2="315.1" stroke="#000000" stroke-width="1.8" />
<line x1="435.7" y1="303.5" x2="435.7" y2="311" stroke="#000000" stroke-width="1.8" />
<line x1="453.2" y1="309.5" x2="453.2" y2="315.2" stroke="#000000" stroke-width="1.8" />
<line x1="475" y1="303.5" x2="475" y2="309.5" stroke="#000000" stroke-width="1.8" />
<line x1="500.1" y1="309.3" x2="500.1" y2="314.4" stroke="#000000" stroke-width="1.8" />
<line x1="519.4" y1="302.6" x2="519.4" y2="310.2" stroke="#000000" stroke-width="1.8" />
<line x1="541.1" y1="309.3" x2="541.1" y2="315.2" stroke="#000000" stroke-width="1.8" />
<line x1="565.9" y1="303.5" x2="565.9" y2="309.3" stroke="#000000" stroke-width="1.8" />
<line x1="584" y1="309.3" x2="584" y2="315.2" stroke="#000000" stroke-width="1.8" />
<line x1="605.6" y1="303.5" x2="605.6" y2="310.2" stroke="#000000" stroke-width="1.8" />
<line x1="630.1" y1="309.4" x2="630.1" y2="315.6" stroke="#000000" stroke-width="1.8" />
<line x1="649.9" y1="302.4" x2="649.9" y2="309.4" stroke="#000000" stroke-width="1.8" />
<line x1="401.2" y1="306.6" x2="401.2" y2="320.3" stroke="#000000" stroke-width="2.3" />
<line x1="518.8" y1="351.3" x2="498.5" y2="319.2" stroke="#333" stroke-width="0.9" />
<path d="M494.3,312.2 L502.2,316.0 L494.6,320.6 Z" fill="#000"/>
<line x1="400.5" y1="231.4" x2="661.5" y2="231.4" stroke="#8c8c8c" stroke-width="1.3" />
<line x1="400.5" y1="389.2" x2="661.5" y2="389.2" stroke="#555555" stroke-width="1.4" />
<line x1="400.5" y1="231.4" x2="400.5" y2="389.2" stroke="#bbbbbb" stroke-width="1.1" />
<line x1="661.5" y1="231.4" x2="661.5" y2="389.2" stroke="#a0a0a0" stroke-width="0.9" stroke-dasharray="1.2 0.8"/>
<line x1="400.5" y1="237.8" x2="403" y2="237.8" stroke="#888" stroke-width="1.0" />
<line x1="659" y1="237.8" x2="661.5" y2="237.8" stroke="#888" stroke-width="1.0" />
<line x1="400.5" y1="381" x2="403" y2="381" stroke="#888" stroke-width="1.0" />
<line x1="659" y1="381" x2="661.5" y2="381" stroke="#888" stroke-width="1.0" />
<line x1="531.5" y1="389.2" x2="531.5" y2="386.7" stroke="#555" stroke-width="1.0" />
<line x1="531.5" y1="231.4" x2="531.5" y2="233.4" stroke="#888" stroke-width="1.0" />
<text x="37.11" y="20.4" font-size="16.5" style="" fill="#000" >500</text>
<text x="51.81" y="87.3" font-size="16.5" style="" fill="#000" >0</text>
<text x="30.88" y="154.6" font-size="16.5" style="" fill="#000" >-500</text>
<text x="65.78" y="184.7" font-size="16.5" style="" fill="#000" >0</text>
<text x="116.63" y="184.7" font-size="16.5" style="" fill="#000" >0.01</text>
<text x="175.99" y="184.7" font-size="16.5" style="" fill="#000" >0.02</text>
<text x="233.36" y="184.7" font-size="16.5" style="" fill="#000" >0.03</text>
<text x="292.56" y="184.7" font-size="16.5" style="" fill="#000" >0.04</text>
<text x="181.93" y="212.2" font-size="17.6" style="" fill="#000" >(a)</text>
<text transform="translate(28.6,161.5) rotate(-90)" x="-1.21" y="0" font-size="18.6" textLength="154.77" lengthAdjust="spacingAndGlyphs">Source Voltages (V)</text>
<text transform="translate(83.43,33.3) skewX(-8) scale(0.86,1)" x="0" y="0" font-size="22.5" style="font-style:italic;">V</text>
<text x="96.88" y="36.6" font-size="15.5" style="" fill="#000" >sa</text>
<text transform="translate(134.23,29.9) skewX(-8) scale(0.86,1)" x="0" y="0" font-size="22.5" style="font-style:italic;">V</text>
<text x="147.88" y="33.5" font-size="15.5" style="" fill="#000" >sb</text>
<text transform="translate(93.83,134) skewX(-8) scale(0.86,1)" x="0" y="0" font-size="22.5" style="font-style:italic;">V</text>
<text x="107.08" y="137.3" font-size="15.5" style="" fill="#000" >sc</text>
<text x="375.66" y="11.8" font-size="16.5" style="" fill="#000" >10</text>
<text x="386.21" y="88" font-size="16.5" style="" fill="#000" >0</text>
<text x="369.83" y="162" font-size="16.5" style="" fill="#000" >-10</text>
<text x="400.18" y="184.8" font-size="16.5" style="" fill="#000" >0</text>
<text x="459.23" y="184.8" font-size="16.5" style="" fill="#000" >0.01</text>
<text x="525.89" y="184.8" font-size="16.5" style="" fill="#000" >0.02</text>
<text x="589.96" y="184.8" font-size="16.5" style="" fill="#000" >0.03</text>
<text x="654.96" y="184.8" font-size="16.5" style="" fill="#000" >0.04</text>
<text x="520.61" y="212.3" font-size="17.6" style="" fill="#000" >(b)</text>
<text transform="translate(368.6,148.1) rotate(-90)" x="-0.56" y="0" font-size="18.6" textLength="138.45" lengthAdjust="spacingAndGlyphs">Load Currents (A)</text>
<text transform="translate(424.28,49.6) skewX(-9) scale(0.95,1)" x="0" y="0" font-size="21.5" style="font-style:italic;">i</text>
<text x="431.39" y="52.6" font-size="15.5" style="" fill="#000" >la</text>
<text transform="translate(483.08,33.9) skewX(-9) scale(0.95,1)" x="0" y="0" font-size="21.5" style="font-style:italic;">i</text>
<text x="490.19" y="37" font-size="15.5" style="" fill="#000" >lb</text>
<text transform="translate(470.48,69.6) skewX(-9) scale(0.95,1)" x="0" y="0" font-size="21.5" style="font-style:italic;">i</text>
<text x="477.59" y="72.6" font-size="15.5" style="" fill="#000" >ln</text>
<text transform="translate(474.28,142.9) skewX(-9) scale(0.95,1)" x="0" y="0" font-size="21.5" style="font-style:italic;">i</text>
<text x="481.29" y="146.3" font-size="15.5" style="" fill="#000" >lc</text>
<text x="44.26" y="240" font-size="16.5" style="" fill="#000" >10</text>
<text x="53.41" y="316" font-size="16.5" style="" fill="#000" >0</text>
<text x="38.83" y="390" font-size="16.5" style="" fill="#000" >-10</text>
<text x="67.17" y="410.7" font-size="16.5" style="" fill="#000" >0</text>
<text x="119.73" y="410.7" font-size="16.5" style="" fill="#000" >0.01</text>
<text x="180.09" y="410.7" font-size="16.5" style="" fill="#000" >0.02</text>
<text x="239.26" y="410.7" font-size="16.5" style="" fill="#000" >0.03</text>
<text x="297.96" y="410.7" font-size="16.5" style="" fill="#000" >0.04</text>
<text x="140.03" y="444.9" font-size="18.6" style="" fill="#000" >Time (Sec)</text>
<text x="175.91" y="473" font-size="17.6" style="" fill="#000" >(c)</text>
<text transform="translate(14.1,390.9) rotate(-90)" x="-0.74" y="0" font-size="18.6" textLength="157.5" lengthAdjust="spacingAndGlyphs">Compensated Source</text>
<text transform="translate(36.1,390.9) rotate(-90)" x="-0.7" y="0" font-size="18.4" textLength="157.4" lengthAdjust="spacingAndGlyphs">Currents (A) IRP-<tspan style="font-style:italic">pq</tspan>)</text>
<text transform="translate(81,266.7) skewX(-9) scale(0.95,1)" x="0" y="0" font-size="21.0" style="font-style:italic;">i</text>
<text x="87.78" y="269.6" font-size="15.5" style="" fill="#000" >sa</text>
<text transform="translate(140.2,255.9) skewX(-9) scale(0.95,1)" x="0" y="0" font-size="21.0" style="font-style:italic;">i</text>
<text x="146.38" y="259.1" font-size="15.5" style="" fill="#000" >sb</text>
<text transform="translate(189.8,255.9) skewX(-9) scale(0.95,1)" x="0" y="0" font-size="21.0" style="font-style:italic;">i</text>
<text x="195.88" y="259.1" font-size="15.5" style="" fill="#000" >sc</text>
<text transform="translate(205.3,299.2) skewX(-9) scale(0.95,1)" x="0" y="0" font-size="21.0" style="font-style:italic;">i</text>
<text x="211.88" y="302.6" font-size="15.5" style="" fill="#000" >sn</text>
<text x="376.3" y="243" font-size="15.0" style="" fill="#000" >10</text>
<text x="380" y="314.2" font-size="15.0" style="" fill="#000" >0</text>
<text x="370.97" y="385.8" font-size="15.0" style="" fill="#000" >-10</text>
<text x="401.25" y="413" font-size="15.0" style="" fill="#000" >0</text>
<text x="523.59" y="413" font-size="15.0" style="" fill="#000" >0.02</text>
<text x="653.39" y="413" font-size="15.0" style="" fill="#000" >0.04</text>
<text x="500.03" y="441.8" font-size="18.6" style="" fill="#000" >Time (Sec)</text>
<text x="526.01" y="473" font-size="17.6" style="" fill="#000" >(d)</text>
<text transform="translate(344.3,394) rotate(-90)" x="-0.74" y="0" font-size="18.6" textLength="158.81" lengthAdjust="spacingAndGlyphs">Compensated Source</text>
<text transform="translate(366.5,407.9) rotate(-90)" x="-0.74" y="0" font-size="18.6" textLength="182.1" lengthAdjust="spacingAndGlyphs">Currents (A) (Proposed)</text>
<text transform="translate(428.28,272.8) skewX(-9) scale(0.95,1)" x="0" y="0" font-size="21.5" style="font-style:italic;">i</text>
<text x="434.68" y="275.9" font-size="15.5" style="" fill="#000" >sa</text>
<text transform="translate(467.08,269.4) skewX(-9) scale(0.95,1)" x="0" y="0" font-size="21.5" style="font-style:italic;">i</text>
<text x="473.75" y="272" font-size="15.5" style="font-style:italic;" fill="#000" >sb</text>
<text transform="translate(507.08,269.2) skewX(-9) scale(0.95,1)" x="0" y="0" font-size="21.5" style="font-style:italic;">i</text>
<text x="513.48" y="272.6" font-size="15.5" style="" fill="#000" >sc</text>
<text transform="translate(522.08,363.2) skewX(-9) scale(0.95,1)" x="0" y="0" font-size="21.5" style="font-style:italic;">i</text>
<text x="529.25" y="366.1" font-size="15.5" style="font-style:italic;" fill="#000" >sn</text>
</svg>
</body></html>
